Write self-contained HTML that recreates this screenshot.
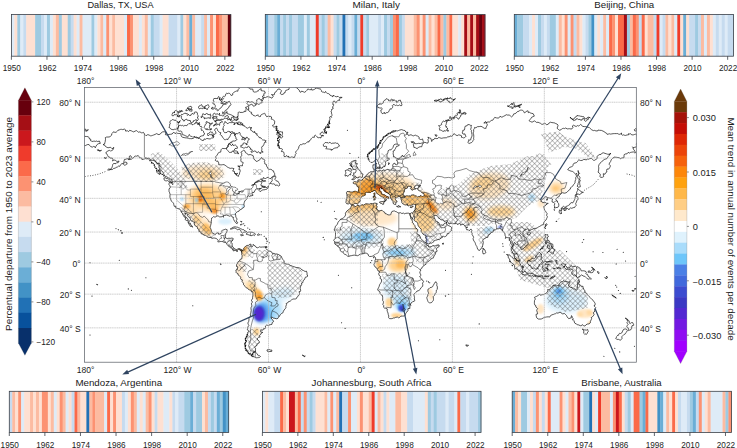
<!DOCTYPE html>
<html><head><meta charset="utf-8"><title>Figure</title>
<style>html,body{margin:0;padding:0;background:#fff;}svg{display:block}text{font-family:"Liberation Sans",sans-serif;}</style>
</head><body>
<svg width="737" height="448" viewBox="0 0 737 448">
<defs>
<clipPath id="mapclip"><rect x="84.6" y="87.4" width="551.70" height="274.80"/></clipPath>
<filter id="sb" x="-2%" y="-2%" width="104%" height="104%"><feGaussianBlur stdDeviation="0.45 0"/></filter>

<filter id="blob" x="-30%" y="-30%" width="160%" height="160%"><feGaussianBlur stdDeviation="2.2"/></filter>
<filter id="blob2" x="-30%" y="-30%" width="160%" height="160%"><feGaussianBlur stdDeviation="1.2"/></filter>
<pattern id="hatch" width="3.6" height="3.6" patternUnits="userSpaceOnUse" patternTransform="rotate(45)">
<path d="M0,0 H3.6 M0,0 V3.6" stroke="#454545" stroke-width="0.62" fill="none"/>
</pattern>

</defs>
<rect width="737" height="448" fill="#fff"/>
<g filter="url(#sb)"><rect x="11.40" y="14.5" width="3.26" height="41.70" fill="#deebf7"/><rect x="14.36" y="14.5" width="3.26" height="41.70" fill="#fee0d2"/><rect x="17.33" y="14.5" width="3.26" height="41.70" fill="#9ecae1"/><rect x="20.29" y="14.5" width="3.26" height="41.70" fill="#deebf7"/><rect x="23.26" y="14.5" width="3.26" height="41.70" fill="#c6dbef"/><rect x="26.22" y="14.5" width="9.19" height="41.70" fill="#fee0d2"/><rect x="35.12" y="14.5" width="6.23" height="41.70" fill="#9ecae1"/><rect x="41.05" y="14.5" width="3.26" height="41.70" fill="#c6dbef"/><rect x="44.01" y="14.5" width="3.26" height="41.70" fill="#deebf7"/><rect x="46.98" y="14.5" width="3.26" height="41.70" fill="#9ecae1"/><rect x="49.94" y="14.5" width="3.26" height="41.70" fill="#deebf7"/><rect x="52.91" y="14.5" width="3.26" height="41.70" fill="#fee0d2"/><rect x="55.87" y="14.5" width="3.26" height="41.70" fill="#fcbba1"/><rect x="58.84" y="14.5" width="3.26" height="41.70" fill="#9ecae1"/><rect x="61.80" y="14.5" width="6.23" height="41.70" fill="#fee0d2"/><rect x="67.73" y="14.5" width="3.26" height="41.70" fill="#9ecae1"/><rect x="70.70" y="14.5" width="3.26" height="41.70" fill="#c6dbef"/><rect x="73.66" y="14.5" width="3.26" height="41.70" fill="#fee0d2"/><rect x="76.63" y="14.5" width="3.26" height="41.70" fill="#deebf7"/><rect x="79.59" y="14.5" width="3.26" height="41.70" fill="#fcbba1"/><rect x="82.56" y="14.5" width="9.19" height="41.70" fill="#deebf7"/><rect x="91.45" y="14.5" width="3.26" height="41.70" fill="#9ecae1"/><rect x="94.42" y="14.5" width="3.26" height="41.70" fill="#deebf7"/><rect x="97.38" y="14.5" width="3.26" height="41.70" fill="#fee0d2"/><rect x="100.35" y="14.5" width="3.26" height="41.70" fill="#fcbba1"/><rect x="103.31" y="14.5" width="3.26" height="41.70" fill="#deebf7"/><rect x="106.28" y="14.5" width="3.26" height="41.70" fill="#fc9272"/><rect x="109.24" y="14.5" width="3.26" height="41.70" fill="#fee0d2"/><rect x="112.21" y="14.5" width="3.26" height="41.70" fill="#fcbba1"/><rect x="115.17" y="14.5" width="9.19" height="41.70" fill="#fee0d2"/><rect x="124.06" y="14.5" width="3.26" height="41.70" fill="#deebf7"/><rect x="127.03" y="14.5" width="3.26" height="41.70" fill="#fb6a4a"/><rect x="129.99" y="14.5" width="3.26" height="41.70" fill="#fc9272"/><rect x="132.96" y="14.5" width="6.23" height="41.70" fill="#fee0d2"/><rect x="138.89" y="14.5" width="3.26" height="41.70" fill="#deebf7"/><rect x="141.85" y="14.5" width="3.26" height="41.70" fill="#fee0d2"/><rect x="144.82" y="14.5" width="3.26" height="41.70" fill="#fcbba1"/><rect x="147.78" y="14.5" width="3.26" height="41.70" fill="#deebf7"/><rect x="150.75" y="14.5" width="3.26" height="41.70" fill="#9ecae1"/><rect x="153.71" y="14.5" width="6.23" height="41.70" fill="#c6dbef"/><rect x="159.64" y="14.5" width="3.26" height="41.70" fill="#deebf7"/><rect x="162.61" y="14.5" width="6.23" height="41.70" fill="#fee0d2"/><rect x="168.54" y="14.5" width="9.19" height="41.70" fill="#c6dbef"/><rect x="177.43" y="14.5" width="3.26" height="41.70" fill="#deebf7"/><rect x="180.40" y="14.5" width="3.26" height="41.70" fill="#9ecae1"/><rect x="183.36" y="14.5" width="3.26" height="41.70" fill="#fee0d2"/><rect x="186.33" y="14.5" width="3.26" height="41.70" fill="#fcbba1"/><rect x="189.29" y="14.5" width="3.26" height="41.70" fill="#6baed6"/><rect x="192.26" y="14.5" width="3.26" height="41.70" fill="#fcbba1"/><rect x="195.22" y="14.5" width="6.23" height="41.70" fill="#deebf7"/><rect x="201.15" y="14.5" width="3.26" height="41.70" fill="#c6dbef"/><rect x="204.12" y="14.5" width="3.26" height="41.70" fill="#fcbba1"/><rect x="207.08" y="14.5" width="3.26" height="41.70" fill="#deebf7"/><rect x="210.05" y="14.5" width="3.26" height="41.70" fill="#fc9272"/><rect x="213.01" y="14.5" width="3.26" height="41.70" fill="#fee0d2"/><rect x="215.98" y="14.5" width="3.26" height="41.70" fill="#fb6a4a"/><rect x="218.94" y="14.5" width="3.26" height="41.70" fill="#fc9272"/><rect x="221.91" y="14.5" width="6.23" height="41.70" fill="#fcbba1"/><rect x="227.84" y="14.5" width="3.26" height="41.70" fill="#67000d"/></g>
<rect x="11.4" y="14.5" width="219.40" height="41.70" fill="none" stroke="#3a3f47" stroke-width="0.8"/>
<line x1="11.40" y1="56.2" x2="11.40" y2="59.800000000000004" stroke="#3a3f47" stroke-width="0.8"/>
<text transform="translate(11.80,71.10) scale(0.99,1)" font-size="8.3" text-anchor="middle" fill="#222" >1950</text>
<line x1="46.98" y1="56.2" x2="46.98" y2="59.800000000000004" stroke="#3a3f47" stroke-width="0.8"/>
<text transform="translate(47.38,71.10) scale(0.99,1)" font-size="8.3" text-anchor="middle" fill="#222" >1962</text>
<line x1="82.56" y1="56.2" x2="82.56" y2="59.800000000000004" stroke="#3a3f47" stroke-width="0.8"/>
<text transform="translate(82.96,71.10) scale(0.99,1)" font-size="8.3" text-anchor="middle" fill="#222" >1974</text>
<line x1="118.14" y1="56.2" x2="118.14" y2="59.800000000000004" stroke="#3a3f47" stroke-width="0.8"/>
<text transform="translate(118.54,71.10) scale(0.99,1)" font-size="8.3" text-anchor="middle" fill="#222" >1986</text>
<line x1="153.71" y1="56.2" x2="153.71" y2="59.800000000000004" stroke="#3a3f47" stroke-width="0.8"/>
<text transform="translate(154.11,71.10) scale(0.99,1)" font-size="8.3" text-anchor="middle" fill="#222" >1998</text>
<line x1="189.29" y1="56.2" x2="189.29" y2="59.800000000000004" stroke="#3a3f47" stroke-width="0.8"/>
<text transform="translate(189.69,71.10) scale(0.99,1)" font-size="8.3" text-anchor="middle" fill="#222" >2010</text>
<line x1="224.87" y1="56.2" x2="224.87" y2="59.800000000000004" stroke="#3a3f47" stroke-width="0.8"/>
<text transform="translate(225.27,71.10) scale(0.99,1)" font-size="8.3" text-anchor="middle" fill="#222" >2022</text>
<text x="87.5" y="7.7" font-size="9" fill="#1a1a1a" textLength="66.1" lengthAdjust="spacingAndGlyphs">Dallas, TX, USA</text>
<g filter="url(#sb)"><rect x="265.30" y="14.5" width="3.27" height="41.70" fill="#6baed6"/><rect x="268.27" y="14.5" width="6.24" height="41.70" fill="#c6dbef"/><rect x="274.21" y="14.5" width="3.27" height="41.70" fill="#9ecae1"/><rect x="277.18" y="14.5" width="3.27" height="41.70" fill="#6baed6"/><rect x="280.14" y="14.5" width="3.27" height="41.70" fill="#c6dbef"/><rect x="283.11" y="14.5" width="3.27" height="41.70" fill="#9ecae1"/><rect x="286.08" y="14.5" width="3.27" height="41.70" fill="#c6dbef"/><rect x="289.05" y="14.5" width="3.27" height="41.70" fill="#9ecae1"/><rect x="292.02" y="14.5" width="6.24" height="41.70" fill="#c6dbef"/><rect x="297.96" y="14.5" width="6.24" height="41.70" fill="#9ecae1"/><rect x="303.90" y="14.5" width="3.27" height="41.70" fill="#deebf7"/><rect x="306.86" y="14.5" width="3.27" height="41.70" fill="#9ecae1"/><rect x="309.83" y="14.5" width="6.24" height="41.70" fill="#deebf7"/><rect x="315.77" y="14.5" width="3.27" height="41.70" fill="#ef3b2c"/><rect x="318.74" y="14.5" width="3.27" height="41.70" fill="#c6dbef"/><rect x="321.71" y="14.5" width="3.27" height="41.70" fill="#9ecae1"/><rect x="324.68" y="14.5" width="3.27" height="41.70" fill="#c6dbef"/><rect x="327.65" y="14.5" width="3.27" height="41.70" fill="#fcbba1"/><rect x="330.62" y="14.5" width="3.27" height="41.70" fill="#fee0d2"/><rect x="333.59" y="14.5" width="3.27" height="41.70" fill="#c6dbef"/><rect x="336.55" y="14.5" width="3.27" height="41.70" fill="#9ecae1"/><rect x="339.52" y="14.5" width="3.27" height="41.70" fill="#c6dbef"/><rect x="342.49" y="14.5" width="3.27" height="41.70" fill="#2171b5"/><rect x="345.46" y="14.5" width="3.27" height="41.70" fill="#c6dbef"/><rect x="348.43" y="14.5" width="3.27" height="41.70" fill="#deebf7"/><rect x="351.40" y="14.5" width="3.27" height="41.70" fill="#c6dbef"/><rect x="354.37" y="14.5" width="3.27" height="41.70" fill="#6baed6"/><rect x="357.34" y="14.5" width="3.27" height="41.70" fill="#c6dbef"/><rect x="360.31" y="14.5" width="3.27" height="41.70" fill="#ef3b2c"/><rect x="363.27" y="14.5" width="3.27" height="41.70" fill="#c6dbef"/><rect x="366.24" y="14.5" width="3.27" height="41.70" fill="#9ecae1"/><rect x="369.21" y="14.5" width="9.21" height="41.70" fill="#deebf7"/><rect x="378.12" y="14.5" width="3.27" height="41.70" fill="#c6dbef"/><rect x="381.09" y="14.5" width="3.27" height="41.70" fill="#deebf7"/><rect x="384.06" y="14.5" width="3.27" height="41.70" fill="#9ecae1"/><rect x="387.03" y="14.5" width="3.27" height="41.70" fill="#c6dbef"/><rect x="389.99" y="14.5" width="3.27" height="41.70" fill="#9ecae1"/><rect x="392.96" y="14.5" width="3.27" height="41.70" fill="#fc9272"/><rect x="395.93" y="14.5" width="3.27" height="41.70" fill="#fb6a4a"/><rect x="398.90" y="14.5" width="3.27" height="41.70" fill="#9ecae1"/><rect x="401.87" y="14.5" width="3.27" height="41.70" fill="#c6dbef"/><rect x="404.84" y="14.5" width="9.21" height="41.70" fill="#fee0d2"/><rect x="413.75" y="14.5" width="3.27" height="41.70" fill="#fcbba1"/><rect x="416.71" y="14.5" width="3.27" height="41.70" fill="#fc9272"/><rect x="419.68" y="14.5" width="3.27" height="41.70" fill="#fee0d2"/><rect x="422.65" y="14.5" width="3.27" height="41.70" fill="#fc9272"/><rect x="425.62" y="14.5" width="3.27" height="41.70" fill="#deebf7"/><rect x="428.59" y="14.5" width="3.27" height="41.70" fill="#fcbba1"/><rect x="431.56" y="14.5" width="3.27" height="41.70" fill="#fee0d2"/><rect x="434.53" y="14.5" width="3.27" height="41.70" fill="#fcbba1"/><rect x="437.50" y="14.5" width="3.27" height="41.70" fill="#fb6a4a"/><rect x="440.47" y="14.5" width="3.27" height="41.70" fill="#fcbba1"/><rect x="443.44" y="14.5" width="3.27" height="41.70" fill="#9ecae1"/><rect x="446.40" y="14.5" width="3.27" height="41.70" fill="#fcbba1"/><rect x="449.37" y="14.5" width="3.27" height="41.70" fill="#fb6a4a"/><rect x="452.34" y="14.5" width="6.24" height="41.70" fill="#fee0d2"/><rect x="458.28" y="14.5" width="3.27" height="41.70" fill="#deebf7"/><rect x="461.25" y="14.5" width="3.27" height="41.70" fill="#fee0d2"/><rect x="464.22" y="14.5" width="3.27" height="41.70" fill="#a50f15"/><rect x="467.19" y="14.5" width="3.27" height="41.70" fill="#fcbba1"/><rect x="470.16" y="14.5" width="3.27" height="41.70" fill="#a50f15"/><rect x="473.12" y="14.5" width="3.27" height="41.70" fill="#fcbba1"/><rect x="476.09" y="14.5" width="3.27" height="41.70" fill="#a50f15"/><rect x="479.06" y="14.5" width="3.27" height="41.70" fill="#67000d"/><rect x="482.03" y="14.5" width="3.27" height="41.70" fill="#a50f15"/></g>
<rect x="265.3" y="14.5" width="219.70" height="41.70" fill="none" stroke="#3a3f47" stroke-width="0.8"/>
<line x1="265.30" y1="56.2" x2="265.30" y2="59.800000000000004" stroke="#3a3f47" stroke-width="0.8"/>
<text transform="translate(265.70,71.10) scale(0.99,1)" font-size="8.3" text-anchor="middle" fill="#222" >1950</text>
<line x1="300.93" y1="56.2" x2="300.93" y2="59.800000000000004" stroke="#3a3f47" stroke-width="0.8"/>
<text transform="translate(301.33,71.10) scale(0.99,1)" font-size="8.3" text-anchor="middle" fill="#222" >1962</text>
<line x1="336.55" y1="56.2" x2="336.55" y2="59.800000000000004" stroke="#3a3f47" stroke-width="0.8"/>
<text transform="translate(336.95,71.10) scale(0.99,1)" font-size="8.3" text-anchor="middle" fill="#222" >1974</text>
<line x1="372.18" y1="56.2" x2="372.18" y2="59.800000000000004" stroke="#3a3f47" stroke-width="0.8"/>
<text transform="translate(372.58,71.10) scale(0.99,1)" font-size="8.3" text-anchor="middle" fill="#222" >1986</text>
<line x1="407.81" y1="56.2" x2="407.81" y2="59.800000000000004" stroke="#3a3f47" stroke-width="0.8"/>
<text transform="translate(408.21,71.10) scale(0.99,1)" font-size="8.3" text-anchor="middle" fill="#222" >1998</text>
<line x1="443.44" y1="56.2" x2="443.44" y2="59.800000000000004" stroke="#3a3f47" stroke-width="0.8"/>
<text transform="translate(443.84,71.10) scale(0.99,1)" font-size="8.3" text-anchor="middle" fill="#222" >2010</text>
<line x1="479.06" y1="56.2" x2="479.06" y2="59.800000000000004" stroke="#3a3f47" stroke-width="0.8"/>
<text transform="translate(479.46,71.10) scale(0.99,1)" font-size="8.3" text-anchor="middle" fill="#222" >2022</text>
<text x="352.6" y="7.7" font-size="9" fill="#1a1a1a" textLength="47.4" lengthAdjust="spacingAndGlyphs">Milan, Italy</text>
<g filter="url(#sb)"><rect x="514.30" y="14.5" width="3.26" height="41.70" fill="#6baed6"/><rect x="517.26" y="14.5" width="6.23" height="41.70" fill="#9ecae1"/><rect x="523.19" y="14.5" width="6.23" height="41.70" fill="#c6dbef"/><rect x="529.12" y="14.5" width="3.26" height="41.70" fill="#deebf7"/><rect x="532.08" y="14.5" width="3.26" height="41.70" fill="#fee0d2"/><rect x="535.04" y="14.5" width="3.26" height="41.70" fill="#deebf7"/><rect x="538.01" y="14.5" width="3.26" height="41.70" fill="#9ecae1"/><rect x="540.97" y="14.5" width="3.26" height="41.70" fill="#c6dbef"/><rect x="543.94" y="14.5" width="3.26" height="41.70" fill="#deebf7"/><rect x="546.90" y="14.5" width="3.26" height="41.70" fill="#c6dbef"/><rect x="549.86" y="14.5" width="6.23" height="41.70" fill="#9ecae1"/><rect x="555.79" y="14.5" width="3.26" height="41.70" fill="#deebf7"/><rect x="558.75" y="14.5" width="3.26" height="41.70" fill="#fcbba1"/><rect x="561.72" y="14.5" width="3.26" height="41.70" fill="#fee0d2"/><rect x="564.68" y="14.5" width="3.26" height="41.70" fill="#fc9272"/><rect x="567.64" y="14.5" width="3.26" height="41.70" fill="#deebf7"/><rect x="570.61" y="14.5" width="3.26" height="41.70" fill="#fc9272"/><rect x="573.57" y="14.5" width="3.26" height="41.70" fill="#c6dbef"/><rect x="576.53" y="14.5" width="3.26" height="41.70" fill="#fcbba1"/><rect x="579.50" y="14.5" width="3.26" height="41.70" fill="#fee0d2"/><rect x="582.46" y="14.5" width="3.26" height="41.70" fill="#deebf7"/><rect x="585.42" y="14.5" width="3.26" height="41.70" fill="#c6dbef"/><rect x="588.39" y="14.5" width="3.26" height="41.70" fill="#9ecae1"/><rect x="591.35" y="14.5" width="3.26" height="41.70" fill="#4292c6"/><rect x="594.31" y="14.5" width="3.26" height="41.70" fill="#deebf7"/><rect x="597.28" y="14.5" width="3.26" height="41.70" fill="#fee0d2"/><rect x="600.24" y="14.5" width="3.26" height="41.70" fill="#deebf7"/><rect x="603.21" y="14.5" width="3.26" height="41.70" fill="#fcbba1"/><rect x="606.17" y="14.5" width="3.26" height="41.70" fill="#deebf7"/><rect x="609.13" y="14.5" width="3.26" height="41.70" fill="#fb6a4a"/><rect x="612.10" y="14.5" width="3.26" height="41.70" fill="#fc9272"/><rect x="615.06" y="14.5" width="3.26" height="41.70" fill="#fee0d2"/><rect x="618.02" y="14.5" width="6.23" height="41.70" fill="#fb6a4a"/><rect x="623.95" y="14.5" width="3.26" height="41.70" fill="#a50f15"/><rect x="626.91" y="14.5" width="3.26" height="41.70" fill="#9ecae1"/><rect x="629.88" y="14.5" width="3.26" height="41.70" fill="#fcbba1"/><rect x="632.84" y="14.5" width="3.26" height="41.70" fill="#fb6a4a"/><rect x="635.80" y="14.5" width="3.26" height="41.70" fill="#fc9272"/><rect x="638.77" y="14.5" width="3.26" height="41.70" fill="#c6dbef"/><rect x="641.73" y="14.5" width="3.26" height="41.70" fill="#fb6a4a"/><rect x="644.69" y="14.5" width="3.26" height="41.70" fill="#fee0d2"/><rect x="647.66" y="14.5" width="6.23" height="41.70" fill="#fcbba1"/><rect x="653.59" y="14.5" width="3.26" height="41.70" fill="#c6dbef"/><rect x="656.55" y="14.5" width="3.26" height="41.70" fill="#ef3b2c"/><rect x="659.51" y="14.5" width="3.26" height="41.70" fill="#deebf7"/><rect x="662.48" y="14.5" width="3.26" height="41.70" fill="#c6dbef"/><rect x="665.44" y="14.5" width="3.26" height="41.70" fill="#fcbba1"/><rect x="668.40" y="14.5" width="3.26" height="41.70" fill="#fee0d2"/><rect x="671.37" y="14.5" width="3.26" height="41.70" fill="#fcbba1"/><rect x="674.33" y="14.5" width="3.26" height="41.70" fill="#deebf7"/><rect x="677.29" y="14.5" width="3.26" height="41.70" fill="#ef3b2c"/><rect x="680.26" y="14.5" width="3.26" height="41.70" fill="#fee0d2"/><rect x="683.22" y="14.5" width="3.26" height="41.70" fill="#6baed6"/><rect x="686.18" y="14.5" width="3.26" height="41.70" fill="#fee0d2"/><rect x="689.15" y="14.5" width="6.23" height="41.70" fill="#c6dbef"/><rect x="695.07" y="14.5" width="3.26" height="41.70" fill="#9ecae1"/><rect x="698.04" y="14.5" width="3.26" height="41.70" fill="#c6dbef"/><rect x="701.00" y="14.5" width="3.26" height="41.70" fill="#fcbba1"/><rect x="703.96" y="14.5" width="3.26" height="41.70" fill="#deebf7"/><rect x="706.93" y="14.5" width="3.26" height="41.70" fill="#fcbba1"/><rect x="709.89" y="14.5" width="3.26" height="41.70" fill="#fee0d2"/><rect x="712.86" y="14.5" width="3.26" height="41.70" fill="#deebf7"/><rect x="715.82" y="14.5" width="3.26" height="41.70" fill="#c6dbef"/><rect x="718.78" y="14.5" width="3.26" height="41.70" fill="#deebf7"/><rect x="721.75" y="14.5" width="3.26" height="41.70" fill="#c6dbef"/><rect x="724.71" y="14.5" width="3.26" height="41.70" fill="#deebf7"/><rect x="727.67" y="14.5" width="6.23" height="41.70" fill="#c6dbef"/></g>
<rect x="514.3" y="14.5" width="219.30" height="41.70" fill="none" stroke="#3a3f47" stroke-width="0.8"/>
<line x1="514.30" y1="56.2" x2="514.30" y2="59.800000000000004" stroke="#3a3f47" stroke-width="0.8"/>
<text transform="translate(514.70,71.10) scale(0.99,1)" font-size="8.3" text-anchor="middle" fill="#222" >1950</text>
<line x1="549.86" y1="56.2" x2="549.86" y2="59.800000000000004" stroke="#3a3f47" stroke-width="0.8"/>
<text transform="translate(550.26,71.10) scale(0.99,1)" font-size="8.3" text-anchor="middle" fill="#222" >1962</text>
<line x1="585.42" y1="56.2" x2="585.42" y2="59.800000000000004" stroke="#3a3f47" stroke-width="0.8"/>
<text transform="translate(585.82,71.10) scale(0.99,1)" font-size="8.3" text-anchor="middle" fill="#222" >1974</text>
<line x1="620.99" y1="56.2" x2="620.99" y2="59.800000000000004" stroke="#3a3f47" stroke-width="0.8"/>
<text transform="translate(621.39,71.10) scale(0.99,1)" font-size="8.3" text-anchor="middle" fill="#222" >1986</text>
<line x1="656.55" y1="56.2" x2="656.55" y2="59.800000000000004" stroke="#3a3f47" stroke-width="0.8"/>
<text transform="translate(656.95,71.10) scale(0.99,1)" font-size="8.3" text-anchor="middle" fill="#222" >1998</text>
<line x1="692.11" y1="56.2" x2="692.11" y2="59.800000000000004" stroke="#3a3f47" stroke-width="0.8"/>
<text transform="translate(692.51,71.10) scale(0.99,1)" font-size="8.3" text-anchor="middle" fill="#222" >2010</text>
<line x1="727.67" y1="56.2" x2="727.67" y2="59.800000000000004" stroke="#3a3f47" stroke-width="0.8"/>
<text transform="translate(728.07,71.10) scale(0.99,1)" font-size="8.3" text-anchor="middle" fill="#222" >2022</text>
<text x="594.3" y="7.7" font-size="9" fill="#1a1a1a" textLength="59.9" lengthAdjust="spacingAndGlyphs">Beijing, China</text>
<g filter="url(#sb)"><rect x="9.30" y="391.3" width="3.26" height="41.10" fill="#c6dbef"/><rect x="12.26" y="391.3" width="3.26" height="41.10" fill="#fcbba1"/><rect x="15.23" y="391.3" width="3.26" height="41.10" fill="#fee0d2"/><rect x="18.19" y="391.3" width="3.26" height="41.10" fill="#fc9272"/><rect x="21.16" y="391.3" width="3.26" height="41.10" fill="#deebf7"/><rect x="24.12" y="391.3" width="6.23" height="41.10" fill="#fee0d2"/><rect x="30.05" y="391.3" width="3.26" height="41.10" fill="#fcbba1"/><rect x="33.02" y="391.3" width="3.26" height="41.10" fill="#fee0d2"/><rect x="35.98" y="391.3" width="3.26" height="41.10" fill="#fcbba1"/><rect x="38.95" y="391.3" width="3.26" height="41.10" fill="#fee0d2"/><rect x="41.91" y="391.3" width="6.23" height="41.10" fill="#fc9272"/><rect x="47.84" y="391.3" width="3.26" height="41.10" fill="#fee0d2"/><rect x="50.81" y="391.3" width="3.26" height="41.10" fill="#fcbba1"/><rect x="53.77" y="391.3" width="3.26" height="41.10" fill="#deebf7"/><rect x="56.74" y="391.3" width="3.26" height="41.10" fill="#fee0d2"/><rect x="59.70" y="391.3" width="3.26" height="41.10" fill="#fc9272"/><rect x="62.67" y="391.3" width="3.26" height="41.10" fill="#fcbba1"/><rect x="65.63" y="391.3" width="3.26" height="41.10" fill="#deebf7"/><rect x="68.60" y="391.3" width="3.26" height="41.10" fill="#fee0d2"/><rect x="71.56" y="391.3" width="3.26" height="41.10" fill="#c6dbef"/><rect x="74.53" y="391.3" width="3.26" height="41.10" fill="#fb6a4a"/><rect x="77.49" y="391.3" width="3.26" height="41.10" fill="#fcbba1"/><rect x="80.46" y="391.3" width="6.23" height="41.10" fill="#fee0d2"/><rect x="86.39" y="391.3" width="3.26" height="41.10" fill="#2171b5"/><rect x="89.35" y="391.3" width="3.26" height="41.10" fill="#fcbba1"/><rect x="92.32" y="391.3" width="3.26" height="41.10" fill="#fc9272"/><rect x="95.28" y="391.3" width="9.19" height="41.10" fill="#fcbba1"/><rect x="104.18" y="391.3" width="3.26" height="41.10" fill="#deebf7"/><rect x="107.14" y="391.3" width="3.26" height="41.10" fill="#fb6a4a"/><rect x="110.11" y="391.3" width="3.26" height="41.10" fill="#fee0d2"/><rect x="113.07" y="391.3" width="3.26" height="41.10" fill="#fc9272"/><rect x="116.04" y="391.3" width="6.23" height="41.10" fill="#fee0d2"/><rect x="121.96" y="391.3" width="3.26" height="41.10" fill="#c6dbef"/><rect x="124.93" y="391.3" width="3.26" height="41.10" fill="#deebf7"/><rect x="127.89" y="391.3" width="3.26" height="41.10" fill="#fee0d2"/><rect x="130.86" y="391.3" width="3.26" height="41.10" fill="#fc9272"/><rect x="133.82" y="391.3" width="3.26" height="41.10" fill="#fcbba1"/><rect x="136.79" y="391.3" width="3.26" height="41.10" fill="#deebf7"/><rect x="139.75" y="391.3" width="3.26" height="41.10" fill="#fee0d2"/><rect x="142.72" y="391.3" width="3.26" height="41.10" fill="#deebf7"/><rect x="145.68" y="391.3" width="3.26" height="41.10" fill="#fcbba1"/><rect x="148.65" y="391.3" width="3.26" height="41.10" fill="#fc9272"/><rect x="151.61" y="391.3" width="3.26" height="41.10" fill="#fee0d2"/><rect x="154.58" y="391.3" width="3.26" height="41.10" fill="#c6dbef"/><rect x="157.54" y="391.3" width="6.23" height="41.10" fill="#fee0d2"/><rect x="163.47" y="391.3" width="6.23" height="41.10" fill="#deebf7"/><rect x="169.40" y="391.3" width="3.26" height="41.10" fill="#fee0d2"/><rect x="172.37" y="391.3" width="3.26" height="41.10" fill="#c6dbef"/><rect x="175.33" y="391.3" width="3.26" height="41.10" fill="#deebf7"/><rect x="178.30" y="391.3" width="6.23" height="41.10" fill="#c6dbef"/><rect x="184.23" y="391.3" width="6.23" height="41.10" fill="#9ecae1"/><rect x="190.16" y="391.3" width="3.26" height="41.10" fill="#6baed6"/><rect x="193.12" y="391.3" width="3.26" height="41.10" fill="#c6dbef"/><rect x="196.09" y="391.3" width="6.23" height="41.10" fill="#9ecae1"/><rect x="202.02" y="391.3" width="3.26" height="41.10" fill="#fee0d2"/><rect x="204.98" y="391.3" width="3.26" height="41.10" fill="#fcbba1"/><rect x="207.95" y="391.3" width="3.26" height="41.10" fill="#c6dbef"/><rect x="210.91" y="391.3" width="3.26" height="41.10" fill="#9ecae1"/><rect x="213.88" y="391.3" width="3.26" height="41.10" fill="#c6dbef"/><rect x="216.84" y="391.3" width="3.26" height="41.10" fill="#6baed6"/><rect x="219.81" y="391.3" width="3.26" height="41.10" fill="#9ecae1"/><rect x="222.77" y="391.3" width="3.26" height="41.10" fill="#4292c6"/><rect x="225.74" y="391.3" width="3.26" height="41.10" fill="#6baed6"/></g>
<rect x="9.3" y="391.3" width="219.40" height="41.10" fill="none" stroke="#3a3f47" stroke-width="0.8"/>
<line x1="9.30" y1="432.4" x2="9.30" y2="436.0" stroke="#3a3f47" stroke-width="0.8"/>
<text transform="translate(9.70,447.80) scale(0.99,1)" font-size="8.3" text-anchor="middle" fill="#222" >1950</text>
<line x1="44.88" y1="432.4" x2="44.88" y2="436.0" stroke="#3a3f47" stroke-width="0.8"/>
<text transform="translate(45.28,447.80) scale(0.99,1)" font-size="8.3" text-anchor="middle" fill="#222" >1962</text>
<line x1="80.46" y1="432.4" x2="80.46" y2="436.0" stroke="#3a3f47" stroke-width="0.8"/>
<text transform="translate(80.86,447.80) scale(0.99,1)" font-size="8.3" text-anchor="middle" fill="#222" >1974</text>
<line x1="116.04" y1="432.4" x2="116.04" y2="436.0" stroke="#3a3f47" stroke-width="0.8"/>
<text transform="translate(116.44,447.80) scale(0.99,1)" font-size="8.3" text-anchor="middle" fill="#222" >1986</text>
<line x1="151.61" y1="432.4" x2="151.61" y2="436.0" stroke="#3a3f47" stroke-width="0.8"/>
<text transform="translate(152.01,447.80) scale(0.99,1)" font-size="8.3" text-anchor="middle" fill="#222" >1998</text>
<line x1="187.19" y1="432.4" x2="187.19" y2="436.0" stroke="#3a3f47" stroke-width="0.8"/>
<text transform="translate(187.59,447.80) scale(0.99,1)" font-size="8.3" text-anchor="middle" fill="#222" >2010</text>
<line x1="222.77" y1="432.4" x2="222.77" y2="436.0" stroke="#3a3f47" stroke-width="0.8"/>
<text transform="translate(223.17,447.80) scale(0.99,1)" font-size="8.3" text-anchor="middle" fill="#222" >2022</text>
<text x="75.4" y="385.5" font-size="9" fill="#1a1a1a" textLength="86.7" lengthAdjust="spacingAndGlyphs">Mendoza, Argentina</text>
<g filter="url(#sb)"><rect x="262.40" y="391.3" width="3.25" height="41.10" fill="#deebf7"/><rect x="265.35" y="391.3" width="3.25" height="41.10" fill="#fee0d2"/><rect x="268.31" y="391.3" width="6.21" height="41.10" fill="#deebf7"/><rect x="274.22" y="391.3" width="6.21" height="41.10" fill="#c6dbef"/><rect x="280.12" y="391.3" width="3.25" height="41.10" fill="#fb6a4a"/><rect x="283.08" y="391.3" width="3.25" height="41.10" fill="#fcbba1"/><rect x="286.03" y="391.3" width="3.25" height="41.10" fill="#fee0d2"/><rect x="288.99" y="391.3" width="6.21" height="41.10" fill="#cb181d"/><rect x="294.89" y="391.3" width="3.25" height="41.10" fill="#fcbba1"/><rect x="297.85" y="391.3" width="3.25" height="41.10" fill="#fb6a4a"/><rect x="300.80" y="391.3" width="3.25" height="41.10" fill="#c6dbef"/><rect x="303.76" y="391.3" width="3.25" height="41.10" fill="#fc9272"/><rect x="306.71" y="391.3" width="3.25" height="41.10" fill="#c6dbef"/><rect x="309.66" y="391.3" width="3.25" height="41.10" fill="#9ecae1"/><rect x="312.62" y="391.3" width="3.25" height="41.10" fill="#c6dbef"/><rect x="315.57" y="391.3" width="9.16" height="41.10" fill="#fee0d2"/><rect x="324.44" y="391.3" width="3.25" height="41.10" fill="#fcbba1"/><rect x="327.39" y="391.3" width="3.25" height="41.10" fill="#deebf7"/><rect x="330.34" y="391.3" width="3.25" height="41.10" fill="#fc9272"/><rect x="333.30" y="391.3" width="3.25" height="41.10" fill="#deebf7"/><rect x="336.25" y="391.3" width="3.25" height="41.10" fill="#fcbba1"/><rect x="339.21" y="391.3" width="3.25" height="41.10" fill="#2171b5"/><rect x="342.16" y="391.3" width="6.21" height="41.10" fill="#c6dbef"/><rect x="348.07" y="391.3" width="3.25" height="41.10" fill="#fc9272"/><rect x="351.02" y="391.3" width="6.21" height="41.10" fill="#deebf7"/><rect x="356.93" y="391.3" width="3.25" height="41.10" fill="#fee0d2"/><rect x="359.88" y="391.3" width="3.25" height="41.10" fill="#fc9272"/><rect x="362.84" y="391.3" width="6.21" height="41.10" fill="#fee0d2"/><rect x="368.75" y="391.3" width="3.25" height="41.10" fill="#fcbba1"/><rect x="371.70" y="391.3" width="3.25" height="41.10" fill="#ef3b2c"/><rect x="374.65" y="391.3" width="3.25" height="41.10" fill="#deebf7"/><rect x="377.61" y="391.3" width="3.25" height="41.10" fill="#fcbba1"/><rect x="380.56" y="391.3" width="3.25" height="41.10" fill="#fee0d2"/><rect x="383.52" y="391.3" width="3.25" height="41.10" fill="#c6dbef"/><rect x="386.47" y="391.3" width="3.25" height="41.10" fill="#fee0d2"/><rect x="389.42" y="391.3" width="6.21" height="41.10" fill="#deebf7"/><rect x="395.33" y="391.3" width="6.21" height="41.10" fill="#fcbba1"/><rect x="401.24" y="391.3" width="6.21" height="41.10" fill="#fee0d2"/><rect x="407.15" y="391.3" width="6.21" height="41.10" fill="#c6dbef"/><rect x="413.06" y="391.3" width="12.12" height="41.10" fill="#deebf7"/><rect x="424.87" y="391.3" width="3.25" height="41.10" fill="#fee0d2"/><rect x="427.83" y="391.3" width="3.25" height="41.10" fill="#9ecae1"/><rect x="430.78" y="391.3" width="3.25" height="41.10" fill="#c6dbef"/><rect x="433.74" y="391.3" width="3.25" height="41.10" fill="#9ecae1"/><rect x="436.69" y="391.3" width="9.16" height="41.10" fill="#c6dbef"/><rect x="445.55" y="391.3" width="3.25" height="41.10" fill="#deebf7"/><rect x="448.51" y="391.3" width="6.21" height="41.10" fill="#c6dbef"/><rect x="454.41" y="391.3" width="3.25" height="41.10" fill="#deebf7"/><rect x="457.37" y="391.3" width="3.25" height="41.10" fill="#fb6a4a"/><rect x="460.32" y="391.3" width="6.21" height="41.10" fill="#c6dbef"/><rect x="466.23" y="391.3" width="3.25" height="41.10" fill="#deebf7"/><rect x="469.18" y="391.3" width="9.16" height="41.10" fill="#c6dbef"/><rect x="478.05" y="391.3" width="3.25" height="41.10" fill="#9ecae1"/></g>
<rect x="262.4" y="391.3" width="218.60" height="41.10" fill="none" stroke="#3a3f47" stroke-width="0.8"/>
<line x1="262.40" y1="432.4" x2="262.40" y2="436.0" stroke="#3a3f47" stroke-width="0.8"/>
<text transform="translate(262.80,447.80) scale(0.99,1)" font-size="8.3" text-anchor="middle" fill="#222" >1950</text>
<line x1="297.85" y1="432.4" x2="297.85" y2="436.0" stroke="#3a3f47" stroke-width="0.8"/>
<text transform="translate(298.25,447.80) scale(0.99,1)" font-size="8.3" text-anchor="middle" fill="#222" >1962</text>
<line x1="333.30" y1="432.4" x2="333.30" y2="436.0" stroke="#3a3f47" stroke-width="0.8"/>
<text transform="translate(333.70,447.80) scale(0.99,1)" font-size="8.3" text-anchor="middle" fill="#222" >1974</text>
<line x1="368.75" y1="432.4" x2="368.75" y2="436.0" stroke="#3a3f47" stroke-width="0.8"/>
<text transform="translate(369.15,447.80) scale(0.99,1)" font-size="8.3" text-anchor="middle" fill="#222" >1986</text>
<line x1="404.19" y1="432.4" x2="404.19" y2="436.0" stroke="#3a3f47" stroke-width="0.8"/>
<text transform="translate(404.59,447.80) scale(0.99,1)" font-size="8.3" text-anchor="middle" fill="#222" >1998</text>
<line x1="439.64" y1="432.4" x2="439.64" y2="436.0" stroke="#3a3f47" stroke-width="0.8"/>
<text transform="translate(440.04,447.80) scale(0.99,1)" font-size="8.3" text-anchor="middle" fill="#222" >2010</text>
<line x1="475.09" y1="432.4" x2="475.09" y2="436.0" stroke="#3a3f47" stroke-width="0.8"/>
<text transform="translate(475.49,447.80) scale(0.99,1)" font-size="8.3" text-anchor="middle" fill="#222" >2022</text>
<text x="311.6" y="385.5" font-size="9" fill="#1a1a1a" textLength="119.8" lengthAdjust="spacingAndGlyphs">Johannesburg, South Africa</text>
<g filter="url(#sb)"><rect x="512.20" y="391.3" width="3.26" height="41.10" fill="#6baed6"/><rect x="515.16" y="391.3" width="3.26" height="41.10" fill="#fcbba1"/><rect x="518.12" y="391.3" width="3.26" height="41.10" fill="#fee0d2"/><rect x="521.09" y="391.3" width="6.22" height="41.10" fill="#9ecae1"/><rect x="527.01" y="391.3" width="3.26" height="41.10" fill="#deebf7"/><rect x="529.97" y="391.3" width="3.26" height="41.10" fill="#fee0d2"/><rect x="532.94" y="391.3" width="3.26" height="41.10" fill="#c6dbef"/><rect x="535.90" y="391.3" width="3.26" height="41.10" fill="#fc9272"/><rect x="538.86" y="391.3" width="3.26" height="41.10" fill="#fee0d2"/><rect x="541.82" y="391.3" width="3.26" height="41.10" fill="#c6dbef"/><rect x="544.78" y="391.3" width="3.26" height="41.10" fill="#fee0d2"/><rect x="547.75" y="391.3" width="3.26" height="41.10" fill="#fb6a4a"/><rect x="550.71" y="391.3" width="9.19" height="41.10" fill="#deebf7"/><rect x="559.59" y="391.3" width="3.26" height="41.10" fill="#fc9272"/><rect x="562.56" y="391.3" width="3.26" height="41.10" fill="#fee0d2"/><rect x="565.52" y="391.3" width="3.26" height="41.10" fill="#deebf7"/><rect x="568.48" y="391.3" width="3.26" height="41.10" fill="#fcbba1"/><rect x="571.44" y="391.3" width="3.26" height="41.10" fill="#fc9272"/><rect x="574.41" y="391.3" width="3.26" height="41.10" fill="#fee0d2"/><rect x="577.37" y="391.3" width="3.26" height="41.10" fill="#cb181d"/><rect x="580.33" y="391.3" width="3.26" height="41.10" fill="#deebf7"/><rect x="583.29" y="391.3" width="6.22" height="41.10" fill="#9ecae1"/><rect x="589.22" y="391.3" width="3.26" height="41.10" fill="#2171b5"/><rect x="592.18" y="391.3" width="3.26" height="41.10" fill="#fee0d2"/><rect x="595.14" y="391.3" width="3.26" height="41.10" fill="#deebf7"/><rect x="598.10" y="391.3" width="3.26" height="41.10" fill="#ef3b2c"/><rect x="601.06" y="391.3" width="9.19" height="41.10" fill="#fcbba1"/><rect x="609.95" y="391.3" width="3.26" height="41.10" fill="#deebf7"/><rect x="612.91" y="391.3" width="3.26" height="41.10" fill="#fc9272"/><rect x="615.88" y="391.3" width="3.26" height="41.10" fill="#cb181d"/><rect x="618.84" y="391.3" width="3.26" height="41.10" fill="#fb6a4a"/><rect x="621.80" y="391.3" width="3.26" height="41.10" fill="#fee0d2"/><rect x="624.76" y="391.3" width="3.26" height="41.10" fill="#c6dbef"/><rect x="627.72" y="391.3" width="3.26" height="41.10" fill="#9ecae1"/><rect x="630.69" y="391.3" width="3.26" height="41.10" fill="#deebf7"/><rect x="633.65" y="391.3" width="6.22" height="41.10" fill="#fb6a4a"/><rect x="639.57" y="391.3" width="3.26" height="41.10" fill="#9ecae1"/><rect x="642.54" y="391.3" width="3.26" height="41.10" fill="#6baed6"/><rect x="645.50" y="391.3" width="3.26" height="41.10" fill="#fb6a4a"/><rect x="648.46" y="391.3" width="9.19" height="41.10" fill="#fee0d2"/><rect x="657.35" y="391.3" width="3.26" height="41.10" fill="#4292c6"/><rect x="660.31" y="391.3" width="3.26" height="41.10" fill="#6baed6"/><rect x="663.27" y="391.3" width="3.26" height="41.10" fill="#deebf7"/><rect x="666.23" y="391.3" width="3.26" height="41.10" fill="#fcbba1"/><rect x="669.19" y="391.3" width="3.26" height="41.10" fill="#fee0d2"/><rect x="672.16" y="391.3" width="3.26" height="41.10" fill="#fb6a4a"/><rect x="675.12" y="391.3" width="3.26" height="41.10" fill="#fee0d2"/><rect x="678.08" y="391.3" width="3.26" height="41.10" fill="#c6dbef"/><rect x="681.04" y="391.3" width="6.22" height="41.10" fill="#deebf7"/><rect x="686.97" y="391.3" width="3.26" height="41.10" fill="#c6dbef"/><rect x="689.93" y="391.3" width="3.26" height="41.10" fill="#9ecae1"/><rect x="692.89" y="391.3" width="3.26" height="41.10" fill="#6baed6"/><rect x="695.85" y="391.3" width="3.26" height="41.10" fill="#c6dbef"/><rect x="698.82" y="391.3" width="3.26" height="41.10" fill="#fc9272"/><rect x="701.78" y="391.3" width="3.26" height="41.10" fill="#deebf7"/><rect x="704.74" y="391.3" width="3.26" height="41.10" fill="#fee0d2"/><rect x="707.70" y="391.3" width="3.26" height="41.10" fill="#fcbba1"/><rect x="710.66" y="391.3" width="12.15" height="41.10" fill="#deebf7"/><rect x="722.51" y="391.3" width="3.26" height="41.10" fill="#fcbba1"/><rect x="725.48" y="391.3" width="3.26" height="41.10" fill="#9ecae1"/><rect x="728.44" y="391.3" width="3.26" height="41.10" fill="#fc9272"/></g>
<rect x="512.2" y="391.3" width="219.20" height="41.10" fill="none" stroke="#3a3f47" stroke-width="0.8"/>
<line x1="512.20" y1="432.4" x2="512.20" y2="436.0" stroke="#3a3f47" stroke-width="0.8"/>
<text transform="translate(512.60,447.80) scale(0.99,1)" font-size="8.3" text-anchor="middle" fill="#222" >1950</text>
<line x1="547.75" y1="432.4" x2="547.75" y2="436.0" stroke="#3a3f47" stroke-width="0.8"/>
<text transform="translate(548.15,447.80) scale(0.99,1)" font-size="8.3" text-anchor="middle" fill="#222" >1962</text>
<line x1="583.29" y1="432.4" x2="583.29" y2="436.0" stroke="#3a3f47" stroke-width="0.8"/>
<text transform="translate(583.69,447.80) scale(0.99,1)" font-size="8.3" text-anchor="middle" fill="#222" >1974</text>
<line x1="618.84" y1="432.4" x2="618.84" y2="436.0" stroke="#3a3f47" stroke-width="0.8"/>
<text transform="translate(619.24,447.80) scale(0.99,1)" font-size="8.3" text-anchor="middle" fill="#222" >1986</text>
<line x1="654.38" y1="432.4" x2="654.38" y2="436.0" stroke="#3a3f47" stroke-width="0.8"/>
<text transform="translate(654.78,447.80) scale(0.99,1)" font-size="8.3" text-anchor="middle" fill="#222" >1998</text>
<line x1="689.93" y1="432.4" x2="689.93" y2="436.0" stroke="#3a3f47" stroke-width="0.8"/>
<text transform="translate(690.33,447.80) scale(0.99,1)" font-size="8.3" text-anchor="middle" fill="#222" >2010</text>
<line x1="725.48" y1="432.4" x2="725.48" y2="436.0" stroke="#3a3f47" stroke-width="0.8"/>
<text transform="translate(725.88,447.80) scale(0.99,1)" font-size="8.3" text-anchor="middle" fill="#222" >2022</text>
<text x="581.3" y="385.5" font-size="9" fill="#1a1a1a" textLength="80.4" lengthAdjust="spacingAndGlyphs">Brisbane, Australia</text>
<path d="M18.4,100.5 L24.9,87.8 L31.4,100.5 Z" fill="#67000d"/>
<path d="M18.4,342.9 L24.9,355.3 L31.4,342.9 Z" fill="#08306b"/>
<rect x="18.4" y="100.20" width="13.00" height="15.49" fill="#67000d"/>
<rect x="18.4" y="115.39" width="13.00" height="15.49" fill="#a50f15"/>
<rect x="18.4" y="130.57" width="13.00" height="15.49" fill="#cb181d"/>
<rect x="18.4" y="145.76" width="13.00" height="15.49" fill="#ef3b2c"/>
<rect x="18.4" y="160.95" width="13.00" height="15.49" fill="#fb6a4a"/>
<rect x="18.4" y="176.14" width="13.00" height="15.49" fill="#fc9272"/>
<rect x="18.4" y="191.32" width="13.00" height="15.49" fill="#fcbba1"/>
<rect x="18.4" y="206.51" width="13.00" height="15.49" fill="#fee0d2"/>
<rect x="18.4" y="221.70" width="13.00" height="15.49" fill="#deebf7"/>
<rect x="18.4" y="236.89" width="13.00" height="15.49" fill="#c6dbef"/>
<rect x="18.4" y="252.07" width="13.00" height="15.49" fill="#9ecae1"/>
<rect x="18.4" y="267.26" width="13.00" height="15.49" fill="#6baed6"/>
<rect x="18.4" y="282.45" width="13.00" height="15.49" fill="#4292c6"/>
<rect x="18.4" y="297.64" width="13.00" height="15.49" fill="#2171b5"/>
<rect x="18.4" y="312.82" width="13.00" height="15.49" fill="#08519c"/>
<rect x="18.4" y="328.01" width="13.00" height="15.49" fill="#08306b"/>
<path d="M18.4,100.2 L24.9,87.8 L31.4,100.2 L31.4,343.2 L24.9,355.3 L18.4,343.2 Z" fill="none" stroke="#555" stroke-width="0.35" stroke-opacity="0.6"/>
<line x1="31.4" y1="101.90" x2="33.4" y2="101.90" stroke="#444" stroke-width="0.6"/>
<text transform="translate(36.40,105.10)" font-size="8.3" text-anchor="start" fill="#222" >120</text>
<line x1="31.4" y1="141.90" x2="33.4" y2="141.90" stroke="#444" stroke-width="0.6"/>
<text transform="translate(36.40,145.10)" font-size="8.3" text-anchor="start" fill="#222" >80</text>
<line x1="31.4" y1="181.90" x2="33.4" y2="181.90" stroke="#444" stroke-width="0.6"/>
<text transform="translate(36.40,185.10)" font-size="8.3" text-anchor="start" fill="#222" >40</text>
<line x1="31.4" y1="221.90" x2="33.4" y2="221.90" stroke="#444" stroke-width="0.6"/>
<text transform="translate(36.40,225.10)" font-size="8.3" text-anchor="start" fill="#222" >0</text>
<line x1="31.4" y1="261.90" x2="33.4" y2="261.90" stroke="#444" stroke-width="0.6"/>
<text transform="translate(36.40,265.10)" font-size="8.3" text-anchor="start" fill="#222" >−40</text>
<line x1="31.4" y1="301.90" x2="33.4" y2="301.90" stroke="#444" stroke-width="0.6"/>
<text transform="translate(36.40,305.10)" font-size="8.3" text-anchor="start" fill="#222" >−80</text>
<line x1="31.4" y1="341.90" x2="33.4" y2="341.90" stroke="#444" stroke-width="0.6"/>
<text transform="translate(36.40,345.10)" font-size="8.3" text-anchor="start" fill="#222" >−120</text>
<text transform="translate(11.50,224.00) rotate(-90) scale(1.125,1)" font-size="8.8" text-anchor="middle" fill="#222" >Percentual departure from 1950 to 2023 average</text>
<path d="M674.3,101.6 L680.5999999999999,89.0 L686.9,101.6 Z" fill="#6b3a0a"/>
<path d="M674.3,351.2 L680.5999999999999,363.6 L686.9,351.2 Z" fill="#a100ff"/>
<rect x="674.3" y="101.30" width="12.60" height="11.18" fill="#6b3a0a"/>
<rect x="674.3" y="112.18" width="12.60" height="11.18" fill="#a51209"/>
<rect x="674.3" y="123.06" width="12.60" height="11.18" fill="#c40d05"/>
<rect x="674.3" y="133.93" width="12.60" height="11.18" fill="#de2705"/>
<rect x="674.3" y="144.81" width="12.60" height="11.18" fill="#ec4409"/>
<rect x="674.3" y="155.69" width="12.60" height="11.18" fill="#f6620c"/>
<rect x="674.3" y="166.57" width="12.60" height="11.18" fill="#fd870a"/>
<rect x="674.3" y="177.45" width="12.60" height="11.18" fill="#ffa20f"/>
<rect x="674.3" y="188.33" width="12.60" height="11.18" fill="#ffb84a"/>
<rect x="674.3" y="199.20" width="12.60" height="11.18" fill="#ffce85"/>
<rect x="674.3" y="210.08" width="12.60" height="11.18" fill="#ffe9cc"/>
<rect x="674.3" y="220.96" width="12.60" height="11.18" fill="#ffffff"/>
<rect x="674.3" y="231.84" width="12.60" height="11.18" fill="#dff2fd"/>
<rect x="674.3" y="242.72" width="12.60" height="11.18" fill="#a9dcfb"/>
<rect x="674.3" y="253.60" width="12.60" height="11.18" fill="#6ec6fa"/>
<rect x="674.3" y="264.47" width="12.60" height="11.18" fill="#4b80e6"/>
<rect x="674.3" y="275.35" width="12.60" height="11.18" fill="#4169dc"/>
<rect x="674.3" y="286.23" width="12.60" height="11.18" fill="#3c4cd0"/>
<rect x="674.3" y="297.11" width="12.60" height="11.18" fill="#3b39c4"/>
<rect x="674.3" y="307.99" width="12.60" height="11.18" fill="#5328d2"/>
<rect x="674.3" y="318.87" width="12.60" height="11.18" fill="#7219e2"/>
<rect x="674.3" y="329.74" width="12.60" height="11.18" fill="#900df2"/>
<rect x="674.3" y="340.62" width="12.60" height="11.18" fill="#a100ff"/>
<path d="M674.3,101.3 L680.5999999999999,89.0 L686.9,101.3 L686.9,351.5 L680.5999999999999,363.6 L674.3,351.5 Z" fill="none" stroke="#555" stroke-width="0.35" stroke-opacity="0.6"/>
<line x1="686.9" y1="117.60" x2="688.9" y2="117.60" stroke="#444" stroke-width="0.6"/>
<text transform="translate(692.70,121.30) scale(1.12,1)" font-size="8.3" text-anchor="start" fill="#222" >0.030</text>
<line x1="686.9" y1="172.00" x2="688.9" y2="172.00" stroke="#444" stroke-width="0.6"/>
<text transform="translate(692.70,175.70) scale(1.12,1)" font-size="8.3" text-anchor="start" fill="#222" >0.015</text>
<line x1="686.9" y1="226.40" x2="688.9" y2="226.40" stroke="#444" stroke-width="0.6"/>
<text transform="translate(692.70,230.10) scale(1.12,1)" font-size="8.3" text-anchor="start" fill="#222" >0</text>
<line x1="686.9" y1="280.80" x2="688.9" y2="280.80" stroke="#444" stroke-width="0.6"/>
<text transform="translate(692.70,284.50) scale(1.12,1)" font-size="8.3" text-anchor="start" fill="#222" >−0.015</text>
<line x1="686.9" y1="335.20" x2="688.9" y2="335.20" stroke="#444" stroke-width="0.6"/>
<text transform="translate(692.70,338.90) scale(1.12,1)" font-size="8.3" text-anchor="start" fill="#222" >−0.030</text>
<text transform="translate(728.10,229.00) rotate(90) scale(1.12,1)" font-size="8.8" text-anchor="middle" fill="#222" >Mean trend in annual number of events per decade</text>
<rect x="84.6" y="87.4" width="551.70" height="274.80" fill="#fff"/>
<g id="mapcontent" clip-path="url(#mapclip)">
<clipPath id="landclip"><path d="M103.0,144.6 L104.6,144.0 L104.8,142.8 L105.2,141.8 L105.2,141.0 L105.5,139.7 L105.5,138.9 L105.3,137.6 L106.4,137.1 L108.0,137.0 L109.7,137.0 L110.7,135.8 L111.9,134.9 L111.5,133.9 L112.3,133.3 L113.0,132.2 L113.9,131.8 L115.0,132.5 L116.4,132.0 L117.3,131.2 L118.0,130.2 L119.1,130.0 L120.5,129.4 L121.5,129.3 L122.6,129.6 L124.5,129.1 L125.4,129.7 L125.6,131.1 L127.5,130.8 L128.6,131.6 L129.6,130.3 L131.3,130.8 L132.4,131.4 L133.7,131.9 L135.1,131.1 L136.5,130.6 L137.6,131.5 L138.7,132.3 L139.9,131.8 L141.3,132.8 L142.6,132.7 L143.4,132.3 L144.0,133.2 L144.4,134.1 L145.2,134.8 L146.0,135.7 L146.9,135.2 L147.8,134.6 L149.2,135.1 L150.5,135.8 L151.7,135.7 L152.5,135.4 L153.6,135.0 L155.1,134.4 L156.7,133.6 L158.0,134.4 L159.0,134.7 L160.5,133.8 L161.2,132.8 L162.6,131.9 L164.3,131.7 L165.8,132.5 L165.6,133.4 L165.4,134.7 L167.2,135.0 L168.9,134.4 L170.4,134.3 L172.1,134.0 L173.3,132.5 L174.5,132.7 L175.0,133.6 L176.4,132.8 L177.7,133.4 L178.7,133.5 L179.9,133.5 L181.1,133.9 L181.0,135.0 L181.2,136.0 L181.7,136.7 L182.7,137.3 L184.1,137.6 L185.8,137.9 L186.8,137.9 L188.3,138.2 L189.4,138.6 L190.4,138.6 L191.9,138.7 L193.5,138.2 L195.0,136.8 L196.2,138.0 L198.0,137.6 L198.8,138.0 L199.9,138.5 L200.7,139.2 L201.4,140.1 L203.0,140.6 L203.8,140.2 L204.1,138.9 L205.6,139.3 L206.7,138.5 L208.0,138.6 L208.9,138.9 L210.3,138.9 L211.6,138.0 L213.3,137.9 L213.8,136.4 L213.5,135.2 L214.1,134.4 L215.4,133.9 L216.0,133.2 L215.6,131.6 L214.8,130.8 L214.8,129.3 L215.4,128.8 L216.4,128.0 L217.4,129.4 L217.8,130.8 L218.7,131.7 L219.9,132.6 L220.9,132.7 L220.2,134.4 L220.8,135.2 L221.9,135.8 L222.5,137.1 L223.6,138.5 L224.5,139.7 L225.6,139.7 L226.9,139.1 L227.9,139.7 L228.0,138.5 L229.4,137.5 L230.2,135.8 L230.9,134.0 L232.1,133.0 L233.6,133.5 L234.8,133.9 L234.7,135.5 L235.9,137.1 L235.8,138.6 L237.1,139.4 L236.3,140.3 L234.8,141.0 L233.1,141.0 L231.7,141.6 L231.7,142.8 L230.3,142.3 L230.0,143.7 L228.7,143.6 L228.3,145.5 L227.9,146.2 L227.1,147.3 L226.3,148.4 L225.4,148.5 L224.1,148.6 L222.3,148.4 L221.0,149.8 L220.9,150.8 L220.7,152.1 L219.1,152.4 L217.9,153.4 L217.2,155.1 L216.2,156.1 L215.6,156.9 L216.3,158.6 L215.5,159.5 L215.2,160.3 L216.4,161.2 L217.9,161.0 L218.0,162.1 L218.8,162.8 L218.7,164.7 L220.3,164.8 L221.2,164.9 L222.5,164.7 L224.0,164.6 L225.1,165.3 L226.2,166.0 L227.1,166.9 L228.7,167.7 L230.2,168.4 L231.1,168.2 L232.2,168.2 L234.0,168.6 L233.3,169.9 L232.7,171.1 L234.5,171.4 L234.5,173.3 L235.9,173.9 L236.3,175.3 L237.6,175.9 L238.6,176.3 L238.5,175.2 L239.4,174.3 L239.7,172.4 L240.2,171.2 L240.0,169.5 L238.6,169.1 L239.9,167.9 L239.2,166.3 L240.5,165.7 L242.5,165.8 L242.5,164.4 L242.9,163.6 L243.2,162.5 L241.9,162.0 L240.8,161.3 L240.9,160.3 L241.0,158.3 L240.5,157.0 L241.7,155.7 L241.6,154.4 L241.7,153.5 L240.9,152.2 L242.4,151.2 L243.3,150.3 L244.8,150.8 L245.5,152.7 L246.5,153.0 L247.5,154.0 L248.3,155.0 L250.1,154.5 L251.7,155.0 L253.2,155.7 L253.5,157.3 L253.9,159.2 L255.3,160.2 L256.2,161.4 L257.4,161.2 L258.1,160.7 L259.3,160.3 L260.3,158.9 L260.8,158.3 L261.6,157.3 L262.1,158.8 L263.7,159.0 L264.8,160.4 L264.3,161.2 L264.7,162.5 L264.8,163.9 L266.5,164.6 L266.5,165.8 L267.0,166.9 L267.9,168.1 L268.1,169.1 L269.5,169.4 L270.7,169.3 L271.6,169.5 L272.5,170.8 L273.6,170.9 L273.7,172.1 L274.6,173.3 L274.5,174.2 L275.1,175.3 L274.3,175.7 L273.1,176.3 L271.7,177.2 L271.1,178.1 L270.0,178.8 L269.1,177.9 L267.9,177.4 L266.7,177.6 L265.4,179.0 L264.5,178.1 L263.4,177.5 L263.0,179.3 L262.1,179.0 L260.8,179.0 L259.9,179.7 L259.4,180.4 L257.8,180.4 L257.4,181.7 L257.1,182.5 L255.9,182.3 L254.7,182.9 L254.3,184.0 L253.7,185.0 L252.9,185.0 L251.6,185.3 L252.6,184.9 L253.9,184.3 L254.8,183.9 L255.2,182.6 L256.3,181.3 L257.8,181.8 L259.5,181.4 L260.6,181.6 L261.6,181.0 L262.0,182.0 L261.6,183.3 L261.0,184.5 L260.8,185.3 L262.1,186.2 L262.4,187.2 L263.7,187.2 L265.2,187.3 L267.0,187.8 L267.7,186.8 L268.5,185.7 L268.5,187.6 L267.5,188.5 L266.5,189.3 L265.5,189.5 L263.9,189.9 L263.0,189.7 L261.9,190.4 L261.1,190.9 L260.1,191.7 L259.0,190.4 L259.2,189.3 L259.6,188.4 L260.8,188.5 L261.6,188.1 L260.0,189.1 L258.6,188.7 L257.8,189.1 L256.9,188.7 L255.7,189.3 L254.7,191.0 L254.0,192.5 L252.4,192.3 L252.1,193.6 L252.1,194.7 L253.2,195.1 L252.1,195.7 L250.9,195.8 L249.6,196.5 L248.7,195.8 L247.5,196.2 L247.1,197.3 L247.1,198.7 L246.3,199.6 L245.5,200.1 L244.8,201.0 L244.3,202.3 L244.0,203.7 L243.9,204.8 L244.4,206.2 L243.8,207.5 L242.5,207.9 L242.2,208.7 L241.0,209.4 L239.4,210.1 L238.9,211.3 L237.6,211.6 L236.3,212.7 L235.2,213.9 L235.7,215.2 L235.8,217.1 L236.4,217.8 L237.1,219.1 L236.3,220.7 L236.7,221.9 L237.7,222.4 L237.1,223.7 L235.6,222.7 L234.6,221.3 L233.7,219.6 L233.3,218.5 L233.6,217.4 L232.1,217.1 L231.7,215.7 L230.5,215.8 L229.4,216.2 L228.1,215.5 L226.4,215.0 L224.7,215.5 L223.3,215.4 L223.6,217.2 L222.7,216.5 L221.0,216.9 L219.3,216.8 L218.0,215.7 L216.7,216.2 L215.8,216.8 L214.9,217.1 L213.6,216.6 L212.6,217.5 L211.6,218.1 L211.5,219.6 L211.3,221.3 L211.3,222.4 L211.0,224.0 L210.6,225.6 L210.0,227.2 L210.6,228.4 L211.1,229.6 L211.5,231.2 L211.9,232.3 L213.0,233.3 L214.3,234.0 L215.3,234.7 L215.7,234.0 L216.5,233.0 L218.3,232.8 L218.7,234.3 L220.0,233.9 L221.0,233.6 L221.9,232.5 L221.8,230.8 L222.5,230.1 L224.1,229.8 L225.2,229.1 L226.1,229.4 L227.1,229.6 L227.1,231.0 L226.4,232.8 L225.6,233.8 L225.6,234.7 L225.4,235.8 L225.1,237.6 L224.4,238.7 L225.5,237.6 L227.1,238.7 L228.9,238.2 L230.2,238.4 L232.0,238.0 L233.3,238.6 L232.8,239.9 L232.1,241.1 L230.8,241.8 L231.3,242.7 L232.3,243.8 L232.1,244.8 L232.2,246.2 L233.4,247.3 L233.7,248.3 L234.6,248.7 L235.6,249.3 L236.8,249.6 L238.2,248.7 L240.2,248.7 L240.6,249.9 L242.0,249.7 L241.7,251.6 L240.6,250.9 L240.2,250.0 L238.6,249.3 L237.4,250.4 L237.1,251.9 L236.4,250.2 L234.8,250.5 L233.5,250.8 L232.5,250.0 L232.4,249.0 L231.9,248.1 L230.2,247.7 L229.0,246.2 L228.1,245.8 L227.2,244.7 L226.4,243.1 L225.1,242.3 L224.1,242.4 L222.4,241.4 L221.5,241.5 L220.2,241.5 L219.0,241.9 L217.8,241.8 L218.2,240.4 L217.2,239.2 L216.3,238.5 L214.9,238.1 L213.0,238.0 L211.8,238.5 L211.1,237.2 L210.0,237.6 L209.0,237.3 L208.0,237.3 L206.6,236.1 L205.6,235.4 L204.1,235.2 L202.9,234.3 L201.1,233.6 L200.5,231.9 L198.8,231.4 L199.1,229.6 L197.6,228.7 L197.2,226.7 L196.3,226.4 L195.2,225.8 L194.6,225.0 L194.2,223.5 L194.6,221.9 L193.4,222.1 L192.7,221.2 L191.0,220.9 L190.7,220.1 L190.4,219.1 L189.7,217.4 L188.1,216.6 L187.3,215.8 L187.8,214.5 L186.5,213.7 L185.7,213.6 L184.7,212.9 L185.7,214.0 L184.7,215.2 L185.2,216.7 L186.5,217.4 L187.6,218.9 L188.4,219.9 L189.5,221.0 L188.4,222.4 L189.1,223.0 L190.4,223.2 L190.7,224.8 L191.9,225.6 L192.7,227.2 L191.4,226.4 L190.1,226.2 L189.7,225.1 L188.8,224.0 L188.3,222.8 L188.1,221.5 L187.6,220.6 L186.3,220.4 L185.0,219.4 L185.8,217.9 L184.4,217.2 L183.5,215.7 L182.7,214.5 L182.6,213.2 L181.6,212.7 L181.0,211.5 L180.7,210.0 L179.9,209.2 L178.9,208.9 L177.4,208.4 L175.8,208.1 L176.0,206.2 L174.3,206.4 L173.8,204.6 L173.5,203.2 L172.7,202.3 L172.1,201.6 L171.1,200.8 L170.7,199.2 L170.0,197.6 L169.9,195.8 L170.1,194.7 L169.7,192.8 L169.1,191.8 L169.0,190.5 L169.0,188.8 L170.0,188.1 L170.4,187.2 L169.7,185.5 L168.8,184.2 L169.4,182.5 L170.8,182.9 L172.7,182.3 L172.9,183.7 L172.9,184.7 L171.7,183.5 L171.6,182.1 L172.0,181.4 L171.9,180.3 L171.7,179.0 L169.9,179.1 L168.9,178.4 L168.2,177.5 L167.1,177.1 L166.1,176.5 L165.1,176.3 L164.2,174.9 L163.5,173.3 L162.7,171.6 L161.9,171.1 L160.8,170.1 L159.1,169.6 L159.6,168.2 L158.9,167.3 L159.1,165.5 L159.9,164.6 L159.4,163.3 L157.9,163.5 L156.7,163.2 L155.9,162.5 L154.8,161.1 L154.1,160.4 L152.8,160.3 L151.4,160.6 L149.7,161.0 L150.2,159.2 L149.5,158.4 L148.3,158.0 L147.3,159.1 L145.9,158.5 L144.5,158.9 L143.7,159.2 L141.9,159.5 L142.0,158.4 L140.6,157.8 L139.5,157.8 L138.9,156.5 L138.2,155.5 L136.7,156.2 L135.6,156.0 L134.7,156.3 L134.1,157.3 L132.9,158.0 L131.6,159.1 L130.3,159.5 L128.3,159.6 L128.9,158.6 L129.3,157.8 L129.4,156.2 L130.6,155.7 L131.7,157.3 L130.6,158.0 L130.0,158.7 L128.1,158.9 L127.0,158.6 L126.0,159.2 L124.4,159.5 L124.1,160.9 L123.7,162.5 L123.2,163.6 L121.8,163.7 L120.6,164.7 L119.7,166.4 L118.7,166.0 L117.6,166.9 L115.9,167.5 L115.2,168.2 L113.7,168.4 L112.4,169.5 L110.9,169.6 L109.9,169.5 L110.6,169.0 L111.7,168.3 L112.2,166.9 L112.5,165.7 L112.7,164.4 L114.0,163.3 L115.0,163.7 L116.0,163.6 L116.7,162.7 L118.2,162.7 L119.1,161.0 L117.8,161.4 L116.8,161.4 L115.8,160.6 L114.9,160.1 L113.7,160.2 L112.5,161.0 L113.0,159.7 L112.2,158.0 L110.2,158.2 L109.7,157.1 L108.4,156.9 L107.7,155.6 L106.8,153.8 L105.8,153.2 L106.5,151.8 L107.9,151.0 L109.6,150.2 L110.6,151.2 L111.5,150.6 L113.0,149.8 L113.5,148.8 L113.7,147.3 L113.1,148.3 L111.9,148.6 L110.7,147.3 L109.1,147.5 L107.9,147.9 L107.0,147.0 L106.1,147.1 L105.4,146.4 L104.9,145.3Z M242.0,249.7 L242.8,250.8 L243.9,249.3 L243.7,248.1 L244.8,247.0 L245.8,246.2 L246.9,245.4 L248.6,245.4 L249.2,244.6 L250.6,244.0 L251.2,245.4 L250.7,247.0 L252.2,246.9 L253.2,245.4 L253.2,244.3 L254.0,245.4 L255.5,246.2 L255.9,247.1 L257.2,247.8 L258.4,247.5 L259.3,246.8 L260.9,247.2 L262.4,247.0 L264.1,247.0 L265.4,246.6 L265.4,248.0 L266.4,248.9 L267.3,250.0 L268.8,251.2 L270.0,251.1 L271.5,251.8 L272.3,253.4 L274.2,253.4 L275.3,254.0 L276.2,253.9 L277.2,254.1 L278.5,254.5 L280.0,255.5 L281.2,256.2 L281.8,257.6 L282.3,258.5 L282.9,259.6 L283.8,260.5 L284.3,262.0 L283.8,263.1 L284.9,263.5 L286.1,263.9 L287.3,264.1 L288.4,264.2 L289.5,264.8 L290.3,265.5 L291.3,265.6 L292.3,266.2 L293.3,266.5 L294.6,266.9 L296.1,267.5 L297.6,267.5 L299.2,267.9 L300.7,268.5 L301.3,269.0 L302.0,270.0 L303.4,270.5 L305.1,271.5 L306.4,271.1 L306.8,272.1 L307.1,273.8 L307.0,275.1 L308.0,275.8 L306.8,276.9 L305.7,276.9 L305.0,278.0 L304.5,279.6 L303.4,280.2 L303.0,281.6 L302.8,282.7 L301.5,283.1 L301.7,284.6 L300.7,286.3 L300.1,288.1 L300.3,289.0 L300.7,290.2 L300.5,291.3 L299.0,291.7 L299.6,293.4 L299.4,294.8 L298.2,295.5 L297.9,296.6 L296.8,297.3 L296.4,298.6 L295.3,299.0 L294.3,299.0 L292.6,299.0 L291.5,300.1 L290.2,301.2 L288.4,301.7 L287.6,303.0 L286.1,303.5 L286.5,304.7 L285.8,306.3 L286.0,307.3 L285.4,308.5 L284.1,310.0 L283.4,311.3 L283.1,312.6 L281.5,313.5 L280.6,314.4 L280.0,315.6 L279.1,316.3 L278.5,317.3 L277.9,318.4 L276.2,318.8 L275.0,318.3 L273.1,318.1 L272.2,317.1 L271.0,317.3 L271.6,319.0 L272.8,319.9 L273.6,321.6 L272.2,322.6 L272.0,324.3 L270.2,324.7 L268.9,325.0 L268.5,325.9 L267.5,325.3 L266.6,325.1 L265.4,326.1 L265.5,327.8 L265.0,328.8 L263.5,328.6 L263.1,330.0 L262.1,330.2 L260.8,329.7 L260.7,331.0 L260.8,332.1 L261.8,332.2 L262.8,332.4 L261.3,333.0 L260.8,334.3 L259.5,335.3 L260.1,337.1 L258.7,337.1 L258.0,337.7 L257.0,339.0 L258.0,340.0 L259.3,341.5 L259.3,342.9 L257.7,343.5 L257.3,344.2 L257.0,345.4 L256.0,345.9 L255.4,346.6 L254.7,347.8 L255.6,348.5 L255.4,349.9 L255.5,351.5 L254.4,351.9 L253.2,352.1 L252.9,354.0 L251.6,354.6 L251.1,353.8 L249.7,353.9 L248.6,352.9 L247.5,352.0 L246.3,350.9 L246.8,349.3 L245.4,348.6 L245.1,346.8 L245.0,345.0 L244.4,344.1 L244.8,342.9 L245.7,342.6 L246.6,341.8 L246.3,340.0 L244.8,339.0 L245.9,338.2 L247.0,337.6 L247.1,336.5 L247.1,335.2 L247.7,333.7 L247.7,332.3 L248.6,331.5 L248.0,330.3 L247.4,329.7 L247.7,328.6 L247.8,327.0 L248.9,325.4 L248.4,324.6 L247.8,323.0 L248.6,321.7 L249.0,319.9 L248.9,318.0 L249.4,317.1 L250.6,316.4 L250.4,315.0 L250.3,314.1 L250.7,313.3 L250.9,312.2 L251.2,310.4 L251.0,308.8 L250.9,307.8 L251.6,306.9 L251.8,305.5 L251.5,304.1 L251.5,303.1 L252.4,302.2 L252.0,301.0 L251.1,300.4 L251.8,299.8 L252.6,299.0 L252.6,297.3 L252.9,295.8 L252.8,293.8 L252.9,292.7 L252.7,291.8 L251.4,291.9 L251.2,290.2 L249.5,289.9 L248.5,289.5 L247.8,288.3 L246.2,287.8 L245.2,286.7 L244.4,285.4 L243.5,284.7 L243.4,283.1 L242.1,281.6 L242.4,279.9 L241.1,279.5 L240.6,278.5 L240.7,277.2 L239.4,275.7 L238.1,275.0 L238.0,273.5 L236.7,273.1 L236.0,272.3 L236.1,271.4 L235.9,270.0 L236.8,269.5 L237.4,268.3 L238.0,266.9 L236.5,266.5 L236.6,264.6 L237.7,263.1 L237.9,261.9 L239.5,261.1 L240.2,259.3 L241.7,259.0 L241.9,257.9 L242.0,257.0 L242.2,255.7 L241.7,254.7 L241.8,252.8 L241.1,252.0 L241.7,251.6Z M351.4,205.8 L352.3,204.7 L353.6,205.0 L354.5,206.2 L355.9,206.7 L357.0,205.4 L358.1,204.9 L358.9,206.0 L359.8,205.9 L360.9,205.6 L362.0,204.6 L363.9,205.2 L365.0,204.0 L366.5,203.7 L368.1,204.0 L369.8,204.1 L370.8,203.5 L372.7,203.7 L374.3,203.1 L375.8,203.2 L377.3,203.7 L376.5,205.5 L377.3,207.2 L375.8,208.4 L377.1,208.8 L377.3,209.8 L378.3,210.7 L379.6,210.8 L380.8,210.5 L382.1,210.3 L383.4,211.7 L384.6,212.1 L385.0,213.5 L386.4,213.9 L388.0,214.9 L389.4,214.9 L390.3,215.0 L390.8,214.4 L391.1,213.2 L391.9,211.5 L393.3,211.1 L394.2,210.8 L395.2,211.4 L396.5,211.8 L397.3,212.4 L398.8,213.0 L400.5,212.7 L401.8,213.5 L403.6,213.1 L404.9,214.0 L405.7,213.3 L407.2,213.2 L408.8,213.2 L409.9,213.7 L410.0,214.9 L410.3,215.7 L410.6,217.2 L410.6,218.2 L411.1,219.3 L411.8,219.9 L412.6,221.2 L412.1,222.3 L413.3,223.2 L414.0,224.7 L414.9,225.6 L415.2,227.2 L415.9,228.3 L417.0,228.8 L417.8,229.8 L417.5,231.2 L416.8,232.7 L416.9,233.6 L417.9,234.4 L419.4,235.2 L420.1,236.6 L420.7,238.4 L421.4,239.2 L422.5,240.3 L423.6,241.1 L424.8,242.3 L425.9,242.7 L426.6,243.8 L426.8,245.4 L428.5,245.6 L428.6,247.0 L430.3,246.7 L431.7,246.5 L433.0,245.5 L434.4,245.9 L435.5,245.7 L437.0,245.1 L438.9,244.9 L439.3,245.9 L438.6,247.1 L437.4,247.4 L436.5,248.8 L436.5,249.6 L437.1,250.8 L436.7,251.8 L435.1,252.2 L435.5,253.9 L434.6,255.2 L434.0,256.2 L433.6,257.3 L433.3,258.1 L432.1,258.2 L430.9,259.3 L429.7,260.4 L428.8,261.2 L427.9,261.6 L427.1,262.1 L426.2,263.2 L425.9,264.4 L424.8,264.6 L424.2,265.6 L423.3,266.2 L422.2,267.0 L421.7,268.5 L420.3,269.4 L420.7,270.8 L419.9,271.5 L419.9,273.1 L420.5,274.0 L421.0,275.4 L420.2,276.0 L419.7,276.9 L420.5,277.6 L421.0,278.5 L421.7,279.3 L422.5,280.0 L423.6,281.7 L422.5,283.1 L422.8,284.6 L422.7,286.3 L421.7,287.1 L420.9,287.8 L420.2,289.4 L418.9,290.5 L417.1,291.0 L416.4,292.0 L415.6,292.6 L414.8,293.4 L413.8,294.2 L414.2,296.1 L414.5,297.4 L414.3,298.9 L414.9,300.6 L414.0,301.3 L412.6,301.7 L412.1,302.4 L411.0,303.0 L410.4,304.0 L410.7,305.5 L409.8,306.7 L409.9,308.5 L409.1,308.4 L407.9,308.7 L408.0,310.5 L406.9,312.0 L406.0,312.8 L405.7,313.5 L405.5,314.5 L405.0,315.7 L404.0,316.0 L402.6,316.1 L401.0,316.1 L399.8,317.3 L398.5,317.8 L397.5,317.1 L395.7,317.3 L394.9,317.9 L393.4,318.0 L392.2,318.6 L391.1,318.7 L389.4,318.6 L388.6,317.6 L388.8,316.0 L388.3,314.7 L388.0,313.0 L387.3,311.3 L387.0,310.0 L387.4,309.0 L385.7,308.1 L384.5,308.1 L383.7,307.4 L383.7,305.5 L382.8,304.5 L383.4,302.8 L383.4,301.5 L382.7,300.6 L382.7,298.9 L382.7,297.4 L382.4,295.4 L381.3,295.1 L380.8,294.2 L380.0,293.4 L380.0,291.9 L378.5,291.0 L377.6,289.5 L378.5,287.8 L379.2,286.3 L379.6,284.7 L380.4,283.5 L381.1,282.4 L381.6,281.1 L381.4,279.2 L379.9,278.3 L380.7,276.6 L379.7,276.0 L379.2,275.2 L378.6,273.8 L379.3,272.5 L378.8,270.8 L377.6,270.4 L377.3,269.2 L376.5,267.8 L375.0,266.9 L374.3,265.6 L373.9,264.3 L374.5,263.4 L375.0,262.3 L375.0,260.4 L375.5,259.3 L375.6,258.1 L375.0,257.0 L373.5,256.0 L372.5,256.1 L371.5,256.4 L369.6,256.5 L368.6,255.9 L368.1,254.2 L366.6,253.3 L365.3,253.1 L364.3,253.4 L363.2,253.7 L362.0,253.9 L360.1,254.1 L358.9,255.1 L357.6,255.7 L356.6,255.6 L355.3,255.4 L354.3,255.1 L352.9,255.3 L351.3,255.7 L349.9,255.9 L349.0,256.4 L347.5,256.1 L346.7,255.3 L345.9,254.6 L344.7,254.5 L344.0,253.7 L343.6,252.8 L342.4,251.9 L341.3,251.6 L340.3,250.8 L340.1,249.3 L339.7,247.6 L338.2,247.0 L337.9,245.8 L336.7,245.4 L335.6,244.6 L334.9,244.0 L334.7,242.3 L334.6,241.3 L333.6,240.4 L334.4,239.4 L335.2,238.4 L335.4,236.6 L335.5,235.2 L335.5,234.2 L335.5,232.8 L335.3,231.5 L334.4,230.4 L334.3,229.1 L335.2,228.0 L335.1,226.9 L335.9,225.9 L336.9,224.8 L337.5,224.0 L337.8,222.8 L338.2,222.0 L339.5,220.6 L340.2,219.6 L341.2,218.9 L342.1,218.7 L343.6,217.7 L344.8,216.6 L345.6,214.9 L345.4,213.2 L346.2,212.0 L346.7,211.2 L347.9,210.2 L349.0,209.4 L349.7,209.0 L350.5,208.1 L351.0,207.1Z M346.7,203.7 L345.9,202.5 L346.2,200.7 L346.3,199.2 L346.8,198.2 L347.0,196.5 L346.9,194.6 L346.4,192.8 L347.1,191.5 L348.2,191.5 L349.7,191.5 L350.8,192.1 L351.8,192.0 L352.8,191.9 L354.2,191.4 L355.5,191.0 L356.2,191.7 L357.4,192.1 L358.4,191.3 L358.5,190.0 L358.8,188.9 L358.6,187.2 L357.0,186.4 L356.6,184.7 L356.0,184.1 L354.6,183.9 L353.2,183.3 L353.2,182.3 L354.5,181.5 L355.9,181.8 L357.0,182.1 L358.0,182.0 L357.8,180.0 L359.3,179.7 L360.8,180.4 L362.3,180.0 L362.7,179.0 L363.8,178.2 L364.3,177.2 L365.8,176.5 L365.9,175.6 L367.0,174.9 L368.1,173.3 L369.6,172.4 L370.9,171.6 L371.9,171.8 L373.5,171.6 L374.1,170.7 L373.8,169.5 L373.0,168.0 L372.9,166.4 L373.0,164.7 L374.3,165.1 L375.0,164.3 L376.0,163.8 L376.7,163.2 L376.2,164.4 L376.2,165.8 L376.9,166.8 L377.0,168.0 L375.8,169.1 L375.8,170.1 L377.3,171.2 L378.5,170.8 L379.6,170.3 L380.8,170.4 L381.9,171.2 L383.2,169.8 L385.0,170.5 L386.6,169.7 L387.9,169.3 L388.8,169.7 L390.3,170.3 L391.1,169.3 L392.6,168.4 L393.1,167.0 L392.6,165.2 L393.5,163.6 L394.9,163.2 L395.3,164.4 L396.5,164.7 L397.8,164.1 L397.7,162.8 L397.7,161.9 L397.0,161.0 L396.5,159.8 L397.8,159.8 L398.8,159.2 L400.1,159.0 L401.2,159.1 L402.5,158.9 L403.4,158.9 L404.9,158.6 L406.7,158.2 L406.0,157.3 L404.1,156.9 L403.1,155.8 L402.0,155.4 L401.8,157.0 L400.3,157.1 L399.5,158.4 L398.1,158.7 L396.8,158.3 L395.7,158.2 L395.0,156.9 L393.4,156.9 L393.5,155.1 L393.1,153.8 L393.3,152.7 L393.1,151.0 L394.6,150.5 L394.9,149.3 L395.7,148.2 L396.0,147.3 L396.7,146.2 L398.3,146.1 L399.4,144.8 L398.3,144.8 L397.2,144.1 L395.7,144.1 L394.2,144.6 L393.4,146.0 L393.1,147.3 L392.1,148.6 L391.1,149.8 L389.3,149.9 L388.1,150.8 L388.0,152.2 L387.5,153.6 L387.0,154.5 L386.9,155.6 L387.0,156.9 L387.6,158.4 L389.1,158.0 L389.2,159.3 L388.3,160.3 L387.0,160.3 L386.0,161.4 L385.5,162.3 L385.7,163.6 L385.4,164.8 L385.0,166.5 L383.7,166.7 L382.7,166.9 L382.2,168.2 L380.4,168.2 L379.9,166.5 L379.6,165.2 L378.5,163.6 L378.9,162.6 L377.9,161.7 L377.6,160.3 L376.5,159.2 L375.8,159.8 L375.0,160.7 L373.7,161.6 L372.7,162.3 L370.9,162.5 L369.8,161.4 L368.9,160.7 L369.0,159.1 L368.1,158.0 L367.2,156.6 L367.6,155.5 L368.1,154.5 L368.2,153.2 L368.9,152.7 L370.4,152.6 L371.2,151.0 L372.0,150.4 L373.5,149.8 L374.1,148.8 L375.8,148.6 L376.0,146.9 L376.9,146.5 L378.1,146.1 L378.7,144.4 L379.6,143.6 L380.8,142.6 L381.1,141.0 L382.5,139.8 L383.4,138.4 L384.1,137.3 L385.0,136.3 L386.1,135.0 L387.3,134.4 L388.1,133.4 L389.6,133.0 L390.5,132.6 L391.2,131.8 L392.6,131.1 L393.4,132.2 L395.0,131.4 L396.5,130.8 L397.7,130.9 L398.6,130.5 L399.8,130.0 L401.7,129.6 L403.4,130.3 L404.9,130.5 L405.9,132.1 L406.9,132.4 L408.0,132.2 L407.3,133.3 L406.4,133.9 L407.8,134.2 L408.6,135.6 L409.5,135.2 L411.0,134.7 L412.3,135.5 L413.3,135.9 L414.6,135.4 L415.6,135.2 L416.8,135.9 L417.7,136.1 L419.2,137.2 L418.9,138.6 L420.5,139.5 L421.7,139.4 L422.5,138.9 L422.8,140.0 L423.3,141.5 L423.3,142.9 L421.7,143.1 L420.2,143.5 L418.7,143.3 L417.7,143.5 L416.4,143.7 L414.7,143.7 L414.1,142.0 L412.9,141.6 L411.0,141.8 L411.9,142.8 L413.0,142.4 L413.8,143.5 L413.3,144.8 L413.8,146.0 L413.8,147.3 L415.3,147.7 L416.2,148.1 L417.1,148.8 L417.7,147.8 L418.7,147.3 L420.1,146.7 L421.7,146.8 L422.0,145.7 L422.5,144.1 L423.8,142.8 L424.8,142.3 L426.4,142.9 L427.9,143.1 L428.4,141.2 L427.9,139.7 L428.5,138.5 L427.9,137.1 L429.4,137.9 L430.9,138.4 L431.4,140.3 L431.7,141.5 L432.5,139.7 L434.0,139.5 L434.8,138.1 L436.1,138.6 L437.8,138.5 L438.6,137.4 L439.6,137.7 L441.2,138.3 L442.1,138.2 L443.2,137.9 L445.1,137.8 L446.6,137.7 L447.8,136.8 L449.4,136.8 L450.0,135.9 L451.6,136.3 L453.0,135.2 L453.9,133.6 L454.8,134.2 L455.6,134.8 L457.1,135.7 L458.5,134.9 L460.0,135.1 L461.6,135.8 L461.4,137.3 L462.6,137.5 L463.5,137.9 L464.7,137.6 L465.4,136.9 L466.2,136.0 L465.3,135.5 L465.0,133.9 L463.1,134.1 L462.2,132.9 L462.7,132.0 L462.8,130.3 L464.3,130.1 L464.7,129.1 L464.8,127.4 L465.4,126.0 L467.1,125.8 L467.7,124.6 L469.3,124.6 L470.1,125.3 L471.5,125.4 L471.1,126.4 L471.2,127.8 L470.6,129.3 L471.5,130.3 L471.3,131.2 L471.6,132.6 L472.0,134.5 L472.0,135.8 L471.7,136.9 L471.0,138.0 L470.8,139.7 L469.6,140.1 L468.7,139.7 L468.7,141.2 L467.7,142.3 L469.1,143.5 L470.8,142.8 L471.7,142.5 L472.7,141.4 L473.1,140.4 L473.8,139.7 L473.6,138.8 L473.7,137.7 L473.8,136.3 L473.7,134.8 L473.1,133.0 L473.7,131.4 L473.6,129.7 L474.3,128.7 L474.6,127.4 L475.9,127.8 L477.4,126.7 L479.2,126.6 L481.0,126.3 L482.1,126.8 L483.0,127.4 L484.2,128.3 L486.1,128.3 L486.1,127.4 L486.7,126.2 L487.4,124.8 L486.7,123.7 L486.7,122.7 L485.4,121.5 L483.8,123.1 L485.0,123.0 L486.8,122.3 L488.2,121.9 L489.2,122.2 L490.6,121.2 L491.3,120.3 L492.8,120.2 L493.8,118.6 L494.7,117.4 L496.5,117.9 L498.2,118.1 L499.3,117.5 L499.9,116.4 L501.1,116.7 L501.8,117.3 L503.4,116.4 L505.0,115.6 L506.3,114.7 L507.6,115.1 L509.2,115.0 L510.2,115.7 L511.5,116.9 L512.9,115.8 L513.3,114.9 L513.7,113.9 L515.0,113.7 L516.2,113.0 L517.5,111.5 L519.2,111.2 L520.3,110.0 L521.4,110.1 L522.5,110.2 L523.5,111.2 L524.4,112.9 L526.0,111.8 L527.0,110.9 L528.1,110.9 L528.3,112.7 L529.6,112.1 L530.5,113.2 L531.6,113.3 L533.2,113.7 L533.9,115.2 L534.4,116.1 L533.1,116.6 L531.6,117.3 L530.7,118.8 L529.8,119.8 L529.0,120.7 L530.6,121.6 L532.1,122.2 L533.0,121.6 L534.6,120.9 L535.8,121.8 L536.7,122.5 L538.0,122.2 L539.3,122.8 L540.7,123.4 L541.6,124.2 L542.8,124.3 L544.6,123.3 L545.6,123.7 L546.6,124.8 L548.3,124.2 L548.9,123.1 L550.6,122.2 L551.9,122.6 L553.8,122.8 L555.1,123.1 L555.8,123.7 L557.0,124.0 L558.1,125.1 L557.6,127.0 L557.0,128.2 L558.5,129.5 L559.7,130.3 L560.9,129.8 L561.5,129.1 L562.4,128.6 L563.5,128.3 L564.4,128.6 L565.6,128.0 L567.3,128.9 L568.2,128.8 L569.5,128.7 L571.0,129.0 L571.9,128.9 L573.0,127.3 L572.3,126.0 L573.3,125.2 L575.0,126.0 L576.2,126.5 L577.4,125.6 L578.6,126.0 L579.6,125.4 L580.6,124.4 L581.8,125.3 L582.6,126.4 L584.2,126.6 L585.7,126.6 L587.1,127.1 L588.2,127.3 L589.3,127.5 L590.3,128.6 L591.7,129.8 L593.4,130.6 L594.6,130.4 L595.9,130.9 L597.6,131.0 L598.1,130.0 L599.5,130.3 L601.4,130.4 L603.0,131.1 L604.7,131.9 L605.6,133.0 L606.7,133.3 L607.2,134.4 L608.2,134.1 L609.4,133.8 L610.6,134.1 L611.8,133.9 L613.1,133.7 L614.6,133.6 L616.6,133.6 L617.9,133.6 L618.7,134.2 L619.9,134.3 L620.9,133.6 L621.7,133.0 L621.2,134.2 L622.5,135.2 L623.8,134.8 L624.8,135.4 L625.7,135.4 L627.1,134.9 L628.5,134.9 L628.6,133.6 L629.7,134.0 L630.7,133.7 L631.7,134.9 L633.2,134.9 L634.4,134.5 L635.4,134.2 L636.7,134.4 L637.0,135.8 L638.1,137.8 L639.9,137.6 L639.0,139.5 L638.2,141.3 L637.5,142.3 L636.5,143.2 L636.4,144.6 L637.0,145.6 L636.3,146.9 L634.7,147.3 L633.5,147.8 L632.5,146.8 L633.2,147.7 L633.1,148.9 L634.0,149.7 L634.7,151.0 L635.5,152.7 L634.3,152.7 L633.4,151.9 L631.7,152.2 L630.6,152.4 L629.8,153.1 L628.1,152.4 L627.1,153.8 L625.2,154.0 L624.1,154.7 L624.0,155.7 L624.0,157.7 L622.9,157.8 L621.7,158.0 L620.6,158.9 L619.6,157.8 L617.8,157.5 L616.4,157.3 L615.2,157.2 L614.1,157.0 L613.5,158.0 L612.5,158.5 L611.2,159.8 L610.7,161.4 L609.5,163.0 L609.1,164.3 L610.2,165.4 L610.3,166.3 L609.8,167.4 L608.7,169.1 L607.0,169.0 L606.6,170.6 L606.9,172.0 L605.6,172.8 L604.9,174.3 L603.3,173.7 L603.4,175.2 L603.7,176.6 L602.4,177.3 L600.6,177.4 L599.9,176.3 L600.4,174.7 L599.5,173.3 L598.0,172.1 L598.5,170.9 L598.7,169.1 L598.8,167.9 L598.5,166.5 L599.0,164.7 L599.8,163.4 L601.0,162.5 L601.7,161.5 L602.6,161.1 L603.8,159.6 L604.9,159.2 L606.1,158.9 L607.0,158.5 L607.9,156.9 L608.5,156.1 L609.3,155.3 L609.8,153.7 L611.0,153.4 L610.2,154.1 L609.1,154.3 L607.6,154.2 L606.4,153.8 L605.0,153.4 L603.5,152.8 L602.2,153.0 L601.0,154.5 L599.9,154.4 L598.4,155.1 L597.6,155.9 L597.0,156.8 L597.2,158.5 L595.9,159.4 L594.6,160.3 L593.4,160.3 L592.6,159.5 L591.6,158.5 L589.8,158.6 L588.8,159.2 L587.3,159.1 L586.0,160.1 L585.1,159.4 L583.4,159.6 L582.2,160.4 L580.6,160.5 L578.8,159.8 L577.9,160.7 L577.6,161.5 L576.3,162.7 L575.0,163.0 L573.9,163.3 L573.2,164.1 L573.1,165.6 L572.3,166.3 L571.2,166.9 L569.7,167.3 L569.1,168.2 L567.6,169.5 L569.3,170.5 L571.2,171.2 L572.3,171.3 L573.5,172.2 L574.8,173.4 L575.8,174.2 L576.8,173.3 L576.1,174.8 L576.5,176.3 L575.7,177.6 L575.8,179.4 L575.1,181.0 L575.0,182.9 L574.3,183.8 L573.5,184.7 L572.7,186.2 L571.3,187.2 L570.4,187.8 L570.4,189.1 L568.8,190.2 L568.2,191.0 L567.3,191.9 L566.1,192.8 L564.3,193.2 L562.4,192.7 L561.2,193.3 L560.7,194.1 L559.5,195.3 L559.2,196.5 L557.5,197.3 L556.6,198.3 L555.8,199.2 L556.4,200.5 L557.4,201.0 L557.7,202.5 L558.7,203.7 L558.8,205.3 L558.7,206.3 L558.1,207.2 L557.0,207.4 L555.8,207.7 L554.1,208.1 L554.8,207.0 L554.3,205.5 L554.8,203.7 L553.5,202.3 L552.0,201.9 L552.2,200.4 L552.5,199.2 L550.9,198.3 L549.7,198.1 L548.3,197.8 L547.3,198.5 L547.4,200.1 L546.3,200.1 L547.4,198.7 L547.4,197.4 L545.9,196.7 L544.4,197.3 L543.6,198.7 L542.5,199.2 L541.3,200.0 L540.8,201.4 L542.2,201.8 L542.8,202.8 L544.0,202.4 L545.1,202.3 L546.2,203.2 L547.0,203.4 L548.2,203.2 L547.1,204.3 L545.9,204.6 L545.3,205.8 L543.6,206.7 L544.1,207.7 L544.3,208.9 L544.6,210.3 L545.9,211.5 L546.3,212.5 L547.1,213.5 L546.6,215.4 L547.4,216.6 L547.2,217.4 L546.6,218.6 L546.2,219.8 L545.1,220.7 L544.0,222.1 L543.6,223.2 L543.3,224.8 L542.0,224.8 L541.1,225.5 L539.7,226.4 L538.4,227.0 L537.4,227.7 L536.3,228.3 L535.1,228.4 L533.8,228.4 L532.8,229.2 L531.4,229.6 L530.2,230.0 L529.0,231.4 L528.7,229.6 L527.9,228.7 L526.7,229.3 L525.4,229.8 L524.4,230.4 L523.3,231.7 L522.9,232.8 L522.9,234.4 L523.8,235.7 L524.4,236.8 L525.4,237.4 L526.7,238.7 L527.0,240.3 L527.1,241.4 L527.9,242.3 L528.2,243.4 L527.8,245.1 L526.2,245.2 L526.1,246.5 L525.2,247.0 L523.7,248.0 L522.9,249.1 L521.4,249.7 L521.1,248.8 L521.0,247.7 L520.1,247.7 L519.1,246.6 L518.2,245.4 L517.5,244.6 L516.4,244.6 L515.2,243.5 L514.5,242.3 L513.7,243.8 L513.4,245.2 L512.9,246.2 L512.9,247.3 L512.6,248.8 L513.2,249.7 L514.1,250.8 L515.0,251.8 L515.2,252.7 L516.0,253.7 L517.1,253.6 L517.4,255.1 L518.7,256.2 L518.7,257.7 L519.1,258.8 L519.8,259.5 L520.1,261.0 L518.9,261.0 L517.5,260.4 L516.3,260.9 L516.4,259.8 L516.0,259.0 L514.6,258.0 L514.5,256.2 L514.2,255.3 L514.1,253.9 L512.7,253.1 L512.2,251.6 L511.1,250.0 L511.8,248.7 L511.4,247.7 L512.3,246.6 L512.1,245.5 L511.7,244.6 L510.7,243.2 L510.6,241.5 L509.7,240.7 L509.5,239.2 L509.9,237.6 L509.0,237.9 L507.6,237.6 L506.4,237.6 L505.3,238.4 L505.8,236.9 L505.0,235.2 L505.0,233.4 L503.7,232.4 L502.8,231.1 L502.5,230.1 L501.4,229.6 L500.3,228.8 L499.9,228.0 L498.4,228.8 L496.9,228.8 L496.1,229.3 L495.2,230.0 L493.8,230.0 L493.5,231.2 L493.0,232.0 L491.8,232.4 L490.7,232.8 L489.8,234.4 L488.4,235.2 L488.0,236.3 L488.0,237.2 L486.1,237.6 L485.1,238.4 L483.3,239.2 L482.8,240.5 L483.3,242.3 L483.2,243.5 L482.7,245.4 L482.3,247.3 L481.2,248.2 L480.7,249.3 L479.8,249.7 L479.2,250.7 L478.6,249.8 L477.7,249.3 L477.1,247.4 L476.9,246.6 L476.1,245.4 L475.6,244.4 L475.4,243.5 L474.9,242.3 L474.1,241.2 L473.4,240.0 L473.1,238.4 L473.6,237.5 L473.1,236.0 L472.1,234.7 L472.2,233.6 L471.7,232.6 L471.3,231.8 L471.9,230.4 L471.2,229.2 L470.2,229.5 L469.3,230.8 L468.2,229.7 L466.8,229.9 L466.2,228.5 L466.5,227.6 L467.7,227.2 L465.7,227.4 L465.0,226.1 L464.3,225.2 L463.1,224.3 L461.9,224.4 L460.7,225.3 L460.7,224.0 L459.3,223.5 L458.1,224.2 L457.2,224.4 L456.3,223.5 L454.7,223.7 L453.5,223.7 L452.7,223.2 L450.9,223.3 L449.0,224.0 L448.3,222.7 L447.6,221.8 L447.5,220.7 L445.9,221.0 L444.0,221.4 L442.8,219.8 L440.9,219.9 L440.2,218.8 L438.6,218.2 L438.1,216.9 L437.1,215.7 L436.3,215.6 L435.1,215.2 L434.0,216.6 L434.2,217.9 L435.1,219.1 L435.2,220.5 L436.1,221.3 L437.1,221.2 L437.8,222.0 L437.5,223.2 L438.6,222.4 L439.4,224.0 L439.8,225.3 L441.3,224.9 L443.2,225.3 L444.2,223.6 L445.0,222.9 L446.3,223.2 L446.7,221.9 L446.6,223.3 L447.0,224.3 L447.6,225.2 L448.7,225.7 L450.1,226.3 L451.3,227.0 L452.1,228.0 L451.1,229.1 L451.7,230.4 L450.4,231.2 L449.2,232.5 L448.9,233.6 L447.1,233.7 L447.0,235.2 L445.9,236.2 L444.7,236.8 L443.5,236.3 L442.2,236.4 L442.3,237.6 L440.9,237.9 L440.2,239.0 L439.4,239.7 L438.0,239.4 L437.1,239.9 L435.7,240.2 L434.5,240.4 L434.0,241.5 L432.6,242.5 L431.4,243.2 L430.2,243.1 L428.8,244.1 L427.1,243.5 L426.5,242.3 L426.0,240.7 L426.4,239.4 L425.6,237.6 L425.8,236.6 L425.6,235.1 L424.6,235.1 L423.3,234.4 L422.1,232.8 L421.0,231.2 L421.3,229.4 L420.2,228.0 L418.9,226.8 L418.3,225.9 L417.9,224.8 L417.9,223.9 L417.3,222.7 L416.7,221.8 L415.6,221.5 L414.3,220.5 L414.1,219.1 L415.0,217.6 L413.8,216.7 L412.3,217.9 L413.0,219.4 L411.5,218.2 L411.3,217.2 L410.4,215.9 L409.9,215.0 L410.1,213.7 L411.7,212.7 L412.9,213.5 L413.0,212.3 L414.1,211.0 L415.1,209.5 L415.2,208.1 L415.5,207.0 L415.6,205.8 L415.6,204.0 L414.8,204.4 L413.3,204.2 L412.4,204.9 L411.0,205.3 L409.6,205.2 L408.6,205.9 L407.2,205.3 L407.5,204.0 L406.1,205.0 L404.9,204.9 L403.9,204.4 L402.6,203.7 L401.7,202.3 L401.8,201.0 L401.1,199.6 L400.8,198.3 L402.6,197.6 L403.8,197.6 L404.9,197.4 L405.0,196.3 L406.7,195.8 L408.7,196.0 L409.6,195.8 L410.8,196.2 L411.8,194.7 L413.0,195.2 L414.1,194.7 L415.2,195.8 L416.4,196.0 L417.5,197.0 L418.3,196.5 L419.4,196.5 L420.8,195.4 L421.5,196.2 L422.5,196.5 L423.3,196.2 L424.2,195.4 L424.0,194.3 L423.7,193.4 L422.3,193.1 L421.0,191.7 L420.4,190.8 L419.2,190.8 L417.9,189.7 L417.1,188.5 L418.7,187.9 L418.7,186.2 L419.9,185.9 L420.5,185.1 L419.6,186.3 L417.9,185.3 L416.4,185.3 L414.9,186.2 L414.1,188.0 L415.3,188.7 L416.4,188.5 L414.9,189.1 L413.4,189.5 L412.6,190.2 L411.6,189.9 L410.9,188.9 L410.3,188.3 L411.0,187.4 L411.9,187.2 L411.0,186.5 L409.5,186.4 L407.6,186.2 L407.4,188.1 L406.0,188.5 L404.5,189.4 L404.4,191.0 L404.2,191.9 L403.4,193.2 L403.1,194.4 L403.4,195.2 L404.9,196.2 L403.4,196.5 L401.8,197.3 L400.6,197.8 L400.3,196.9 L399.1,196.5 L398.0,196.7 L396.5,197.8 L395.4,197.4 L395.2,199.2 L396.2,200.3 L397.2,201.9 L396.0,202.1 L395.8,203.2 L395.7,204.6 L394.5,204.4 L393.5,203.9 L393.1,202.8 L392.9,201.2 L392.1,200.4 L391.6,199.2 L390.7,198.6 L390.2,196.9 L390.3,195.1 L389.6,194.7 L388.8,193.8 L387.8,193.0 L386.5,192.5 L385.5,191.9 L384.2,191.0 L383.4,189.8 L382.8,188.7 L381.4,188.9 L381.4,187.8 L380.4,187.7 L379.5,188.3 L379.8,189.3 L379.3,190.4 L380.7,191.1 L381.3,191.9 L381.4,193.6 L382.4,194.1 L383.8,194.7 L385.0,194.9 L386.0,195.9 L386.8,196.5 L388.3,196.7 L388.8,198.0 L388.5,198.7 L387.5,198.3 L386.5,197.4 L385.7,198.9 L386.7,200.1 L385.0,200.6 L385.0,201.9 L384.5,201.9 L385.0,200.1 L384.2,198.3 L382.7,197.1 L381.2,196.6 L380.4,196.0 L378.8,194.7 L377.3,193.8 L376.4,192.9 L376.2,191.9 L375.5,190.8 L373.8,190.2 L373.1,191.4 L371.9,191.4 L370.4,192.5 L369.3,192.4 L368.1,192.3 L367.1,192.3 L366.1,192.1 L365.0,193.8 L365.4,195.1 L364.5,195.4 L363.5,196.0 L362.1,196.1 L361.2,197.4 L360.7,198.3 L360.0,199.2 L360.4,200.7 L359.4,202.3 L358.5,203.0 L357.4,204.0 L355.8,203.4 L354.8,203.4 L353.6,204.2 L352.0,205.3 L350.8,204.4 L349.7,203.3 L348.3,204.0Z M83.9,135.8 L84.9,136.4 L86.7,136.5 L88.0,136.7 L89.2,137.6 L89.4,139.0 L90.8,139.2 L90.5,140.7 L91.8,141.2 L93.1,141.6 L93.8,141.0 L95.6,141.4 L96.8,141.0 L97.6,141.5 L99.5,141.1 L99.8,142.1 L100.4,143.3 L98.7,143.6 L97.8,144.1 L96.9,144.8 L95.9,146.4 L95.3,147.8 L94.7,146.7 L93.6,146.4 L92.4,147.1 L90.7,146.6 L90.0,145.9 L89.1,144.6 L87.8,144.5 L86.9,144.8 L85.7,145.5 L83.9,145.6 L82.4,144.4 L81.4,143.7 L81.0,142.2 L79.9,141.4 L80.9,139.7 L80.6,137.4 L81.8,136.6Z M534.4,297.4 L535.1,297.0 L536.8,296.3 L538.2,295.4 L538.9,294.8 L539.8,294.0 L540.6,295.4 L542.0,294.6 L543.4,294.8 L544.1,294.1 L545.9,293.4 L547.2,292.2 L547.9,291.0 L547.7,289.4 L548.6,289.7 L549.7,289.7 L550.5,288.1 L551.6,287.2 L552.8,286.6 L552.8,285.5 L554.0,285.5 L555.1,284.7 L556.6,285.9 L557.8,285.5 L558.9,286.1 L558.8,284.9 L559.4,283.9 L560.4,282.4 L561.5,281.6 L562.7,281.6 L563.5,280.5 L564.2,281.4 L564.8,282.1 L565.8,281.1 L567.3,281.7 L568.9,282.2 L570.1,281.6 L569.9,282.5 L569.6,283.6 L568.8,284.7 L568.5,285.9 L569.3,286.4 L570.4,287.4 L572.2,287.6 L573.5,289.1 L575.1,288.8 L576.2,290.2 L577.2,289.7 L577.0,288.3 L577.3,287.0 L577.5,285.8 L577.6,283.9 L578.0,282.0 L578.1,280.0 L578.8,279.6 L579.0,280.8 L579.9,281.6 L579.1,282.2 L578.7,283.6 L579.4,285.1 L580.7,285.2 L581.2,286.4 L583.0,286.3 L583.2,287.7 L583.9,289.4 L584.5,290.2 L585.2,291.0 L584.6,292.4 L586.4,293.0 L587.2,294.2 L588.3,295.7 L589.2,296.6 L590.2,297.5 L591.5,299.0 L592.2,299.7 L593.1,300.3 L594.1,301.9 L594.8,302.8 L595.2,303.8 L595.0,305.2 L593.9,305.8 L594.7,306.5 L595.7,307.5 L594.7,309.2 L594.6,310.2 L594.9,311.3 L594.0,311.8 L593.4,312.9 L594.1,314.7 L593.2,315.9 L592.3,316.9 L591.0,317.8 L591.7,318.7 L591.1,319.9 L590.4,321.5 L590.3,322.9 L589.1,323.9 L587.2,324.1 L585.9,324.9 L584.9,326.1 L583.3,325.5 L582.2,324.6 L581.5,325.7 L580.3,325.7 L578.6,324.9 L577.3,324.8 L576.5,323.9 L575.0,323.4 L574.2,322.0 L574.2,320.7 L573.3,319.9 L572.4,319.9 L573.1,318.6 L572.4,317.8 L572.2,316.7 L571.5,315.6 L571.2,317.1 L571.2,318.1 L570.2,318.1 L568.9,318.7 L568.1,318.1 L567.1,316.8 L566.6,315.6 L565.3,314.3 L564.4,313.5 L562.7,313.9 L561.3,313.2 L560.8,312.3 L559.0,312.4 L558.1,313.2 L556.6,312.9 L555.5,313.7 L554.6,313.9 L553.5,314.4 L552.0,314.8 L550.5,315.6 L549.7,317.1 L548.2,316.8 L546.4,317.0 L545.4,317.2 L544.3,317.1 L543.3,318.2 L542.1,318.5 L541.3,319.0 L540.0,319.1 L538.2,319.0 L536.7,317.8 L536.2,315.9 L536.0,314.3 L537.7,313.9 L537.3,312.3 L536.7,310.5 L537.1,309.4 L537.7,308.7 L537.0,307.9 L535.9,307.1 L535.8,305.6 L534.9,305.2 L534.4,303.8 L534.4,302.2 L534.5,300.6 L535.4,299.0Z M248.6,108.0 L248.6,106.8 L248.8,105.9 L249.6,104.9 L250.6,104.9 L251.2,104.1 L252.0,104.5 L252.9,105.1 L253.2,106.0 L253.9,106.5 L254.8,105.7 L255.8,105.3 L256.0,103.8 L256.4,103.2 L256.2,102.2 L257.1,101.3 L256.6,100.1 L257.2,99.6 L257.9,98.9 L259.6,98.6 L260.3,99.9 L261.5,100.3 L262.2,100.7 L261.6,99.4 L262.7,98.3 L263.6,98.0 L264.0,97.2 L265.4,97.6 L267.1,96.7 L268.4,96.8 L270.2,97.3 L271.9,98.2 L273.2,96.4 L271.5,94.5 L274.1,95.0 L274.8,92.5 L275.9,92.0 L276.8,90.6 L278.1,89.0 L280.0,89.2 L281.5,90.8 L280.2,93.5 L281.8,94.6 L283.8,93.9 L284.2,92.7 L285.2,92.5 L285.3,91.7 L285.7,90.5 L287.3,89.9 L289.0,89.3 L289.2,87.5 L288.5,85.7 L290.4,85.1 L291.3,82.8 L293.0,82.3 L294.8,82.9 L295.2,84.5 L294.9,86.6 L296.8,87.9 L299.2,90.1 L299.7,91.7 L300.9,92.3 L301.6,91.1 L303.1,91.7 L304.6,92.3 L306.0,91.3 L306.9,90.4 L307.6,89.1 L309.0,89.2 L309.7,89.9 L310.9,89.6 L311.4,88.7 L311.8,90.1 L313.1,89.9 L314.5,89.3 L315.3,88.9 L315.6,88.1 L317.0,88.1 L318.2,88.5 L319.2,89.0 L320.2,88.6 L320.7,89.6 L321.4,90.4 L321.4,91.4 L322.2,92.0 L323.2,92.0 L324.6,92.7 L325.6,91.4 L326.0,92.4 L326.7,93.1 L327.4,93.4 L328.5,93.6 L329.4,94.1 L330.1,95.3 L331.1,95.6 L331.8,96.0 L332.9,96.9 L332.9,95.5 L334.1,95.5 L334.8,96.3 L335.7,96.6 L336.9,96.8 L338.0,96.2 L338.6,96.8 L339.3,97.5 L340.6,97.3 L341.4,97.9 L342.1,97.2 L340.6,97.6 L340.0,98.5 L339.4,99.3 L339.9,100.3 L338.9,100.2 L337.8,100.4 L336.9,101.6 L336.1,102.3 L336.0,103.1 L335.3,102.5 L334.8,101.2 L333.6,101.1 L332.9,102.2 L333.0,103.2 L332.6,104.3 L333.7,104.6 L333.5,105.7 L333.0,106.7 L332.3,107.2 L333.2,107.7 L332.9,109.0 L331.5,109.5 L331.5,110.7 L330.9,112.0 L332.0,113.0 L331.3,113.9 L331.9,114.5 L331.9,115.7 L331.2,116.5 L331.7,117.3 L330.7,116.6 L329.8,116.9 L329.6,117.6 L330.0,118.8 L329.8,120.1 L329.3,121.2 L329.2,122.3 L328.9,123.0 L329.0,124.2 L328.4,125.4 L327.6,126.0 L326.7,126.0 L325.7,126.5 L326.2,127.8 L325.0,128.4 L325.1,129.3 L325.1,130.7 L326.0,131.0 L326.7,131.7 L326.3,132.5 L326.2,133.6 L326.1,132.7 L325.0,132.5 L323.8,133.3 L322.9,132.5 L322.0,131.7 L321.7,132.7 L320.6,133.0 L320.1,133.9 L320.3,134.7 L321.1,135.5 L322.5,135.4 L323.7,135.8 L322.5,135.4 L321.8,136.7 L320.8,137.1 L320.9,138.0 L319.8,137.6 L319.1,137.6 L318.1,137.8 L317.2,137.2 L316.9,136.6 L316.2,135.9 L315.2,135.1 L314.2,136.0 L314.4,137.3 L313.4,137.4 L312.5,137.3 L311.9,137.9 L311.4,138.4 L310.9,139.6 L309.9,140.4 L309.0,140.9 L309.0,142.1 L308.0,141.7 L306.8,142.3 L306.3,142.8 L305.6,143.6 L304.3,143.9 L303.0,143.7 L302.2,144.3 L301.5,144.7 L300.3,144.6 L299.7,145.3 L299.2,146.1 L298.7,147.0 L298.8,148.1 L298.1,148.7 L297.6,149.8 L297.0,150.5 L296.5,150.9 L295.9,151.5 L295.6,152.3 L296.2,153.6 L295.3,154.5 L295.3,155.3 L294.7,156.1 L294.8,157.0 L293.8,158.0 L293.3,157.1 L292.6,157.1 L291.7,156.9 L290.7,157.3 L289.5,157.6 L288.5,157.3 L288.9,156.1 L287.9,156.9 L287.2,156.4 L286.9,155.7 L286.0,155.9 L285.1,156.9 L284.0,156.3 L283.9,155.5 L284.3,154.1 L284.0,153.3 L283.8,152.2 L282.8,151.6 L281.4,151.6 L281.9,150.3 L282.5,149.3 L281.5,148.6 L280.2,148.5 L279.2,148.5 L278.9,147.2 L279.1,146.1 L278.4,144.9 L278.5,143.6 L279.0,142.7 L278.2,141.9 L278.6,140.6 L279.5,140.2 L279.5,139.3 L278.5,138.4 L278.4,137.2 L279.5,137.0 L280.7,137.8 L281.7,137.9 L282.3,137.4 L282.8,136.2 L281.7,135.7 L282.3,134.4 L282.6,133.3 L282.4,131.8 L281.4,132.0 L280.1,131.5 L278.9,132.2 L277.7,133.0 L277.3,132.1 L277.7,131.4 L278.1,130.1 L276.7,129.9 L276.2,128.9 L275.5,128.1 L276.2,127.3 L275.4,126.4 L274.8,126.8 L273.8,127.1 L272.7,126.2 L272.7,125.2 L273.5,124.9 L274.4,124.2 L274.6,123.1 L274.6,122.0 L274.7,121.1 L274.3,120.5 L273.6,120.1 L272.4,119.3 L271.3,119.2 L271.4,118.3 L271.6,117.0 L270.8,116.3 L269.9,117.0 L269.3,116.1 L267.9,116.2 L266.9,116.9 L266.1,116.0 L265.4,114.8 L265.2,113.9 L264.5,113.2 L263.3,113.8 L262.5,114.1 L261.6,114.5 L260.8,115.1 L260.5,116.5 L259.5,116.6 L258.8,116.2 L257.9,115.6 L257.9,114.7 L257.4,115.3 L256.2,115.5 L255.5,116.2 L254.4,115.7 L253.3,115.5 L252.8,114.5 L252.1,114.1 L251.2,113.9 L251.5,112.9 L251.6,112.3 L250.6,112.1 L249.9,111.7 L248.8,110.8 L248.6,109.8 L247.5,109.8 L247.9,109.1 L248.9,109.2Z M323.2,144.8 L323.7,144.2 L324.3,143.5 L325.2,142.5 L326.7,142.6 L327.9,142.7 L328.4,143.3 L329.2,142.4 L330.2,142.5 L331.3,143.5 L332.9,143.1 L334.0,143.2 L335.4,142.8 L336.5,143.3 L337.5,143.1 L338.0,144.0 L338.8,144.7 L339.5,146.1 L338.7,146.1 L338.0,146.8 L337.5,147.8 L336.2,147.8 L334.7,148.1 L333.9,148.5 L332.9,149.0 L332.1,150.0 L331.1,149.3 L329.8,149.2 L328.3,149.0 L327.2,148.9 L325.7,148.6 L326.5,147.8 L326.7,146.6 L325.6,146.3 L324.9,146.5 L323.7,146.3Z M171.2,182.5 L170.2,181.9 L168.9,181.8 L168.4,180.9 L167.4,180.6 L166.3,180.9 L165.3,180.7 L164.0,179.8 L164.2,178.9 L163.8,178.0 L164.7,177.7 L165.8,177.8 L166.2,178.6 L167.5,178.6 L168.4,178.8 L168.9,179.4 L169.6,180.2 L170.5,181.1Z M156.6,171.2 L157.6,171.3 L158.5,171.2 L159.2,172.1 L159.3,173.1 L159.5,173.7 L159.4,174.7 L158.7,173.4 L157.7,173.3 L156.9,172.3Z M123.7,163.6 L124.4,162.8 L124.8,162.3 L125.8,162.1 L126.8,162.5 L127.1,164.1 L126.2,164.4 L125.6,164.9 L124.5,165.2 L123.7,164.6Z M269.6,184.1 L270.1,183.1 L270.7,182.5 L271.1,181.8 L271.9,181.3 L272.3,180.4 L272.0,179.4 L272.2,178.3 L272.8,177.3 L273.4,176.7 L274.6,176.5 L275.4,176.1 L276.1,177.1 L275.4,177.9 L274.9,179.4 L275.9,180.6 L277.0,181.1 L278.2,181.5 L278.5,182.3 L279.1,183.1 L279.7,184.3 L279.5,185.5 L278.5,186.0 L277.2,185.1 L276.1,185.2 L275.4,185.5 L274.6,184.1 L273.7,183.8 L272.4,184.0 L271.6,183.7 L270.8,183.2Z M261.6,179.6 L262.2,180.6 L263.4,181.2 L264.1,180.9 L265.4,180.6 L265.7,181.2 L264.6,181.2 L263.1,180.8 L262.3,180.6Z M261.9,185.7 L262.7,186.0 L263.9,186.4 L265.4,186.4 L264.7,187.2 L263.6,187.1 L262.4,186.6Z M230.3,229.0 L231.2,228.6 L231.8,227.8 L232.4,227.6 L233.3,227.2 L234.3,226.9 L235.0,226.8 L236.3,227.1 L237.1,227.0 L238.1,227.6 L239.4,228.0 L240.6,228.7 L241.6,229.1 L242.5,229.6 L243.8,229.7 L244.8,230.9 L245.8,231.1 L246.7,231.7 L245.5,232.2 L244.0,232.1 L243.1,232.6 L242.2,233.2 L241.4,232.4 L240.9,230.9 L240.6,230.3 L239.8,229.6 L238.6,229.5 L237.8,229.8 L237.0,229.4 L236.4,228.9 L235.6,228.5 L235.0,228.1 L234.0,228.0 L233.1,228.5 L231.7,229.0Z M246.4,234.4 L246.9,233.0 L248.3,232.2 L249.4,232.1 L250.9,232.2 L252.0,232.2 L253.3,232.7 L254.7,233.3 L255.5,234.4 L254.5,234.9 L254.3,235.6 L253.2,234.7 L252.0,235.6 L250.9,235.7 L250.1,235.4 L248.9,234.9 L247.5,234.6Z M240.5,234.7 L241.3,234.6 L242.2,234.7 L243.5,235.2 L242.5,235.5 L241.3,235.9Z M257.5,234.6 L258.6,233.8 L259.8,234.7 L259.3,235.2 L258.6,235.1 L257.5,235.2Z M265.7,246.6 L267.0,246.6 L267.0,247.6 L265.7,247.6Z M260.8,153.6 L260.2,153.2 L259.2,152.8 L259.0,152.2 L258.5,151.6 L257.7,152.1 L257.3,152.7 L256.2,152.2 L255.6,151.1 L254.3,151.0 L253.2,151.6 L252.3,152.1 L251.8,152.5 L250.9,151.9 L251.3,151.1 L252.3,150.8 L252.3,150.0 L251.6,149.3 L250.8,149.2 L250.1,149.3 L250.6,148.1 L249.5,147.5 L249.4,146.8 L248.8,146.3 L247.8,146.5 L247.7,147.3 L246.6,147.6 L245.5,147.3 L244.4,148.0 L243.5,148.0 L243.0,147.7 L242.2,147.4 L241.6,147.0 L240.9,147.3 L240.8,146.3 L240.9,145.3 L241.9,145.3 L242.9,144.9 L243.0,144.0 L243.2,143.2 L244.0,143.0 L244.5,142.9 L245.6,143.3 L246.0,144.4 L247.1,144.8 L247.1,143.9 L246.5,143.5 L247.2,143.0 L247.9,142.5 L247.7,141.9 L247.8,141.0 L248.1,140.5 L248.8,139.8 L249.4,138.9 L248.3,139.1 L248.1,138.3 L247.3,137.3 L246.0,137.4 L245.9,138.0 L245.9,138.9 L245.1,138.8 L244.7,138.2 L244.0,137.6 L242.8,137.2 L241.9,136.8 L241.3,136.0 L240.9,135.4 L240.2,134.4 L240.1,133.2 L239.4,132.2 L238.6,133.1 L237.8,133.6 L236.9,133.8 L236.1,133.3 L235.6,133.9 L235.0,134.8 L234.8,135.6 L235.6,134.9 L235.0,134.0 L234.6,132.7 L233.3,132.9 L232.8,131.8 L231.8,131.7 L230.6,132.1 L230.2,133.0 L230.3,132.3 L230.1,131.7 L229.2,131.5 L228.6,131.4 L227.7,131.4 L227.0,132.4 L225.8,132.6 L224.7,132.7 L224.1,131.7 L223.1,130.9 L223.6,130.1 L223.3,129.1 L222.4,129.3 L223.1,128.3 L223.3,127.4 L223.4,126.8 L223.6,126.1 L224.3,125.4 L223.7,124.4 L223.8,123.8 L224.1,123.1 L225.1,122.6 L224.8,121.6 L225.4,121.8 L226.1,122.1 L226.6,122.7 L227.1,123.5 L228.0,123.6 L228.5,123.2 L229.4,122.6 L230.2,122.5 L231.2,122.8 L232.0,122.3 L232.8,122.6 L233.6,122.6 L234.3,123.3 L234.3,124.3 L233.7,125.0 L234.3,124.2 L235.0,124.2 L234.9,123.6 L234.5,122.7 L235.6,123.0 L236.3,122.5 L237.2,122.8 L237.1,123.9 L238.2,123.4 L238.8,124.2 L239.4,124.8 L240.1,124.6 L240.9,125.1 L241.7,124.7 L242.2,125.0 L243.2,125.1 L243.5,125.9 L244.6,125.8 L244.7,126.5 L245.6,126.9 L246.2,127.5 L247.1,128.3 L247.8,128.1 L248.6,127.7 L249.0,127.2 L249.8,127.0 L250.6,127.9 L251.9,127.8 L250.8,127.9 L250.6,129.1 L250.7,130.2 L251.6,130.3 L252.2,131.4 L253.0,131.9 L253.7,132.1 L254.6,131.4 L254.2,132.5 L255.1,132.3 L255.5,133.0 L255.9,134.0 L257.1,133.7 L257.0,134.5 L256.5,135.0 L257.1,135.2 L257.8,135.8 L258.3,136.2 L258.9,136.8 L259.2,137.7 L260.3,137.5 L260.5,138.1 L261.3,138.3 L261.7,139.0 L262.4,139.7 L262.9,140.1 L263.7,140.0 L264.8,140.0 L265.2,140.8 L266.1,140.7 L265.5,141.7 L266.2,142.3 L265.6,142.2 L264.6,142.3 L264.3,143.2 L263.9,144.1 L263.9,145.0 L263.4,145.5 L263.1,146.1 L262.1,146.4 L261.7,147.0 L261.6,147.8 L261.8,148.4 L261.9,149.3 L261.6,150.3 L261.8,151.4 L262.8,151.4 L262.7,152.5 L262.1,151.9 L261.2,152.2 L260.4,152.6Z M178.1,128.9 L177.6,130.0 L178.2,130.9 L179.2,131.3 L180.3,131.0 L181.3,131.2 L181.9,131.8 L181.9,132.3 L182.2,133.4 L182.6,134.2 L182.7,134.9 L183.4,134.9 L184.2,135.0 L185.0,135.8 L185.8,135.8 L186.3,136.1 L187.3,136.8 L188.2,136.5 L188.7,135.6 L189.3,134.5 L189.6,135.3 L190.5,136.1 L191.2,136.4 L191.9,136.4 L192.6,137.1 L193.6,136.9 L194.3,136.6 L195.0,136.6 L195.5,137.2 L196.2,137.0 L197.0,137.3 L197.4,137.7 L198.2,138.0 L198.4,138.6 L199.1,137.9 L199.5,137.4 L200.0,136.5 L201.1,136.3 L201.9,135.7 L202.9,135.8 L203.5,135.6 L203.7,134.7 L204.2,134.1 L204.9,133.9 L204.1,133.3 L203.6,132.1 L203.5,131.2 L202.6,130.3 L201.9,130.6 L201.0,130.0 L201.4,129.3 L201.1,128.4 L201.9,127.5 L201.4,126.4 L200.6,126.5 L200.0,126.4 L199.5,125.4 L199.1,124.7 L198.7,123.5 L198.1,122.6 L197.3,123.1 L196.1,122.8 L196.3,121.6 L195.9,122.2 L195.4,123.1 L195.0,124.0 L194.1,123.7 L193.4,124.4 L193.0,124.8 L191.9,124.6 L191.4,123.4 L190.9,123.9 L190.0,123.7 L188.8,123.6 L188.1,124.4 L187.2,124.9 L186.7,125.7 L185.8,125.4 L184.9,125.7 L184.1,125.5 L183.3,126.1 L182.4,125.3 L181.6,125.7 L180.7,125.3 L179.6,125.4 L178.8,125.9 L178.3,126.3 L178.4,127.4 L177.6,127.9Z M168.9,127.4 L169.8,127.7 L170.5,128.7 L171.1,129.1 L172.0,129.7 L172.9,129.5 L173.9,129.7 L174.7,129.2 L175.3,129.4 L175.9,129.0 L176.6,128.9 L177.7,128.6 L178.1,127.8 L178.0,127.0 L178.7,126.3 L178.6,125.5 L178.1,124.6 L178.3,123.6 L178.5,122.9 L178.2,122.4 L177.9,121.6 L178.7,122.5 L179.6,122.3 L179.5,121.4 L180.4,120.7 L179.8,121.0 L179.6,121.9 L178.7,122.4 L178.1,122.9 L177.7,122.0 L177.0,121.7 L176.4,120.9 L176.0,120.4 L175.0,120.1 L174.0,120.4 L173.1,119.5 L172.2,119.7 L171.4,120.5 L170.5,120.9 L170.0,121.3 L169.7,122.2 L170.3,123.0 L170.3,123.8 L169.7,124.1 L169.7,125.0 L169.6,125.7 L169.4,126.6Z M222.5,113.9 L223.4,113.9 L224.0,114.2 L225.2,114.2 L224.8,113.3 L225.6,112.8 L226.7,112.7 L226.9,111.5 L227.0,112.6 L226.9,113.4 L227.9,113.8 L229.1,114.2 L230.2,114.5 L231.3,114.9 L232.1,115.5 L232.9,115.7 L233.8,116.4 L234.5,116.7 L235.2,117.3 L236.0,117.3 L236.7,117.2 L237.6,116.4 L238.1,115.6 L237.9,114.8 L238.4,113.9 L238.0,113.1 L238.2,112.6 L238.7,112.0 L239.6,111.9 L240.1,112.6 L240.9,112.3 L242.2,112.5 L243.4,112.1 L244.3,111.9 L244.4,111.0 L245.2,111.4 L245.9,111.4 L245.9,110.5 L246.0,109.5 L245.8,108.6 L246.7,108.4 L246.1,107.7 L245.5,107.4 L246.8,107.1 L247.5,106.2 L248.5,105.3 L247.6,104.1 L246.9,103.4 L247.6,102.4 L246.8,101.5 L247.9,101.9 L249.0,101.3 L249.6,102.4 L250.5,102.2 L251.0,101.9 L251.9,101.8 L253.2,102.2 L253.7,102.9 L254.2,103.3 L254.7,103.9 L255.4,104.0 L256.3,104.1 L257.3,103.7 L258.5,104.3 L259.4,104.1 L260.8,102.8 L262.1,102.8 L261.9,101.6 L262.2,100.5 L263.2,99.6 L263.5,98.6 L263.1,97.4 L262.4,96.9 L262.8,95.9 L264.0,95.7 L264.1,94.9 L263.5,93.9 L264.6,93.3 L265.4,93.1 L264.8,92.0 L264.6,91.1 L263.6,91.0 L262.8,90.9 L261.1,90.6 L261.2,88.7 L259.7,89.3 L258.9,90.0 L258.3,90.4 L258.1,91.3 L257.3,91.1 L256.5,91.8 L255.4,92.0 L254.6,92.1 L253.6,91.9 L253.2,91.2 L252.7,89.0 L250.2,89.2 L249.4,87.8 L248.1,87.6 L246.8,86.4 L247.3,85.1 L245.9,83.4 L244.4,84.4 L241.9,83.2 L240.0,81.8 L238.8,84.2 L237.4,85.5 L238.2,87.2 L239.2,88.3 L238.0,89.8 L237.9,91.2 L236.6,91.0 L235.6,91.4 L234.8,91.7 L234.1,92.2 L233.7,92.7 L232.6,93.5 L232.8,94.9 L231.1,95.5 L230.4,94.3 L229.6,93.4 L228.6,93.2 L227.9,93.7 L226.7,93.2 L225.8,93.9 L225.6,95.0 L225.0,96.2 L224.3,96.9 L223.5,96.2 L223.0,96.8 L222.5,97.7 L223.2,98.2 L223.7,98.8 L223.0,99.5 L222.4,99.0 L221.7,99.0 L221.2,99.4 L220.5,99.8 L219.5,99.8 L219.5,98.7 L219.7,99.2 L219.8,99.9 L220.7,100.5 L221.3,101.5 L221.9,102.0 L222.0,102.7 L223.0,102.1 L223.7,102.2 L224.1,101.6 L224.9,101.4 L225.6,102.2 L226.1,102.1 L226.9,102.4 L227.9,102.5 L228.1,101.5 L228.9,101.9 L229.5,101.3 L229.9,102.2 L230.1,103.0 L230.6,103.6 L231.0,104.8 L230.2,105.7 L229.1,106.1 L229.0,107.3 L228.0,108.1 L227.1,109.0 L226.9,109.8 L225.9,110.2 L225.2,110.5 L224.9,111.2 L224.8,112.1 L224.2,112.5 L223.2,112.3 L222.5,111.9 L223.0,113.1Z M213.3,117.0 L212.4,117.4 L212.2,118.2 L213.4,118.3 L213.5,119.7 L214.0,120.4 L214.7,121.0 L215.8,121.4 L215.8,120.4 L216.4,120.4 L217.0,119.9 L218.0,119.9 L218.7,120.0 L219.5,119.8 L220.4,119.9 L221.0,120.1 L221.6,119.6 L221.9,118.8 L222.3,119.6 L223.3,119.4 L224.3,118.7 L224.4,117.9 L225.3,118.1 L225.9,118.6 L227.0,118.3 L227.6,117.8 L227.7,119.1 L227.9,120.2 L228.9,119.1 L230.2,120.1 L231.1,119.9 L231.6,119.3 L231.5,118.7 L231.4,117.9 L231.9,117.0 L232.8,117.2 L233.6,116.3 L233.3,117.3 L234.4,117.7 L233.7,118.6 L234.4,119.3 L235.2,119.5 L235.8,118.9 L236.6,119.6 L237.9,119.5 L237.2,118.7 L237.3,117.9 L237.2,117.1 L237.9,116.4 L237.7,117.8 L238.3,118.5 L237.7,119.6 L237.0,120.5 L235.7,120.3 L233.9,119.7 L233.2,120.6 L232.1,121.4 L231.5,121.2 L230.7,120.7 L231.0,119.4 L229.8,119.1 L228.5,117.4 L228.2,116.0 L227.1,115.4 L225.6,116.4 L224.8,116.4 L224.0,115.6 L223.1,115.8 L222.5,115.9 L221.4,115.3 L220.7,115.3 L219.6,115.5 L219.3,114.3 L219.5,113.2 L219.4,114.2 L218.7,114.5 L218.0,113.8 L217.0,114.2 L216.2,114.0 L215.2,114.2 L214.8,113.5 L214.2,113.1 L213.3,113.9 L213.1,114.5 L212.8,115.2 L213.3,116.1Z M214.9,109.0 L215.7,109.1 L216.4,108.7 L217.2,109.1 L216.9,110.1 L217.7,111.0 L218.5,110.4 L218.9,109.6 L219.6,108.6 L220.3,108.3 L221.0,108.0 L221.2,107.3 L221.9,106.8 L222.5,106.0 L222.8,104.7 L223.9,104.6 L224.6,104.2 L225.3,104.1 L226.1,104.5 L226.9,103.6 L226.8,102.7 L226.4,102.2 L225.9,103.1 L224.8,103.7 L223.7,103.7 L223.0,103.4 L221.9,103.6 L220.8,103.3 L221.1,102.3 L221.7,101.8 L222.3,100.8 L221.5,100.0 L221.6,98.8 L220.3,97.8 L219.5,98.7 L219.4,97.9 L219.4,97.3 L218.8,96.5 L218.0,97.0 L217.9,97.7 L217.9,98.5 L216.9,98.6 L216.0,98.4 L214.9,98.5 L213.9,98.5 L213.6,99.3 L213.3,99.9 L213.3,100.8 L214.1,101.3 L213.3,102.2 L212.7,102.9 L213.4,104.1 L214.5,103.9 L214.7,104.8 L215.3,105.6 L215.3,106.5 L215.2,107.1 L214.7,107.9Z M181.2,117.9 L181.7,118.7 L182.0,119.3 L183.1,119.6 L183.3,120.3 L183.6,121.1 L184.6,120.8 L184.6,120.0 L185.6,119.5 L186.6,119.1 L186.9,119.9 L187.7,120.3 L188.8,120.4 L190.4,120.6 L190.5,122.2 L191.3,122.5 L191.7,123.0 L192.5,121.9 L193.5,121.7 L193.4,120.7 L194.5,120.6 L195.0,120.0 L196.1,119.7 L196.8,120.0 L196.8,120.9 L197.8,120.3 L198.3,119.7 L198.0,118.9 L197.9,117.8 L197.1,117.4 L198.2,116.7 L198.0,115.5 L197.4,114.8 L197.6,114.2 L197.3,113.0 L196.9,112.2 L195.9,112.0 L195.0,112.0 L194.2,112.5 L194.4,113.7 L193.6,114.3 L193.0,113.4 L191.9,113.9 L191.2,114.3 L191.0,115.3 L190.0,115.4 L189.4,115.4 L188.6,114.6 L188.0,114.9 L187.3,115.4 L188.1,114.3 L187.2,113.4 L186.0,114.0 L185.4,113.0 L184.6,113.3 L183.7,113.6 L183.2,114.3 L182.7,114.5 L181.6,114.3 L180.9,115.3 L181.1,115.9 L181.7,116.8Z M204.1,127.4 L205.0,128.4 L205.4,129.2 L206.5,129.6 L207.0,128.4 L207.2,129.7 L208.3,129.6 L209.3,129.8 L209.9,129.5 L210.7,130.0 L210.8,129.0 L211.8,128.9 L210.9,129.3 L210.2,128.9 L209.5,127.9 L209.3,127.1 L209.7,126.2 L209.7,124.9 L210.5,124.8 L211.1,124.6 L211.6,123.6 L212.6,123.1 L211.8,122.9 L211.0,123.8 L210.3,123.7 L209.4,123.9 L209.5,122.8 L208.2,122.5 L207.5,122.4 L207.2,121.6 L206.0,121.9 L206.1,122.9 L206.4,123.8 L205.6,124.2 L205.1,124.8 L204.9,125.9 L204.4,126.6Z M213.3,126.0 L214.0,125.5 L214.1,124.8 L214.7,124.6 L215.7,124.6 L216.4,124.9 L217.1,125.1 L217.4,124.6 L217.6,123.9 L218.4,124.1 L218.9,124.6 L219.5,125.4 L219.6,124.6 L219.8,123.3 L220.1,122.5 L221.2,122.5 L221.8,121.8 L222.5,122.2 L221.9,121.4 L221.2,120.5 L220.5,119.9 L219.6,120.5 L219.0,119.7 L218.1,120.3 L217.3,120.3 L216.5,119.8 L216.2,120.9 L215.9,121.7 L214.9,121.3 L215.4,121.8 L216.1,122.5 L216.2,123.2 L216.4,124.0 L215.6,124.1 L215.1,124.5 L214.8,125.7 L214.0,125.4Z M227.1,149.8 L227.9,150.7 L228.4,151.4 L229.2,152.3 L230.1,152.4 L230.9,152.4 L231.6,152.4 L231.8,151.8 L232.1,151.2 L233.3,151.0 L233.9,150.5 L234.4,150.1 L234.6,149.1 L235.0,148.6 L236.2,148.3 L237.1,148.6 L237.6,148.1 L237.3,147.1 L236.6,146.0 L235.6,145.2 L234.8,144.8 L234.1,145.7 L233.1,145.2 L232.6,144.5 L232.7,143.9 L232.4,144.9 L231.7,145.6 L230.7,145.1 L230.2,144.1 L229.5,144.0 L228.9,144.4 L227.9,145.0 L227.8,145.7 L228.4,146.4 L227.8,147.0 L227.1,147.3 L226.8,148.3 L226.0,148.7 L226.7,149.3Z M172.0,115.5 L172.8,115.8 L173.6,115.7 L174.2,114.6 L175.2,114.7 L175.9,114.7 L176.8,114.5 L177.4,115.3 L178.1,116.1 L177.5,115.0 L178.4,114.3 L178.0,113.1 L177.9,112.0 L178.6,112.3 L179.3,112.1 L180.2,111.5 L179.7,110.6 L180.3,111.2 L181.1,110.6 L181.7,111.5 L182.7,111.3 L181.9,110.4 L181.0,111.1 L180.5,112.1 L179.5,112.0 L178.5,111.8 L177.8,112.0 L177.5,111.3 L176.6,110.7 L175.5,110.6 L174.6,111.2 L174.0,112.2 L174.9,112.9 L174.1,112.2 L173.6,112.6 L172.8,112.6 L172.5,113.3 L172.4,114.1 L171.8,114.6Z M201.1,117.9 L201.2,117.3 L201.9,116.7 L202.8,116.4 L203.5,117.3 L204.6,117.7 L204.2,118.9 L205.2,118.2 L206.2,118.5 L206.9,117.9 L207.8,118.0 L208.4,117.9 L209.2,117.5 L209.5,118.3 L210.3,118.6 L210.5,118.0 L210.4,117.2 L210.8,116.4 L211.0,115.5 L210.1,115.2 L210.4,114.5 L210.3,113.9 L209.5,114.6 L208.7,114.5 L208.0,114.8 L207.6,113.8 L206.9,113.5 L206.0,113.6 L205.5,114.0 L205.0,115.0 L204.5,114.6 L204.0,114.1 L203.4,113.8 L202.6,113.9 L202.9,114.8 L202.0,115.5 L201.2,116.5 L201.8,117.3Z M199.5,109.0 L200.5,108.4 L201.1,107.9 L201.7,108.6 L202.8,108.6 L203.9,107.9 L205.0,108.3 L206.0,108.6 L206.9,109.1 L207.2,109.7 L207.6,108.5 L208.5,107.7 L209.1,106.6 L208.7,105.7 L208.3,104.7 L207.3,104.9 L206.7,105.5 L205.8,105.6 L205.1,106.2 L204.8,107.2 L205.1,108.0 L204.7,108.6 L204.5,107.7 L205.2,107.1 L204.7,106.9 L203.9,106.6 L203.1,107.2 L202.2,106.5 L202.1,105.2 L201.1,104.6 L200.3,105.6 L199.1,106.0 L198.8,106.8 L198.2,107.4 L199.0,108.0Z M208.0,135.8 L208.9,135.2 L209.7,134.5 L210.7,134.8 L211.3,134.2 L212.2,134.6 L212.3,135.6 L212.7,136.5 L213.3,136.8 L213.3,135.7 L212.2,135.6 L212.7,135.1 L213.1,134.7 L213.3,133.9 L212.8,133.2 L212.5,132.7 L212.1,131.8 L211.3,132.4 L210.6,131.8 L209.7,132.3 L209.5,133.0 L208.8,133.4 L207.6,133.6 L207.5,134.5 L207.6,135.2Z M213.3,117.3 L213.8,118.2 L215.0,118.2 L216.3,118.0 L217.2,118.6 L216.6,117.4 L217.2,116.7 L216.2,116.3 L214.9,116.4 L213.9,116.8Z M185.8,110.7 L187.1,110.7 L187.8,109.9 L188.6,109.4 L189.0,110.5 L190.2,111.0 L191.2,111.0 L191.9,111.3 L192.0,109.9 L191.9,109.0 L190.9,109.6 L189.8,108.8 L188.4,108.8 L187.3,108.4 L186.5,109.2Z M237.1,124.0 L237.8,124.2 L239.1,124.5 L240.0,123.6 L241.0,123.8 L242.0,124.5 L243.2,125.1 L242.7,124.4 L242.7,123.6 L241.7,122.8 L240.6,122.7 L240.2,122.1 L238.8,122.1 L237.9,122.2 L237.6,123.0Z M241.7,139.7 L242.4,139.6 L243.5,139.5 L244.8,140.2 L245.2,139.0 L244.4,137.9 L243.5,138.0 L242.5,137.6 L242.2,138.7Z M197.2,124.0 L198.2,124.3 L199.2,124.2 L199.9,124.6 L199.3,123.6 L199.5,122.5 L198.8,123.4 L198.0,123.9Z M187.3,108.0 L188.2,108.3 L188.6,109.0 L189.9,109.5 L191.2,108.7 L191.9,108.0 L191.6,107.2 L191.1,106.3 L189.9,106.5 L189.1,106.9 L188.2,107.3Z M177.3,116.4 L178.7,116.8 L179.9,116.7 L179.6,115.1 L178.9,116.2Z M211.0,108.4 L212.1,108.9 L213.3,109.3 L213.1,108.2 L212.9,107.0 L211.8,107.9Z M233.3,151.5 L234.0,152.5 L234.9,153.3 L236.4,153.1 L237.9,152.7 L237.6,151.5 L236.3,151.0 L235.1,150.9 L234.0,151.0Z M255.3,352.1 L254.4,352.4 L253.4,352.5 L252.8,353.3 L252.4,354.0 L251.8,354.7 L251.6,355.4 L251.9,356.3 L253.1,356.9 L253.8,356.5 L254.7,357.1 L255.3,357.5 L256.4,357.8 L257.4,357.7 L258.5,357.6 L259.7,357.3 L260.5,356.5 L259.3,355.6 L258.5,355.8 L257.8,355.0 L257.4,353.9 L256.2,352.9Z M267.0,349.9 L267.9,349.7 L269.3,349.5 L270.6,350.1 L271.9,350.1 L271.7,351.5 L271.1,351.5 L270.0,351.5 L269.1,351.6 L268.1,351.7 L267.0,350.9Z M436.0,281.6 L436.4,282.5 L436.9,283.2 L436.9,284.3 L436.6,285.0 L437.0,286.0 L437.5,287.0 L437.2,288.1 L437.5,289.2 L436.3,290.2 L436.3,291.5 L436.1,292.7 L435.0,293.8 L434.8,295.0 L433.9,295.8 L433.2,296.6 L433.4,298.2 L433.5,299.6 L433.2,300.6 L432.5,301.4 L431.7,302.5 L430.4,302.8 L429.4,303.0 L428.6,302.2 L428.0,301.5 L427.7,300.7 L427.4,299.8 L426.9,298.3 L426.8,297.6 L427.1,296.6 L427.9,295.9 L427.7,294.7 L428.2,294.1 L428.6,293.4 L428.4,292.5 L427.9,291.2 L427.9,290.2 L427.9,289.4 L429.1,288.7 L430.2,287.5 L431.1,287.5 L432.0,287.0 L432.8,286.5 L433.2,285.5 L433.7,284.8 L433.9,283.8 L434.8,283.1 L435.4,282.0Z M351.7,179.4 L352.7,179.6 L353.8,179.8 L354.2,179.2 L355.1,178.8 L355.6,178.3 L356.0,177.4 L357.0,177.7 L358.2,178.0 L358.7,176.9 L359.8,177.0 L360.6,177.0 L361.4,177.6 L362.4,177.2 L362.4,175.9 L362.9,175.0 L362.9,173.9 L361.7,173.7 L360.8,173.3 L361.2,171.9 L360.1,171.2 L359.6,170.0 L359.0,169.6 L358.2,169.1 L357.7,168.1 L357.4,166.9 L355.9,166.9 L356.4,165.5 L356.8,164.7 L357.4,163.6 L356.4,163.3 L355.1,163.2 L355.5,162.4 L355.9,161.2 L355.3,160.5 L354.3,160.6 L353.6,160.8 L352.8,161.2 L351.5,161.7 L350.9,162.8 L351.6,163.6 L351.1,165.0 L351.9,166.3 L352.3,167.2 L352.8,168.0 L353.1,169.5 L354.0,169.3 L355.4,169.5 L356.1,170.5 L355.9,171.6 L355.5,172.6 L354.7,173.0 L353.6,172.8 L353.7,173.8 L354.0,174.7 L353.2,174.9 L352.5,175.7 L353.4,176.1 L354.3,175.9 L354.9,176.2 L355.9,176.3 L355.1,177.1 L353.9,177.2 L353.4,178.5 L352.5,179.0Z M345.1,176.1 L345.9,175.9 L346.5,175.1 L347.2,176.3 L348.2,175.9 L348.9,175.4 L349.4,174.5 L350.8,174.9 L350.5,173.8 L351.3,172.6 L350.8,171.8 L351.3,170.9 L352.0,170.1 L351.7,169.4 L350.9,168.6 L350.1,168.7 L349.0,168.4 L348.0,169.2 L347.4,170.1 L346.0,170.1 L345.1,170.8 L345.5,171.6 L345.9,172.8 L345.6,173.8 L345.1,174.7Z M379.6,201.9 L380.6,201.7 L382.1,201.6 L383.4,201.3 L384.2,201.6 L383.7,202.8 L383.7,204.2 L382.5,204.4 L381.5,203.4 L380.4,203.2 L379.6,202.6Z M373.0,196.5 L374.4,196.5 L375.3,196.5 L376.0,197.7 L374.9,198.5 L375.2,199.8 L374.2,200.0 L373.5,200.1 L374.3,199.0 L374.2,198.0 L373.2,197.7Z M373.6,193.8 L374.3,193.0 L375.0,192.8 L374.9,194.1 L375.0,195.6 L373.9,195.6 L374.1,194.5Z M396.5,206.3 L397.6,206.3 L398.9,205.4 L399.5,206.4 L400.8,206.8 L399.5,206.8 L398.0,207.2 L397.2,206.6Z M409.9,207.2 L411.5,207.0 L412.5,206.3 L413.3,206.2 L412.7,206.9 L411.8,207.7 L411.2,207.2Z M377.3,167.6 L378.4,167.2 L379.6,166.9 L379.4,168.2 L379.3,169.1 L378.7,168.1 L377.6,168.6Z M388.3,162.8 L389.6,163.2 L389.1,163.9 L388.5,164.7 L388.6,163.8Z M377.3,105.7 L378.0,105.0 L378.8,104.2 L379.9,104.2 L380.0,103.4 L380.7,104.3 L381.9,103.8 L382.7,103.2 L383.4,102.9 L383.4,102.1 L383.6,101.2 L384.3,100.4 L385.6,99.9 L386.4,98.6 L387.6,99.3 L388.7,99.7 L388.5,100.7 L389.2,100.6 L390.0,101.2 L391.1,100.6 L390.8,99.6 L391.7,99.0 L392.3,99.8 L393.1,100.3 L392.6,101.2 L393.1,100.5 L393.3,99.9 L394.0,99.8 L394.9,100.2 L395.8,101.4 L396.8,100.8 L396.5,101.7 L396.7,102.8 L397.5,102.2 L398.0,101.4 L398.6,100.4 L399.7,100.3 L400.4,100.1 L400.5,101.6 L401.8,102.2 L401.3,103.1 L401.9,104.0 L401.9,104.7 L401.9,105.3 L400.9,106.0 L400.2,105.2 L399.5,104.9 L398.6,105.5 L397.8,105.4 L397.2,105.7 L396.3,105.0 L395.4,105.5 L394.8,105.0 L394.0,104.5 L393.0,104.8 L392.3,105.6 L392.7,106.4 L392.6,107.4 L392.0,108.4 L391.2,109.1 L390.0,108.8 L389.7,109.7 L389.1,110.8 L388.7,111.8 L388.0,112.3 L387.2,112.7 L386.3,112.6 L386.0,113.2 L385.4,113.6 L384.5,113.4 L384.7,112.4 L384.1,112.9 L383.4,112.9 L382.9,113.8 L382.0,113.3 L381.2,112.5 L381.1,111.7 L380.9,110.9 L380.7,110.3 L381.4,110.0 L381.9,109.7 L382.1,108.8 L381.8,108.1 L381.4,107.7 L380.7,108.1 L379.7,107.9 L378.8,108.0 L378.4,107.2 L377.2,107.0 L376.8,106.2Z M439.4,128.9 L439.5,129.5 L439.7,130.2 L440.5,130.0 L441.2,130.2 L441.9,130.8 L442.4,131.1 L443.3,131.2 L443.8,131.5 L444.2,130.6 L445.2,131.0 L445.8,130.8 L446.5,130.3 L447.3,131.0 L448.6,131.1 L448.3,130.3 L447.4,130.3 L446.8,129.4 L447.7,129.1 L447.4,128.0 L446.3,127.4 L446.6,126.5 L445.8,126.7 L445.5,125.8 L446.1,124.6 L446.3,123.7 L446.4,122.6 L447.3,121.8 L446.1,121.9 L445.9,120.9 L446.6,120.2 L447.4,119.7 L447.7,120.7 L448.3,120.1 L449.1,120.7 L450.0,120.2 L450.9,120.1 L451.5,119.6 L452.0,118.7 L452.2,117.6 L453.1,117.7 L454.1,117.7 L454.4,117.0 L455.5,117.0 L456.3,117.2 L456.9,117.8 L457.7,118.2 L458.2,119.2 L459.0,118.9 L459.5,117.9 L460.0,116.8 L460.9,116.1 L460.7,115.1 L461.6,114.8 L462.4,114.0 L462.9,113.7 L463.7,113.7 L464.3,113.8 L465.0,114.3 L466.1,114.0 L465.9,112.9 L465.0,113.2 L464.7,112.3 L463.6,112.5 L463.3,113.7 L462.0,113.1 L460.9,113.5 L460.1,112.2 L458.6,112.7 L459.9,111.6 L459.3,109.8 L460.4,109.9 L460.6,110.8 L460.5,111.9 L460.0,112.8 L459.0,113.3 L458.3,112.2 L457.3,113.0 L457.0,113.9 L457.6,115.0 L456.6,115.7 L455.7,115.1 L455.1,115.7 L454.4,116.5 L454.0,117.6 L454.2,118.6 L453.8,119.2 L453.2,118.3 L452.4,118.8 L451.2,118.9 L450.7,118.1 L451.2,117.2 L450.1,116.7 L449.3,117.0 L450.1,117.8 L449.8,118.4 L449.3,118.9 L448.7,119.5 L448.6,120.5 L447.4,120.7 L446.6,120.6 L445.9,120.1 L445.4,120.8 L444.7,121.6 L444.1,121.4 L443.4,121.0 L442.8,121.4 L442.4,122.3 L441.8,122.9 L441.5,123.4 L441.7,124.6 L441.1,124.9 L440.2,125.4 L439.4,125.7 L438.6,125.6 L439.4,126.6 L440.0,127.4 L439.5,128.1Z M434.0,100.5 L435.2,100.4 L436.0,99.7 L437.0,100.6 L437.6,100.7 L438.4,100.2 L438.9,99.2 L439.8,99.7 L440.3,98.9 L441.3,98.9 L441.5,99.7 L442.2,99.9 L443.2,100.0 L444.1,100.4 L444.2,99.5 L444.7,98.7 L445.4,98.2 L446.1,98.9 L447.0,98.6 L448.1,98.6 L448.9,98.5 L449.4,99.0 L449.9,97.6 L451.0,97.9 L451.0,98.8 L452.2,99.0 L453.1,99.6 L454.2,100.0 L454.8,99.1 L455.5,98.7 L454.3,99.2 L453.2,99.7 L453.5,100.7 L452.8,101.1 L452.4,101.5 L451.5,102.2 L450.5,102.7 L449.3,102.6 L449.2,101.1 L448.0,101.3 L447.0,100.1 L447.1,99.0 L447.5,97.7 L446.5,98.6 L445.5,99.1 L444.7,99.0 L443.6,99.0 L443.7,100.0 L442.7,100.9 L441.2,101.7 L440.1,102.2 L439.9,101.2 L439.1,101.2 L438.6,101.0 L438.2,100.2 L437.0,100.4 L436.6,101.1 L436.2,101.8 L435.9,100.9 L434.9,101.1Z M507.6,105.7 L508.2,106.0 L509.1,105.8 L509.7,105.2 L510.5,104.5 L511.1,103.8 L511.7,103.4 L511.7,104.6 L512.9,104.6 L512.7,103.9 L512.7,103.2 L513.4,102.8 L513.7,102.2 L514.2,102.9 L514.0,103.7 L514.4,105.1 L513.9,106.1 L514.8,106.2 L515.4,107.2 L516.2,106.5 L516.9,106.6 L517.6,105.9 L518.8,105.4 L519.3,105.8 L520.1,105.4 L521.3,105.0 L521.4,104.0 L520.4,104.6 L519.3,104.9 L519.5,106.0 L520.0,107.2 L519.8,108.0 L519.4,107.4 L518.7,107.0 L518.3,106.0 L518.2,105.2 L517.8,106.3 L516.3,106.0 L515.2,105.8 L514.9,106.7 L513.9,107.1 L512.6,107.1 L512.9,108.3 L512.2,109.0 L511.9,108.3 L511.3,107.7 L511.3,106.5 L510.5,106.9 L509.7,106.9 L509.2,106.9 L508.3,106.4 L507.7,107.0 L508.2,106.1Z M570.4,117.0 L570.7,117.8 L571.2,118.4 L571.9,118.6 L572.4,119.6 L573.1,119.3 L573.9,118.6 L575.0,117.9 L575.4,116.9 L576.2,116.3 L576.9,116.4 L577.0,115.6 L578.1,115.5 L578.5,115.8 L579.5,115.9 L580.4,116.2 L581.0,116.3 L582.0,116.4 L582.8,116.7 L583.6,116.6 L584.2,117.0 L584.2,117.7 L584.2,118.5 L585.0,119.0 L585.7,118.6 L586.8,118.5 L587.3,117.5 L588.3,117.3 L588.9,117.0 L589.5,117.5 L590.3,117.9 L589.7,117.5 L588.6,117.8 L588.4,118.6 L588.4,119.3 L587.2,119.2 L587.0,120.2 L586.5,120.8 L585.5,121.3 L584.4,120.4 L584.2,119.2 L583.7,118.6 L583.0,118.6 L582.1,119.0 L582.0,120.1 L580.9,120.1 L580.1,119.9 L579.9,119.2 L578.9,119.7 L578.1,119.2 L577.1,118.6 L576.0,119.0 L575.7,120.0 L574.6,120.3 L573.8,120.8 L573.2,120.1 L573.1,119.1 L571.9,119.2 L571.2,118.4 L570.4,118.0Z M434.8,134.9 L436.0,134.9 L437.1,135.2 L436.3,136.6 L435.9,135.8Z M578.1,170.5 L578.4,171.4 L578.6,172.3 L579.6,173.3 L578.6,174.3 L578.4,175.3 L579.1,176.2 L580.0,177.4 L579.9,178.3 L579.4,179.2 L580.3,180.4 L579.8,181.6 L579.6,182.6 L579.7,183.5 L579.6,184.3 L580.1,184.8 L580.2,185.8 L580.3,186.8 L579.4,187.0 L578.1,187.2 L577.1,186.1 L577.8,185.0 L578.1,184.0 L578.1,183.3 L578.8,182.2 L579.0,180.7 L579.1,179.5 L578.1,178.4 L577.5,177.2 L577.3,176.4 L577.6,175.3 L578.2,174.3 L578.7,173.2 L578.1,171.8Z M575.0,195.6 L575.7,195.1 L576.8,194.9 L576.9,193.8 L576.5,192.8 L577.0,191.6 L577.6,190.6 L577.7,189.7 L577.6,188.3 L578.5,189.5 L579.6,190.4 L580.8,191.1 L581.4,191.9 L582.4,192.1 L583.4,192.3 L582.4,192.6 L581.1,193.0 L580.7,193.9 L579.9,194.7 L579.2,194.5 L578.3,194.1 L577.6,194.1 L576.5,194.1 L575.6,194.6Z M577.0,196.0 L577.3,196.9 L578.1,197.6 L578.1,199.2 L577.4,200.2 L576.8,200.5 L576.5,201.9 L576.1,202.8 L575.7,203.4 L575.9,204.4 L576.2,205.5 L575.3,206.4 L575.0,207.2 L574.2,207.5 L573.1,207.7 L571.8,208.3 L570.4,207.9 L569.6,208.6 L568.9,209.8 L568.2,208.8 L567.3,208.4 L566.6,208.0 L565.8,207.6 L565.2,207.9 L564.3,208.4 L563.3,208.5 L562.4,208.3 L561.2,208.9 L561.2,208.1 L562.4,207.5 L562.7,206.8 L563.5,206.3 L564.6,207.2 L565.8,207.1 L566.2,206.4 L567.3,206.0 L568.5,205.4 L569.4,204.9 L569.9,204.0 L570.8,202.8 L571.9,202.6 L572.7,203.0 L573.2,202.0 L574.2,201.0 L574.2,200.3 L574.7,199.4 L575.0,198.3 L575.2,197.0 L575.4,196.2Z M559.7,209.8 L560.8,210.5 L561.4,209.6 L562.3,209.4 L561.6,210.0 L561.1,211.0 L561.0,212.6 L562.0,213.2 L560.9,213.6 L560.0,213.7 L559.3,212.7 L559.2,211.2Z M563.5,208.9 L564.7,208.9 L565.7,208.7 L566.6,208.6 L566.2,209.3 L566.1,210.1 L564.8,210.3 L564.3,211.0 L564.2,210.0Z M546.6,223.7 L547.2,224.8 L546.1,225.5 L545.5,226.6 L544.8,227.5 L545.6,228.8 L545.1,228.2 L544.5,227.2 L545.1,226.5 L545.8,225.9 L545.2,225.0 L545.9,224.0Z M527.0,233.2 L528.1,232.8 L528.9,232.4 L529.8,232.0 L530.5,232.8 L530.1,234.2 L529.4,234.8 L528.2,234.9 L527.0,234.4Z M483.0,248.0 L483.6,249.2 L484.4,249.3 L485.0,250.0 L485.3,251.3 L485.8,252.4 L485.5,253.1 L484.6,253.6 L483.0,253.9 L483.0,253.2 L482.7,252.3 L482.6,250.8 L483.1,249.5Z M545.1,234.4 L546.4,234.8 L547.7,234.6 L547.7,235.5 L548.5,236.6 L547.4,237.1 L547.4,238.4 L547.3,239.9 L546.6,240.7 L547.7,240.4 L548.7,240.4 L549.1,241.0 L549.7,241.8 L550.0,242.9 L550.5,243.5 L549.2,243.4 L548.2,242.3 L547.3,241.9 L545.9,242.0 L545.4,240.9 L544.8,240.3 L544.0,239.3 L544.3,238.4 L545.3,237.7 L545.4,236.7 L545.1,235.7Z M547.4,252.4 L548.2,251.9 L548.9,251.2 L549.7,250.0 L550.3,249.4 L550.8,248.8 L551.5,247.8 L552.8,248.2 L553.5,249.1 L554.3,249.2 L554.5,250.0 L554.3,250.8 L553.9,251.7 L553.6,252.3 L553.5,253.4 L552.5,253.9 L551.7,253.1 L550.5,252.4 L549.6,251.7 L548.6,251.4Z M550.9,243.8 L551.9,243.8 L552.8,244.3 L552.9,245.9 L552.8,247.4 L551.5,247.0 L551.5,245.7 L551.2,244.9Z M547.4,244.9 L548.3,244.9 L548.9,245.4 L549.5,246.5 L550.0,247.2 L549.7,247.9 L549.4,248.8 L548.2,248.2 L547.4,247.0 L547.6,245.8Z M540.2,250.0 L540.8,248.7 L541.8,248.7 L542.6,248.9 L542.8,247.8 L543.6,247.0 L543.6,245.7 L542.6,246.9 L542.0,247.7 L541.7,248.6 L541.1,249.2Z M545.1,242.4 L546.5,242.8 L546.2,244.2 L545.6,243.7Z M506.5,254.5 L507.5,254.5 L508.1,255.0 L509.1,254.7 L509.9,255.1 L510.8,256.3 L511.8,257.3 L512.9,258.0 L513.7,258.5 L514.7,258.7 L516.1,258.8 L516.6,259.7 L516.8,260.8 L518.0,260.9 L518.8,261.0 L519.2,261.8 L519.5,263.1 L520.3,263.9 L520.6,265.4 L521.7,266.3 L521.8,267.3 L522.9,267.7 L522.7,269.1 L522.0,270.1 L522.2,271.1 L522.6,272.0 L521.7,271.2 L520.6,272.0 L519.5,271.1 L518.5,270.7 L518.0,270.0 L517.2,269.2 L515.8,268.6 L514.7,269.2 L514.9,268.5 L514.6,267.3 L514.5,266.2 L514.4,265.3 L514.0,264.4 L512.8,264.1 L512.2,263.1 L511.3,262.6 L510.9,261.9 L509.9,261.2 L509.9,260.0 L509.1,258.6 L508.8,257.8 L508.1,257.4 L508.3,256.1 L508.0,255.2 L507.3,255.2Z M521.7,273.5 L522.5,272.9 L523.7,272.3 L524.2,271.7 L525.2,271.2 L525.8,272.4 L526.7,273.1 L527.9,273.4 L529.0,273.1 L529.8,273.2 L531.2,273.3 L532.2,273.7 L532.8,273.7 L533.7,274.0 L534.4,274.5 L535.0,275.4 L535.9,275.1 L535.6,276.5 L534.6,276.0 L533.5,276.4 L532.9,275.5 L531.7,276.1 L530.5,275.8 L529.4,275.8 L528.6,275.2 L527.7,274.7 L527.0,274.7 L525.9,275.1 L524.6,274.9 L523.7,274.5 L522.6,274.8Z M527.5,260.8 L529.0,260.5 L530.3,260.3 L530.7,259.6 L531.3,259.0 L532.5,258.4 L533.6,258.2 L534.5,258.4 L535.6,257.6 L535.7,256.6 L535.9,255.7 L537.0,254.9 L537.9,253.9 L538.2,253.1 L538.9,252.4 L539.7,252.4 L540.3,253.1 L540.7,254.2 L542.0,254.7 L541.1,255.4 L541.3,256.5 L541.2,258.0 L541.0,259.3 L541.6,260.0 L542.3,260.3 L542.5,261.6 L541.6,262.5 L541.1,263.2 L540.5,263.9 L539.2,264.7 L539.0,266.2 L538.7,266.9 L537.8,267.3 L537.8,268.1 L538.2,268.9 L537.2,268.6 L535.9,269.4 L535.2,268.5 L534.5,268.1 L533.6,268.0 L532.2,268.6 L531.3,267.7 L531.2,266.8 L531.0,266.1 L530.2,265.4 L529.0,265.4 L528.4,264.4 L527.5,263.1 L527.7,261.9Z M544.0,261.9 L544.8,261.6 L545.9,261.3 L546.6,261.6 L547.5,261.8 L548.9,261.7 L550.0,261.6 L551.0,260.9 L552.3,260.8 L552.2,261.7 L551.2,262.3 L550.0,261.9 L549.1,261.7 L547.7,261.9 L546.6,262.5 L545.6,263.3 L544.8,264.3 L545.8,264.4 L546.6,264.6 L548.1,264.3 L549.4,264.3 L548.2,265.0 L547.4,265.9 L547.3,267.0 L546.6,267.7 L547.3,268.3 L547.6,269.0 L548.6,270.0 L548.0,270.5 L547.4,271.2 L546.9,269.9 L548.0,269.0 L547.0,268.5 L545.9,268.2 L545.1,267.4 L545.2,268.6 L544.0,269.7 L545.3,270.1 L545.0,271.5 L543.6,271.5 L543.2,270.4 L542.7,269.7 L543.3,268.5 L542.5,267.2 L542.5,266.4 L543.3,265.8 L542.5,265.1 L541.7,264.5 L542.2,263.9 L543.1,262.9Z M561.2,264.3 L562.1,264.0 L563.5,263.7 L564.6,264.1 L565.8,264.3 L565.3,265.5 L566.2,266.5 L567.1,267.4 L567.3,268.2 L568.4,267.9 L569.8,267.5 L570.3,266.6 L571.2,265.6 L572.4,266.5 L573.1,266.3 L574.2,266.6 L575.4,266.3 L576.5,267.1 L577.5,266.7 L578.3,266.9 L579.1,267.9 L580.3,268.5 L580.9,269.9 L581.2,270.9 L582.7,270.8 L583.9,270.8 L585.0,271.1 L586.0,271.6 L586.5,272.3 L585.7,273.5 L586.3,274.1 L587.3,274.2 L587.8,274.9 L588.0,276.2 L589.0,277.0 L589.7,277.3 L590.7,278.3 L591.4,278.9 L590.6,279.0 L589.4,278.8 L588.1,279.3 L587.2,278.5 L586.6,277.9 L585.5,277.1 L584.8,276.4 L584.2,276.2 L583.0,276.0 L581.9,274.9 L581.2,275.1 L580.3,275.8 L579.6,276.9 L578.4,277.1 L577.7,277.7 L576.5,276.9 L575.8,275.9 L575.4,275.2 L574.2,274.9 L573.5,275.4 L573.0,274.5 L571.9,273.8 L571.6,272.6 L572.7,271.5 L573.2,270.1 L571.8,269.3 L570.6,269.3 L570.0,268.4 L569.6,269.2 L568.9,270.0 L567.4,269.5 L566.3,269.6 L565.8,268.9 L565.0,267.9 L563.5,267.4 L564.1,266.6 L565.0,266.6 L563.9,266.5 L562.7,266.2 L562.1,265.5Z M549.7,278.9 L550.8,278.1 L551.5,277.5 L552.0,276.9 L552.8,276.4 L553.6,276.1 L555.1,276.0 L554.6,276.7 L553.9,277.2 L552.8,277.7 L551.7,278.2 L550.5,278.8Z M544.3,276.2 L545.8,276.6 L547.1,276.4 L547.9,276.1 L548.9,275.8 L548.6,276.6 L547.6,276.2 L546.5,276.0 L545.3,275.9 L544.3,276.6Z M539.4,276.2 L540.4,275.9 L541.2,275.6 L541.8,275.4 L542.8,275.8 L542.5,276.8 L541.8,276.9 L540.8,276.8 L539.7,276.9Z M536.1,275.7 L536.8,275.7 L537.7,275.8 L539.1,276.0 L538.7,276.8 L537.9,276.8 L536.7,276.5Z M542.8,277.7 L544.0,278.3 L545.4,278.2 L544.3,278.9 L543.6,278.6 L542.8,278.2Z M555.8,260.3 L557.4,260.8 L556.7,261.7 L556.6,263.1 L557.4,264.3 L556.8,263.4 L556.1,262.3 L555.7,261.5Z M556.6,267.7 L557.2,268.1 L558.4,268.0 L559.3,267.4 L560.4,267.7 L560.9,268.8 L559.4,268.5 L558.3,267.6 L557.1,268.5Z M553.5,268.0 L554.3,268.4 L555.4,268.2 L554.8,268.9 L553.5,268.6Z M588.0,271.5 L589.0,270.8 L590.3,271.5 L590.9,270.9 L591.7,270.3 L592.5,269.7 L593.4,269.5 L593.8,270.8 L593.3,271.5 L592.8,272.4 L591.8,272.6 L591.1,272.8 L590.1,272.5 L589.3,272.2 L588.0,272.2Z M591.5,267.2 L592.7,267.8 L593.5,268.6 L594.1,268.9 L594.9,270.3 L594.1,269.5 L593.3,269.0 L593.0,268.3 L591.8,267.7Z M597.4,271.5 L598.5,271.8 L599.2,273.1 L598.7,273.7 L598.0,273.2 L597.5,272.3Z M604.9,277.4 L605.6,278.2 L606.9,278.2 L605.6,278.3Z M606.6,276.0 L606.7,276.9 L607.6,277.7 L607.0,277.2Z M582.2,329.1 L583.4,329.3 L584.1,330.0 L584.9,329.9 L586.4,330.1 L587.7,329.5 L587.9,330.4 L588.4,331.3 L587.7,332.0 L587.2,333.4 L586.6,334.3 L585.6,333.9 L584.9,334.5 L584.4,333.8 L583.4,333.0 L583.9,332.2 L583.7,330.8 L583.1,329.7Z M625.1,318.0 L625.9,318.8 L626.6,319.2 L627.1,319.9 L628.6,320.3 L629.4,321.6 L629.1,322.8 L630.2,323.6 L631.0,322.8 L631.6,322.6 L632.8,322.7 L633.2,323.6 L633.6,324.4 L633.8,325.2 L633.1,325.5 L632.0,325.7 L631.7,327.0 L631.6,328.4 L630.9,329.7 L629.6,330.1 L628.6,330.6 L628.4,329.4 L628.3,327.9 L627.3,327.5 L626.8,326.6 L627.4,325.2 L628.2,324.3 L627.3,323.4 L626.8,322.8 L627.9,321.6 L627.2,320.2 L627.4,319.1 L626.6,318.5Z M625.1,328.8 L626.5,329.3 L627.4,330.6 L626.7,331.8 L626.0,332.4 L625.6,333.4 L625.1,334.1 L624.2,334.3 L623.6,334.9 L622.9,335.6 L621.9,336.6 L621.9,337.9 L622.0,338.6 L621.3,339.5 L620.2,340.2 L619.4,339.8 L618.6,339.4 L617.1,339.4 L616.5,339.0 L615.6,338.4 L616.3,337.7 L616.5,336.7 L617.3,336.0 L617.5,335.4 L618.7,335.2 L618.8,334.1 L619.7,333.2 L620.5,333.5 L621.7,333.0 L622.1,332.2 L622.7,330.9 L623.1,329.9 L624.0,329.3Z M611.8,294.5 L612.5,295.2 L613.1,296.3 L613.7,296.8 L614.5,297.0 L615.6,297.4 L616.4,298.2 L615.6,298.0 L615.3,297.0 L614.2,296.3 L613.4,295.8 L612.5,295.8Z M632.1,290.2 L633.2,290.8 L634.1,290.3 L633.5,291.3 L632.1,291.0Z M634.3,288.9 L635.4,289.0 L636.3,288.1 L635.5,289.1Z M121.4,232.5 L122.9,232.8 L122.0,233.6 L121.4,233.3Z M120.3,230.6 L121.4,230.8 L120.9,231.1Z M118.0,229.6 L118.8,229.8 L118.3,230.0Z M115.7,228.7 L116.3,228.7 L116.0,229.0Z M442.1,243.7 L443.2,243.1 L444.0,243.8 L442.9,244.2Z M465.9,344.8 L467.1,345.2 L468.5,345.2 L467.7,346.2 L466.2,346.0Z M302.2,355.0 L303.5,355.9 L304.1,356.2 L305.3,356.1 L304.5,356.7 L303.8,355.7 L302.8,355.5Z M220.2,263.6 L221.3,264.3 L220.5,264.6Z M634.3,129.7 L635.3,128.8 L636.0,128.9 L637.0,128.9 L636.6,129.6 L637.0,130.6 L635.9,131.0 L634.7,130.8Z M83.9,128.9 L84.5,129.1 L85.5,129.0 L86.0,130.6 L87.0,130.0 L88.4,129.7 L87.7,130.6 L86.9,131.0 L86.1,131.4 L85.1,130.6 L83.9,130.6 L84.2,129.7Z M97.3,149.8 L98.8,149.8 L99.1,150.8 L100.7,150.8 L101.5,150.3 L100.7,150.5 L99.9,151.0 L98.8,150.5 L97.9,150.7Z M104.1,157.6 L105.3,158.2 L106.4,157.3 L106.1,158.5 L105.0,158.2Z M107.6,169.9 L108.5,169.0 L109.5,169.1 L110.2,169.1 L109.9,169.9 L108.9,170.1Z M234.9,173.3 L235.9,174.4 L237.1,174.2 L237.6,173.3 L236.3,173.7Z M237.9,165.8 L239.4,166.3 L238.6,167.1Z M237.6,152.7 L238.6,153.4 L238.2,154.1Z M276.5,134.4 L277.4,134.9 L278.1,135.1 L279.1,135.6 L280.0,134.7 L279.8,133.8 L279.2,132.5 L278.1,132.4 L276.9,132.5 L277.0,133.7Z M445.0,295.8 L446.0,295.9 L445.5,296.4Z M448.4,294.3 L449.0,294.5 L448.6,295.0Z M240.5,221.4 L241.1,221.8 L242.1,221.5 L241.2,221.9Z M240.6,224.0 L241.4,224.8 L240.9,225.3Z M556.1,221.0 L556.9,221.4 L556.3,222.0Z M553.8,209.8 L554.9,209.8 L554.3,210.3Z M373.5,257.3 L374.1,257.6 L373.6,258.0Z M522.1,265.7 L522.9,266.0 L523.7,266.5 L523.7,267.7 L522.6,266.9Z M509.4,261.0 L510.5,261.9 L510.2,262.2Z M511.9,264.9 L512.8,265.9 L512.3,266.0Z"/></clipPath>
<g clip-path="url(#landclip)"><ellipse cx="203" cy="173" rx="21" ry="7.5" fill="#ffe6c4" fill-opacity="1" filter="url(#blob)"/><ellipse cx="207" cy="175" rx="9" ry="4.5" fill="#ffd08a" fill-opacity="0.9" filter="url(#blob)"/><ellipse cx="208" cy="198" rx="23" ry="15" fill="#ffe6c4" fill-opacity="1" filter="url(#blob)"/><ellipse cx="207" cy="197" rx="17" ry="11" fill="#ffd08a" fill-opacity="0.95" filter="url(#blob)"/><ellipse cx="204" cy="196" rx="9" ry="8" fill="#fdb754" fill-opacity="0.8" filter="url(#blob)"/><ellipse cx="200.5" cy="198.8" rx="2.6" ry="3.2" fill="#ee7a12" fill-opacity="1" filter="url(#blob2)"/><ellipse cx="200.3" cy="198.9" rx="1.2" ry="1.6" fill="#b85a0c" fill-opacity="1" filter="url(#blob2)"/><ellipse cx="222.4" cy="196.5" rx="3.2" ry="3.4" fill="#f99a25" fill-opacity="0.9" filter="url(#blob2)"/><ellipse cx="214.5" cy="210.5" rx="3.2" ry="3.0" fill="#ee7a12" fill-opacity="0.95" filter="url(#blob2)"/><ellipse cx="213" cy="206" rx="6" ry="5" fill="#fdb754" fill-opacity="0.8" filter="url(#blob)"/><ellipse cx="187" cy="206.5" rx="3.6" ry="2.6" fill="#f99a25" fill-opacity="0.9" filter="url(#blob2)"/><ellipse cx="192" cy="211" rx="6" ry="4" fill="#ffd08a" fill-opacity="0.8" filter="url(#blob)"/><ellipse cx="202" cy="226" rx="9" ry="11" fill="#ffe6c4" fill-opacity="1" transform="rotate(-35 202 226)" filter="url(#blob)"/><ellipse cx="207" cy="229" rx="4" ry="6.5" fill="#fdb754" fill-opacity="0.85" transform="rotate(-35 207 229)" filter="url(#blob2)"/><ellipse cx="197" cy="219" rx="3.5" ry="5" fill="#ffd08a" fill-opacity="0.9" transform="rotate(-35 197 219)" filter="url(#blob2)"/><ellipse cx="182" cy="199" rx="1.6" ry="1.6" fill="#7cc8f8" fill-opacity="0.9" filter="url(#blob2)"/><ellipse cx="196.6" cy="200.3" rx="1.5" ry="2.2" fill="#7cc8f8" fill-opacity="0.9" filter="url(#blob2)"/><ellipse cx="243.5" cy="206.5" rx="1.2" ry="1.8" fill="#7cc8f8" fill-opacity="0.9" filter="url(#blob2)"/><ellipse cx="236" cy="214" rx="2" ry="1.2" fill="#b4e0fb" fill-opacity="0.8" filter="url(#blob2)"/><ellipse cx="243.8" cy="248.6" rx="3.2" ry="3.6" fill="#f99a25" fill-opacity="0.95" filter="url(#blob2)"/><ellipse cx="243" cy="252" rx="4.5" ry="6" fill="#ffd08a" fill-opacity="0.8" filter="url(#blob)"/><ellipse cx="240" cy="272" rx="3.5" ry="14" fill="#ffe6c4" fill-opacity="0.9" transform="rotate(-12 240 272)" filter="url(#blob)"/><ellipse cx="251" cy="287" rx="5" ry="7" fill="#ffd08a" fill-opacity="0.9" transform="rotate(-35 251 287)" filter="url(#blob)"/><ellipse cx="258.5" cy="295" rx="4.2" ry="6.5" fill="#fdb754" fill-opacity="1" transform="rotate(-25 258.5 295)" filter="url(#blob2)"/><ellipse cx="259.5" cy="296.5" rx="2.4" ry="3.6" fill="#f99a25" fill-opacity="0.9" transform="rotate(-25 259.5 296.5)" filter="url(#blob2)"/><ellipse cx="279" cy="296" rx="15" ry="7" fill="#dcf0fc" fill-opacity="1" transform="rotate(-20 279 296)" filter="url(#blob)"/><ellipse cx="271" cy="309" rx="11" ry="12" fill="#b4e0fb" fill-opacity="1" transform="rotate(-25 271 309)" filter="url(#blob)"/><ellipse cx="265" cy="312" rx="8" ry="10" fill="#7cc8f8" fill-opacity="1" transform="rotate(-15 265 312)" filter="url(#blob)"/><ellipse cx="260.5" cy="313" rx="7.5" ry="9.5" fill="#4d8ee8" fill-opacity="1" filter="url(#blob)"/><ellipse cx="259.3" cy="313.5" rx="5.4" ry="7.4" fill="#3a3cc8" fill-opacity="1" filter="url(#blob2)"/><ellipse cx="259" cy="313.8" rx="4.3" ry="6.2" fill="#5226d0" fill-opacity="1" filter="url(#blob2)"/><ellipse cx="256.5" cy="331.5" rx="3.2" ry="4" fill="#ffd08a" fill-opacity="0.9" filter="url(#blob2)"/><ellipse cx="383" cy="187" rx="33" ry="14" fill="#ffe6c4" fill-opacity="1" filter="url(#blob)"/><ellipse cx="372" cy="189" rx="24" ry="10" fill="#ffd08a" fill-opacity="0.9" filter="url(#blob)"/><ellipse cx="396" cy="190" rx="18" ry="8" fill="#ffd08a" fill-opacity="0.7" filter="url(#blob)"/><ellipse cx="367" cy="190" rx="14" ry="6.5" fill="#fdb754" fill-opacity="0.9" transform="rotate(-12 367 190)" filter="url(#blob)"/><ellipse cx="371" cy="189" rx="8" ry="4" fill="#f99a25" fill-opacity="0.9" transform="rotate(-20 371 189)" filter="url(#blob2)"/><ellipse cx="357" cy="194" rx="7" ry="3" fill="#f99a25" fill-opacity="0.7" filter="url(#blob2)"/><ellipse cx="379.3" cy="187.6" rx="3.8" ry="2.3" fill="#dd560c" fill-opacity="1" filter="url(#blob2)"/><ellipse cx="379.3" cy="187.5" rx="2.2" ry="1.3" fill="#d22a08" fill-opacity="1" filter="url(#blob2)"/><ellipse cx="384.5" cy="192.5" rx="3.5" ry="2.2" fill="#ee7a12" fill-opacity="0.85" transform="rotate(40 384.5 192.5)" filter="url(#blob2)"/><ellipse cx="360" cy="198" rx="14" ry="8.5" fill="#ffd08a" fill-opacity="0.95" filter="url(#blob)"/><ellipse cx="363" cy="192" rx="13" ry="3.6" fill="#f99a25" fill-opacity="0.85" transform="rotate(4 363 192)" filter="url(#blob2)"/><ellipse cx="367" cy="185" rx="8" ry="6" fill="#f99a25" fill-opacity="0.75" transform="rotate(-20 367 185)" filter="url(#blob2)"/><ellipse cx="385" cy="194" rx="9" ry="2.6" fill="#ee7a12" fill-opacity="0.85" transform="rotate(42 385 194)" filter="url(#blob2)"/><ellipse cx="383" cy="190.5" rx="4" ry="2" fill="#dd560c" fill-opacity="0.8" transform="rotate(35 383 190.5)" filter="url(#blob2)"/><ellipse cx="398" cy="196" rx="10" ry="6" fill="#ffd08a" fill-opacity="0.8" filter="url(#blob)"/><ellipse cx="364" cy="208.3" rx="14" ry="3.0" fill="#f99a25" fill-opacity="1" transform="rotate(-6 364 208.3)" filter="url(#blob2)"/><ellipse cx="357" cy="209.5" rx="6" ry="2.2" fill="#ee7a12" fill-opacity="0.7" transform="rotate(-10 357 209.5)" filter="url(#blob2)"/><ellipse cx="364" cy="210" rx="18" ry="6" fill="#ffd08a" fill-opacity="0.9" filter="url(#blob)"/><ellipse cx="374" cy="218" rx="24" ry="8" fill="#ffe6c4" fill-opacity="0.9" filter="url(#blob)"/><ellipse cx="420" cy="204" rx="18" ry="11" fill="#ffd08a" fill-opacity="1" transform="rotate(25 420 204)" filter="url(#blob)"/><ellipse cx="424" cy="222" rx="11" ry="11" fill="#ffd08a" fill-opacity="0.9" filter="url(#blob)"/><ellipse cx="424" cy="196" rx="6" ry="3" fill="#f99a25" fill-opacity="0.8" transform="rotate(10 424 196)" filter="url(#blob2)"/><ellipse cx="432" cy="207" rx="8.5" ry="2.6" fill="#ee7a12" fill-opacity="0.95" transform="rotate(48 432 207)" filter="url(#blob2)"/><ellipse cx="410" cy="198" rx="8" ry="4" fill="#fdb754" fill-opacity="0.7" filter="url(#blob)"/><ellipse cx="446" cy="204" rx="10" ry="6" fill="#ffe6c4" fill-opacity="0.9" filter="url(#blob)"/><ellipse cx="361" cy="237" rx="21" ry="8" fill="#dcf0fc" fill-opacity="1" filter="url(#blob)"/><ellipse cx="363" cy="236.5" rx="10.5" ry="4.4" fill="#7cc8f8" fill-opacity="0.95" filter="url(#blob2)"/><ellipse cx="352" cy="239" rx="5" ry="2.5" fill="#b4e0fb" fill-opacity="0.9" filter="url(#blob2)"/><ellipse cx="392" cy="242" rx="4.5" ry="4.5" fill="#ffd08a" fill-opacity="0.95" filter="url(#blob2)"/><ellipse cx="399" cy="252.5" rx="16" ry="5" fill="#b4e0fb" fill-opacity="0.95" filter="url(#blob)"/><ellipse cx="397" cy="253" rx="8" ry="3" fill="#7cc8f8" fill-opacity="0.7" filter="url(#blob2)"/><ellipse cx="398" cy="265" rx="10" ry="7.5" fill="#ffd08a" fill-opacity="1" filter="url(#blob)"/><ellipse cx="400.5" cy="264.6" rx="4.5" ry="3.5" fill="#fdb754" fill-opacity="0.9" filter="url(#blob2)"/><ellipse cx="379.5" cy="266" rx="3" ry="6" fill="#fdb754" fill-opacity="0.9" transform="rotate(-20 379.5 266)" filter="url(#blob2)"/><ellipse cx="425.8" cy="238.5" rx="1.2" ry="4.8" fill="#3f5cd8" fill-opacity="0.9" transform="rotate(-14 425.8 238.5)" filter="url(#blob2)"/><ellipse cx="396" cy="288" rx="13" ry="14" fill="#dcf0fc" fill-opacity="1" filter="url(#blob)"/><ellipse cx="402" cy="303" rx="8.5" ry="8" fill="#b4e0fb" fill-opacity="1" filter="url(#blob)"/><ellipse cx="402" cy="306.5" rx="5" ry="5" fill="#7cc8f8" fill-opacity="1" filter="url(#blob2)"/><ellipse cx="401.6" cy="308" rx="3.1" ry="3.3" fill="#3f5cd8" fill-opacity="1" filter="url(#blob2)"/><ellipse cx="401.5" cy="308.2" rx="2.1" ry="2.3" fill="#3a3cc8" fill-opacity="1" filter="url(#blob2)"/><ellipse cx="389" cy="302.5" rx="3.5" ry="4.5" fill="#ffd08a" fill-opacity="0.9" filter="url(#blob2)"/><ellipse cx="396.5" cy="315.5" rx="5.5" ry="2.4" fill="#ffd08a" fill-opacity="0.95" filter="url(#blob2)"/><ellipse cx="430.5" cy="294" rx="2.4" ry="6.5" fill="#ffe6c4" fill-opacity="1" transform="rotate(-12 430.5 294)" filter="url(#blob2)"/><ellipse cx="489" cy="186" rx="21" ry="13" fill="#ffe6c4" fill-opacity="1" transform="rotate(-12 489 186)" filter="url(#blob)"/><ellipse cx="483" cy="183" rx="11" ry="6.5" fill="#ffd08a" fill-opacity="0.75" transform="rotate(-15 483 183)" filter="url(#blob)"/><ellipse cx="470.5" cy="214" rx="6.5" ry="7.5" fill="#fdb754" fill-opacity="0.95" transform="rotate(-25 470.5 214)" filter="url(#blob)"/><ellipse cx="470" cy="213.5" rx="3.4" ry="4.2" fill="#f99a25" fill-opacity="0.9" transform="rotate(-25 470 213.5)" filter="url(#blob2)"/><ellipse cx="501" cy="211.5" rx="14" ry="5.5" fill="#ffd08a" fill-opacity="0.9" filter="url(#blob)"/><ellipse cx="556.5" cy="188" rx="8.5" ry="6.5" fill="#ffe6c4" fill-opacity="1" filter="url(#blob)"/><ellipse cx="556.5" cy="188" rx="6" ry="4.5" fill="#ffd08a" fill-opacity="0.7" filter="url(#blob)"/><ellipse cx="555.5" cy="188.5" rx="3" ry="2.2" fill="#fdb754" fill-opacity="0.45" filter="url(#blob2)"/><ellipse cx="531.7" cy="197.6" rx="3.6" ry="3.8" fill="#b4e0fb" fill-opacity="0.9" filter="url(#blob2)"/><ellipse cx="541" cy="203.5" rx="3.5" ry="4" fill="#ffe6c4" fill-opacity="0.9" filter="url(#blob2)"/><ellipse cx="488.5" cy="230.3" rx="5.5" ry="3" fill="#b4e0fb" fill-opacity="0.95" transform="rotate(-20 488.5 230.3)" filter="url(#blob2)"/><ellipse cx="500" cy="227.3" rx="2.2" ry="1.4" fill="#3f5cd8" fill-opacity="0.95" transform="rotate(-25 500 227.3)" filter="url(#blob2)"/><ellipse cx="517" cy="262" rx="2.5" ry="4" fill="#ffd08a" fill-opacity="0.7" transform="rotate(-20 517 262)" filter="url(#blob2)"/><ellipse cx="566" cy="301" rx="21" ry="12" fill="#dcf0fc" fill-opacity="1" filter="url(#blob)"/><ellipse cx="559.5" cy="295" rx="9.5" ry="9" fill="#b4e0fb" fill-opacity="1" filter="url(#blob)"/><ellipse cx="559" cy="292.5" rx="5" ry="5" fill="#7cc8f8" fill-opacity="1" filter="url(#blob2)"/><ellipse cx="558.8" cy="291.3" rx="2.2" ry="2.4" fill="#4d8ee8" fill-opacity="1" filter="url(#blob2)"/><ellipse cx="540.5" cy="309" rx="3.6" ry="5" fill="#ffe6c4" fill-opacity="1" filter="url(#blob2)"/><ellipse cx="585" cy="313.5" rx="8" ry="4.5" fill="#ffe6c4" fill-opacity="1" filter="url(#blob2)"/><ellipse cx="589.5" cy="312.5" rx="3" ry="3" fill="#ffd08a" fill-opacity="0.55" filter="url(#blob2)"/><ellipse cx="580" cy="314.5" rx="3" ry="2.6" fill="#ffd08a" fill-opacity="0.45" filter="url(#blob2)"/><ellipse cx="590.5" cy="323" rx="2.8" ry="1.8" fill="#ffd08a" fill-opacity="0.9" filter="url(#blob2)"/></g><ellipse cx="225" cy="221.5" rx="7" ry="3.2" fill="#dcf0fc" fill-opacity="1" filter="url(#blob2)"/><ellipse cx="533" cy="244.5" rx="11.5" ry="3.4" fill="#ffd08a" fill-opacity="0.95" transform="rotate(-32 533 244.5)" filter="url(#blob2)"/><ellipse cx="529" cy="259" rx="5" ry="2.4" fill="#ffd08a" fill-opacity="0.8" transform="rotate(-30 529 259)" filter="url(#blob2)"/>
<g clip-path="url(#landclip)"><path d="M181,167 L190,163 L206,162 L222,167 L225,177 L214,182 L196,182 L184,177Z M199,144 L215,144 L216,151 L199,151Z M253,169 L263,169 L263,175 L253,175Z M175,209 L186,206 L197,217 L207,228 L215,236 L208,241 L196,233 L184,223Z M226,239 L240,241 L255,250 L253,258 L240,255 L229,248Z M238,247 L248,246 L250,253 L240,254Z M256,250 L268,250 L270,257 L258,258Z M272,253 L282,254 L281,260 L273,260Z M267,262 L290,261 L302,271 L303,286 L292,297 L278,298 L268,289Z M245,329 L258,329 L259,352 L250,353Z M238,263 L245,263 L248,272 L241,272Z M248,280 L255,282 L258,292 L251,290Z M346.8,195.8 L352.3,184.7 L363.5,175.7 L378,169 L381.4,153.4 L388.1,153.4 L389.2,169 L403.7,170.2 L404.8,182.4 L419.3,182.4 L423.8,191.4 L435,195.8 L446.1,186.9 L460,184.7 L474,200 L478,214 L470,224 L460,230 L450.6,224.9 L441.7,229.3 L435,236 L428.3,236 L419.3,224.9 L414.9,213.7 L403.7,206.9 L394.8,204.8 L385.8,206.9 L378,213.7 L378,224.9 L363.5,227.1 L350.1,220.4 L345.6,206.9Z M336,228 L350,226 L382,230 L384,246 L360,250 L340,246Z M382,246 L416,244 L420,256 L400,260 L384,258Z M410,232 L430,230 L444,240 L440,256 L428,264 L416,262 L412,250Z M382,274 L410,272 L412,300 L404,306 L392,300 L384,290Z M454,188 L470,174 L490,166 L510,164 L528,156 L542,156 L548,170 L544,186 L540,200 L528,206 L516,218 L500,222 L484,226 L468,226 L456,214Z M540.7,134.2 L546.1,132.9 L558.3,131.5 L565.1,136.3 L576,140.4 L585.5,143 L593.6,153.9 L595,158 L586.8,156.6 L576,148.5 L563.8,147.1 L557,149.9 L548.8,152.6 L544.8,140.4Z M536.6,153.2 L543.4,153.9 L547.5,159.3 L551.6,164.8 L547.5,167.5 L540.7,174.3 L535.3,180 L527.1,180 L528.5,168.8 L532.6,160.7Z M344,153 L352,151 L360,154 L362,170 L346,171Z M476,228 L490,226 L500,232 L498,246 L488,254 L480,246Z M545,284 L570,282 L588,290 L588,308 L566,312 L548,304Z" fill="url(#hatch)" stroke="none"/></g><path d="M150,154 L160,152 L172,163 L184,176 L188,188 L181,190 L170,179 L158,167Z M506,222 L530,222 L546,236 L556,250 L560,270 L540,280 L520,270 L510,250Z M510,250 L560,250 L580,270 L580,288 L548,288 L520,280Z" fill="url(#hatch)" stroke="none"/>
<path d="M144.4,134.1 L144.4,157.3 L147.4,158.0 L149.7,160.3 L152.8,158.5 L155.1,160.7 L158.2,164.7 L161.2,166.9 L160.8,169.5 M172.0,181.4 L214.6,181.4 L215.6,182.0 L219.5,182.7 L223.3,183.3 L224.8,182.7 L230.5,185.5 L231.0,186.2 L232.5,187.2 L234.0,188.5 L234.2,192.8 L233.3,194.3 L234.0,195.2 L239.4,193.2 L239.4,191.9 L243.2,190.6 L245.5,189.1 L250.9,189.1 L252.7,187.4 L253.2,185.8 L254.4,184.5 L256.2,184.7 L256.6,187.6 L257.8,189.1 M181.0,211.5 L184.7,211.2 L190.4,213.5 L194.6,213.5 L194.6,212.7 L197.2,212.7 L200.3,216.4 L202.6,217.4 L204.1,216.1 L206.4,218.2 L208.0,219.9 L208.7,221.7 L211.3,222.4 M219.2,240.7 L219.5,239.6 L220.2,238.4 L221.8,238.2 L221.0,236.5 L221.0,235.5 L223.8,235.5 L225.1,234.6 M223.8,235.5 L223.8,238.4 L224.2,238.5 M225.1,238.8 L223.6,240.9 L222.4,241.8 M223.6,240.9 L225.6,241.7 L225.9,242.4 M226.7,243.1 L227.9,241.8 L230.2,240.4 L233.0,239.9 M229.1,246.0 L231.0,246.2 L232.2,246.3 M233.4,250.7 L233.6,249.3 L233.9,248.3 M250.6,232.5 L250.4,234.3 L250.6,235.5 M251.2,244.9 L249.4,246.2 L248.6,249.0 L249.7,250.0 L250.1,251.9 L252.9,252.4 L253.9,253.7 L257.0,253.6 L256.6,256.2 L257.3,257.9 L257.8,260.0 L257.9,261.3 M257.9,261.3 L260.1,261.9 L262.4,260.8 L262.4,259.3 L263.9,257.3 L261.6,256.7 L264.2,257.4 L267.0,256.2 L267.4,255.1 M267.4,255.1 L266.4,253.9 L268.0,252.4 L268.7,250.4 M267.4,255.1 L268.8,256.2 L268.5,259.3 L270.0,261.1 L271.6,260.8 L273.9,260.2 M273.9,260.2 L272.6,257.9 L271.7,255.4 L273.0,254.0 M273.9,260.2 L276.9,259.6 M276.9,259.6 L277.2,257.0 L277.7,254.4 M276.9,259.6 L279.5,259.6 L281.2,256.8 M257.9,261.3 L257.0,260.0 L253.5,260.5 L253.9,262.0 L253.2,262.3 L253.9,264.6 L253.3,269.5 M253.3,269.5 L252.4,268.9 L250.1,266.8 L247.8,265.1 L245.2,263.3 M245.2,263.3 L243.5,262.5 L241.4,261.9 L239.5,261.1 M245.2,263.3 L244.8,265.4 L242.9,267.1 L240.9,268.2 L240.2,270.0 L238.6,270.8 L237.4,269.8 L237.4,268.3 M253.3,269.5 L248.9,270.9 L247.4,274.3 L249.0,277.5 L252.4,277.7 L252.3,280.0 L253.9,280.0 M253.9,280.0 L255.2,282.4 L254.7,285.5 L253.9,287.5 L254.7,288.6 L253.9,290.2 M253.9,290.2 L252.7,291.5 M253.9,280.0 L255.5,280.0 L258.5,278.3 L260.4,278.5 L260.4,281.1 L263.9,282.7 L265.7,283.9 L267.7,284.4 L268.2,288.3 L271.0,288.3 L271.1,289.9 L272.3,291.0 L271.6,293.8 M253.9,290.2 L255.5,292.6 L255.5,295.8 L256.6,298.6 M256.6,298.6 L259.0,297.0 L261.9,298.6 L264.4,297.7 M264.4,297.7 L265.4,295.0 L269.3,293.0 L271.6,293.8 M271.6,293.8 L271.9,297.4 L275.1,297.8 L275.4,300.6 L277.2,300.6 L276.8,303.2 M264.4,297.7 L267.0,300.3 L270.8,302.2 L272.0,302.7 L270.8,306.0 L274.6,306.0 L276.8,303.2 M276.8,303.2 L278.2,304.2 L278.0,305.8 L274.9,307.6 L272.2,310.8 M272.2,310.8 L274.6,311.8 L276.9,313.0 L278.5,315.2 L278.8,316.8 M272.2,310.8 L271.3,313.9 L271.0,317.3 M256.6,298.6 L257.8,300.6 L255.5,302.2 L255.8,305.5 L253.9,308.0 L253.2,312.2 L252.9,315.6 L253.5,317.8 L252.4,320.7 L251.3,325.2 L250.4,329.7 L250.6,334.3 L250.9,338.1 L250.1,341.9 L248.6,345.8 L249.7,348.8 L250.9,350.9 L255.6,351.5 M255.3,352.3 L255.3,356.9 M347.0,194.9 L347.9,194.7 L350.5,194.9 L349.9,196.5 L349.7,198.9 L349.3,201.0 L349.1,203.3 M357.7,192.1 L361.5,193.4 L363.1,193.8 L365.4,194.0 M364.3,177.2 L366.9,179.4 L369.3,180.4 L370.3,180.4 L373.0,181.4 L372.1,184.1 M365.7,176.5 L368.1,176.5 L369.6,177.8 M369.6,177.8 L369.8,179.2 L370.3,180.4 M369.6,177.8 L369.6,175.7 L371.2,174.7 L371.5,172.6 M373.8,169.3 L375.6,169.5 M382.2,171.4 L382.8,174.3 L383.4,177.4 M383.4,177.4 L379.3,178.8 L381.6,181.8 M381.6,181.8 L380.4,184.1 L376.5,184.5 L375.2,184.3 M375.2,184.3 L373.5,183.9 L372.1,184.1 M372.1,184.1 L370.0,186.4 L371.2,187.4 M371.2,187.4 L371.2,190.6 L371.9,191.4 M371.2,187.4 L373.5,186.8 L374.7,186.4 L376.4,186.0 M376.4,186.0 L375.2,185.1 L375.2,184.3 M376.4,186.0 L379.1,185.3 L381.4,186.2 M381.4,186.2 L381.4,187.8 M381.4,186.2 L385.1,185.7 M385.1,185.7 L386.7,183.3 M381.6,181.8 L383.4,181.4 L386.3,182.0 L386.7,183.3 M383.4,177.4 L385.7,178.8 L389.3,180.4 M389.3,180.4 L386.7,182.3 L386.3,182.0 M389.3,180.4 L391.1,180.8 L394.9,181.2 M386.7,183.3 L389.3,183.7 L391.9,182.3 L394.3,182.5 M394.9,181.2 L397.2,178.4 L396.6,176.3 L396.6,174.3 L397.1,171.2 L396.5,170.8 M390.8,170.3 L395.4,170.3 L396.5,170.8 M395.4,170.3 L395.2,169.1 L392.9,168.4 M396.5,170.8 L399.5,170.8 L401.4,167.6 M392.8,166.7 L398.0,166.3 L401.4,167.6 M397.8,162.8 L400.3,163.0 L402.4,163.6 M401.4,167.6 L403.7,166.7 L402.9,164.1 L402.4,163.6 M402.4,163.6 L402.6,160.7 L403.4,159.2 M403.1,156.9 L406.4,153.8 L408.7,151.2 L406.4,148.6 L406.4,144.3 L404.9,141.0 L406.4,138.4 L404.1,135.8 L407.6,133.6 M397.4,144.1 L396.6,140.5 L396.5,138.4 L392.0,135.6 M392.0,135.6 L394.2,136.6 L398.8,136.8 L400.3,133.9 L403.4,133.0 L404.9,135.2 L404.7,135.6 M392.0,135.6 L388.0,137.1 L385.0,141.0 L382.7,143.6 L381.9,147.3 L378.8,149.8 L379.1,154.5 L379.6,156.9 L378.4,159.2 L377.6,160.3 M396.6,176.3 L401.8,176.1 L407.2,176.5 L409.2,175.1 M403.7,166.7 L407.6,168.0 L408.0,171.2 L410.3,172.6 L409.2,175.1 M409.2,175.1 L412.6,174.7 L414.9,178.4 L418.7,179.6 L421.7,180.2 L421.4,183.5 L419.1,184.9 M394.3,182.5 L395.5,183.3 L398.6,183.9 L401.2,182.7 L403.4,182.5 L406.1,184.3 L406.4,186.4 L403.7,188.1 M401.2,182.7 L403.7,186.2 L403.7,188.1 L405.8,188.5 M394.3,182.5 L392.9,186.8 L391.6,187.0 M391.6,187.0 L389.4,187.4 L386.5,187.2 L385.7,186.4 L385.1,185.7 M391.6,187.0 L393.4,189.3 L394.9,189.7 L395.2,190.6 M395.2,190.6 L398.8,191.5 L402.3,190.8 L404.3,191.5 M395.2,190.6 L394.8,192.8 L395.5,196.0 M395.5,196.0 L398.0,195.6 L400.6,195.2 L403.4,194.7 M400.6,195.2 L400.8,196.7 M391.1,198.9 L392.6,196.9 L395.5,196.0 M390.2,194.9 L391.9,194.3 L391.9,196.0 L392.6,196.9 M389.4,187.4 L389.9,189.3 L390.0,191.9 L388.8,193.8 M389.9,189.3 L386.5,188.7 L384.7,188.7 L385.0,191.0 L387.4,192.8 L388.8,193.8 M381.4,188.1 L383.9,188.1 L385.7,186.4 M391.9,194.3 L393.4,194.1 L394.8,194.1 M390.0,191.9 L391.6,193.2 L391.9,194.3 M347.9,170.1 L349.3,171.0 L350.8,171.0 M424.2,195.6 L427.1,196.3 M427.1,196.3 L427.9,198.3 L429.1,198.9 L428.5,201.2 L429.1,203.3 M421.7,192.1 L425.6,192.5 L428.6,193.4 L431.7,195.1 M431.7,195.1 L434.9,195.1 M427.1,196.3 L429.4,196.0 L431.7,195.1 M429.4,196.0 L431.7,199.2 L431.7,200.3 M429.1,198.9 L431.7,200.3 L434.0,199.2 L435.4,201.2 M415.6,205.5 L416.7,204.0 L418.7,204.0 L421.7,204.0 L425.3,203.3 M425.3,203.3 L429.1,203.3 M425.3,203.3 L423.7,204.6 L423.3,208.2 L419.9,210.0 M419.9,210.0 L416.8,211.8 L415.3,211.2 M415.5,207.9 L416.4,208.4 L415.3,210.1 L414.2,210.5 M415.3,211.2 L414.9,213.2 L414.1,216.6 M412.9,213.5 L413.9,216.6 M414.1,216.7 L416.4,217.1 L417.9,215.7 L417.1,213.2 L420.5,212.2 M420.5,212.2 L419.9,210.0 M420.5,212.2 L424.8,214.0 L428.9,217.1 L431.7,217.2 M431.7,217.2 L433.5,215.7 L434.0,215.7 M431.7,217.2 L433.2,218.2 L434.6,218.2 M429.1,203.3 L430.2,205.5 L430.9,207.2 L430.2,208.9 L430.9,210.6 L433.7,212.7 L434.0,214.9 L434.9,215.9 M426.0,237.7 L426.8,236.2 L429.7,236.2 L432.5,236.8 L435.5,234.3 L440.1,233.6 M440.1,233.6 L441.8,237.4 M440.1,233.6 L444.7,232.0 L445.7,228.8 L445.0,227.7 L441.1,227.4 L439.5,225.3 M445.0,227.7 L446.3,225.3 L446.7,224.2 M438.3,224.5 L439.1,224.6 M443.0,203.2 L446.3,201.7 L448.3,201.9 L451.3,202.8 L454.2,204.4 L454.2,206.2 M454.2,206.2 L453.3,208.9 L453.6,213.2 L455.0,213.4 L453.8,215.9 M453.8,215.9 L456.7,218.7 L457.5,220.4 L454.8,223.7 M453.8,215.9 L458.5,216.7 L462.0,215.9 L462.7,213.7 L466.6,212.5 L467.7,210.1 L469.4,208.6 L470.2,205.5 L474.6,203.7 M454.2,206.2 L457.0,206.5 L459.3,204.8 L462.4,203.2 L464.7,203.7 L467.7,202.6 L470.0,202.1 L470.2,204.2 L474.6,203.2 M462.4,203.2 L458.5,200.1 L455.5,197.4 L453.9,196.0 L452.4,194.3 L450.1,193.4 L447.8,196.0 L446.3,196.0 L446.3,189.1 M446.3,196.0 L444.0,194.7 L440.9,195.1 M446.3,189.1 L450.1,188.0 L453.9,190.4 L459.3,191.7 L461.6,194.0 L462.4,196.2 L464.7,196.5 L466.2,195.8 L469.1,194.1 M469.1,194.1 L473.1,192.8 L475.4,193.2 L481.5,193.2 L483.3,194.5 M469.1,194.1 L470.0,196.0 L472.3,196.9 L469.3,198.0 L468.5,199.1 L473.2,199.2 M464.7,203.7 L464.7,199.2 L468.5,199.1 M483.3,194.5 L480.0,196.5 L476.9,197.6 L473.2,199.2 M473.2,199.2 L475.4,202.8 L474.6,203.2 M436.3,186.8 L434.8,184.3 L432.5,183.3 L432.5,180.4 L434.8,179.4 L437.1,176.3 L441.7,176.7 L444.7,177.8 L448.6,177.4 L452.4,178.0 L454.7,177.0 L453.9,173.3 L455.5,171.2 L460.1,170.3 L466.2,168.4 L469.3,170.5 L473.8,171.8 L478.4,172.6 L480.7,175.3 L483.0,177.8 L488.4,177.4 L491.5,180.0 L494.2,181.0 M494.2,181.0 L491.5,184.9 L487.6,184.9 L486.9,188.1 L483.0,189.1 L484.3,192.5 L483.3,194.5 M494.2,181.0 L496.8,180.2 L501.4,177.8 L506.0,179.4 L510.6,179.4 L511.4,175.3 L516.8,176.5 L518.3,179.0 L524.4,179.4 L530.5,180.6 L535.1,178.8 L539.3,179.8 M495.0,181.2 L499.9,185.3 L499.9,188.7 L506.8,190.6 L508.3,193.4 L516.0,193.8 L521.4,195.4 L529.0,193.4 L532.1,191.4 L532.1,189.1 L536.7,188.3 L539.0,186.2 L544.0,185.8 L541.3,183.3 L537.9,183.3 L539.3,179.8 M539.3,179.8 L543.6,178.8 L545.9,172.6 L550.5,172.6 L553.5,174.3 L555.8,179.0 L560.4,181.6 L561.2,183.9 L566.9,182.5 L565.0,188.1 L561.2,189.1 L561.5,192.5 L560.6,194.0 M560.6,194.0 L558.9,193.8 L556.6,194.7 L557.1,195.6 L554.3,195.2 L550.9,198.3 M553.8,202.3 L555.1,201.4 L557.2,200.9 M525.9,229.6 L524.0,228.8 L521.8,226.7 L519.1,227.9 L517.1,228.2 M517.1,228.2 L516.0,230.1 L515.4,229.6 L513.7,229.6 L512.2,228.8 L511.9,225.6 L509.9,225.6 L511.4,222.4 L511.4,219.4 L509.6,218.7 M509.6,218.7 L506.8,217.4 L503.7,219.1 L501.0,219.4 L496.8,220.2 L496.5,219.2 L495.5,219.2 M501.0,219.4 L501.4,220.9 L498.1,221.2 L496.8,220.2 M495.5,219.2 L492.2,219.1 L489.2,217.7 L486.1,215.4 L484.6,215.4 M484.6,215.4 L483.2,217.7 L486.1,219.4 L489.2,220.0 L492.2,221.4 L495.5,221.7 L495.5,219.2 M484.6,215.4 L481.5,213.7 L481.2,211.5 L482.3,210.6 L481.2,208.4 L479.7,206.3 L476.1,204.0 L474.6,203.7 M465.0,226.1 L465.9,225.1 L469.3,224.8 L467.7,221.5 L468.5,219.1 L471.5,217.4 L473.1,215.7 L474.6,214.0 L474.6,211.5 L473.8,210.6 L473.8,207.7 L478.4,207.2 L479.7,206.3 M495.5,221.7 L495.6,224.0 L496.5,225.1 L496.4,227.2 L496.8,229.2 M495.5,221.7 L496.4,221.9 L498.1,222.4 L498.1,223.5 L501.9,224.0 L501.4,225.1 L500.2,225.6 L500.7,227.2 L501.9,226.1 L502.4,230.0 M509.6,218.7 L507.9,220.2 L506.3,221.5 L505.4,224.0 L504.5,225.8 L503.4,227.2 L503.3,228.5 L502.4,230.0 M502.4,230.0 L501.9,230.9 M515.4,229.6 L513.8,231.4 M513.8,231.4 L510.6,232.5 L509.7,234.4 L511.7,237.9 L510.9,239.6 L512.5,242.3 L512.9,245.2 L511.7,247.4 M513.8,231.4 L514.5,232.8 L515.5,232.8 L515.2,236.0 L516.9,234.9 L519.8,234.7 L521.0,236.2 L521.0,237.9 L522.3,239.2 L521.7,241.0 M517.1,228.2 L518.3,230.8 L520.7,231.2 L519.8,232.8 L521.7,234.4 L524.0,237.1 L525.2,239.9 L525.2,240.7 M521.7,241.0 L525.2,240.7 M525.2,240.7 L525.2,243.8 L522.9,245.1 L522.6,246.2 L520.6,247.1 M521.7,241.0 L518.3,241.0 L517.5,242.3 L518.1,245.1 M513.8,253.1 L515.2,254.2 L516.9,253.6 M528.4,260.0 L529.8,261.7 L532.1,261.0 L535.1,260.8 L536.7,258.8 L537.6,256.7 L540.5,256.7 M535.3,256.0 L536.4,256.7 L537.0,255.6 M576.5,267.1 L576.5,277.1 M550.6,277.5 L552.0,277.2 L552.2,277.9 M357.1,207.0 L357.8,209.8 L358.6,211.8 L355.1,212.9 L352.0,216.1 L347.1,217.9 L347.1,219.6 M347.1,219.6 L340.2,219.6 M347.1,220.2 L347.1,222.4 L342.1,222.4 L342.1,226.4 L340.5,227.2 L340.5,230.0 L334.4,230.0 M347.1,220.2 L353.1,224.0 M353.1,224.0 L350.8,229.6 L351.7,237.6 L352.0,239.2 L346.2,239.2 L344.1,239.3 L342.8,239.0 L341.8,240.3 M341.8,240.3 L339.8,238.2 L337.5,237.3 L335.2,238.4 M341.8,240.3 L343.0,244.0 M343.0,244.0 L339.5,243.7 L337.5,243.7 L334.9,244.2 M339.5,243.7 L339.5,245.1 L337.5,246.2 M334.7,242.1 L339.3,242.3 L334.7,242.9 M343.0,244.0 L346.7,244.0 L348.2,247.4 M340.1,249.3 L343.6,247.7 L344.7,250.0 M344.7,250.0 L342.8,252.5 M344.7,250.0 L346.7,251.9 L347.7,251.4 M347.7,251.4 L349.0,256.4 M347.7,251.4 L348.2,247.4 M348.2,247.4 L351.3,247.0 L352.0,247.1 M352.0,247.1 L356.2,248.2 M356.2,248.2 L355.5,253.1 L356.0,255.3 M352.0,247.1 L353.6,243.8 L357.4,241.2 L360.8,239.9 M356.2,248.2 L356.2,246.2 L360.4,246.0 M360.4,246.0 L361.2,250.0 L362.3,253.7 M361.8,246.2 L362.9,249.3 L363.1,253.6 M360.4,246.0 L361.8,246.2 L364.0,244.3 M364.0,244.3 L361.8,242.3 L360.8,239.9 M364.6,253.3 L364.7,249.3 L366.0,245.1 M364.0,244.3 L366.0,245.1 M366.0,245.1 L366.6,242.3 L371.2,243.1 L374.2,243.4 L378.8,242.8 L381.1,242.0 M360.8,239.9 L365.8,239.3 L366.9,237.1 L366.9,233.3 M366.9,233.3 L365.4,232.5 L362.3,230.3 L353.1,224.0 M366.9,233.3 L369.3,232.8 L378.8,226.4 M378.8,226.4 L376.1,224.6 L374.9,222.0 L375.6,219.4 L375.0,215.4 M375.0,215.4 L374.2,212.3 L372.1,209.8 L373.2,207.7 L373.6,203.9 M375.0,215.4 L376.2,212.9 L378.1,211.7 L378.1,210.3 M378.8,226.4 L383.4,227.2 M383.4,227.2 L397.2,232.8 M397.2,232.8 L397.2,232.0 L398.8,232.0 L398.8,228.8 M398.8,228.8 L398.8,213.0 M398.8,228.8 L417.0,228.8 M383.4,227.2 L384.2,230.4 L384.4,237.1 L381.1,242.0 M397.2,232.8 L397.2,238.8 L394.9,241.5 L394.2,243.5 L395.5,246.2 M381.1,242.0 L382.2,243.8 L383.4,247.7 L381.9,247.7 L384.2,251.6 M382.2,243.8 L380.4,247.7 L378.1,253.0 L374.2,254.7 L373.6,255.9 M384.2,251.6 L388.8,250.8 L392.6,248.5 L395.5,246.2 M384.2,251.6 L382.7,253.9 L383.4,257.0 L385.0,259.7 M375.5,259.6 L380.7,259.7 L385.0,259.7 M375.5,261.6 L377.8,261.6 L377.8,259.6 M380.7,259.7 L382.7,261.0 L382.5,263.9 L382.7,266.6 L379.6,266.6 L377.5,269.1 M385.0,259.7 L385.7,257.7 L389.0,257.7 M389.0,257.7 L387.7,263.1 L385.0,266.9 L384.7,269.2 L382.7,270.6 L380.4,270.2 L379.1,272.0 M389.0,257.7 L389.0,256.4 L394.9,256.8 L399.2,255.3 L402.4,255.3 M395.5,246.2 L396.5,249.6 M396.5,249.6 L398.8,251.4 L402.4,255.3 M396.5,249.6 L398.8,247.3 L403.4,248.7 L406.4,247.7 L409.5,244.6 L411.3,246.5 L412.7,248.5 M412.7,248.5 L413.0,246.5 L414.9,243.8 L416.2,241.0 M416.2,241.0 L417.1,236.8 L419.6,235.2 M416.2,241.0 L420.2,240.6 L423.3,242.3 L425.4,243.8 M425.4,243.8 L424.5,246.2 L426.3,246.2 M426.3,246.2 L426.0,246.5 L427.9,249.3 L432.5,250.8 L434.0,250.8 L429.4,255.4 L424.8,257.0 L424.7,257.1 M424.7,257.1 L421.0,257.7 L418.7,257.6 L415.6,256.4 L415.5,256.0 M415.5,256.0 L414.1,254.7 L412.6,252.4 L411.0,250.8 L412.7,248.5 M424.7,257.1 L423.3,258.5 L423.3,264.3 L424.0,265.7 M415.5,256.0 L412.6,256.7 M412.6,256.7 L413.3,260.8 L412.6,262.6 L412.4,264.6 M412.4,264.6 L418.2,267.9 L420.5,270.3 M407.6,257.7 L408.0,259.6 L406.0,262.0 L405.8,265.2 M402.4,255.3 L405.7,256.2 L407.6,257.7 M407.6,257.7 L409.5,257.6 L412.6,256.7 M407.2,264.6 L412.4,264.6 M405.8,265.2 L404.9,267.2 L405.2,268.5 L405.5,270.0 L405.7,273.1 L407.5,275.8 L404.7,276.2 M405.8,265.2 L407.2,264.6 L407.6,266.8 L407.2,268.2 L406.1,269.8 M404.9,267.2 L407.2,266.8 M407.5,275.8 L410.9,277.5 M410.9,277.5 L412.6,277.7 L413.5,281.0 M413.5,281.0 L417.9,281.1 L422.4,279.2 M404.7,276.2 L404.1,279.2 L405.8,283.8 L402.6,282.0 L399.2,280.5 L397.2,280.0 M397.2,280.0 L394.2,280.0 L394.2,273.8 L391.1,273.8 L390.3,275.4 L387.3,275.4 L385.7,272.2 L380.4,272.2 L379.3,272.5 M397.2,280.0 L397.2,283.1 L394.2,283.1 L394.2,288.1 L396.3,290.3 M378.5,289.7 L381.1,290.0 L388.8,290.0 L392.6,291.0 L396.3,290.3 M392.6,291.0 L392.6,297.4 L391.1,297.4 L391.1,301.9 M396.3,290.3 L399.2,290.7 M391.1,301.9 L391.1,307.8 L386.5,307.3 L385.7,308.1 M391.1,301.9 L393.4,305.2 L395.7,302.7 L399.5,303.4 L401.8,299.9 L405.5,297.7 M405.5,297.7 L402.9,295.0 L399.2,290.7 M399.2,290.7 L401.8,291.0 L404.7,287.8 L407.0,287.2 M407.0,287.2 L406.7,285.9 L411.3,284.7 M411.3,284.7 L411.0,282.4 L411.5,279.7 L410.9,277.5 M411.3,284.7 L413.5,285.5 L415.3,287.8 L414.4,289.6 L413.2,287.0 L413.5,285.5 M407.0,287.2 L411.0,289.4 L410.7,293.4 L410.3,296.2 L408.4,298.0 M405.5,297.7 L408.4,298.0 M408.4,298.0 L409.5,301.4 L409.5,303.7 L410.9,305.2 M401.8,309.8 L404.1,308.1 L405.5,309.5 L404.1,311.3 L402.6,311.2 L401.8,309.8 M408.0,303.8 L409.5,303.8 L409.5,305.8 L408.0,305.8 L408.0,303.8" fill="none" stroke="#111" stroke-width="0.48" stroke-linejoin="round"/>
<path d="M170.4,186.8 L178.1,187.2 L181.2,187.2 M170.1,194.7 L190.4,194.7 M181.2,181.4 L181.2,191.0 L181.2,194.7 M182.7,181.4 L182.7,183.9 L185.0,186.2 L185.8,188.1 L187.3,190.0 L190.4,190.0 M190.4,189.1 L201.1,189.1 M190.4,189.1 L190.4,196.5 M190.4,196.5 L204.1,196.5 M201.1,181.4 L201.1,196.5 M201.1,187.2 L212.6,187.2 M201.1,192.8 L212.6,192.8 M204.1,198.3 L214.4,198.3 M202.6,203.7 L215.5,203.7 M193.4,196.5 L193.4,213.5 M204.1,196.5 L204.1,203.7 M185.8,194.7 L185.8,203.7 M185.8,203.7 L202.6,203.7 M176.6,194.7 L176.6,200.1 L184.8,207.2 M184.8,207.2 L184.7,211.2 M185.8,203.7 L184.8,207.2 M202.6,203.7 L202.6,212.3 M202.6,212.3 L197.2,212.3 M202.6,204.6 L207.2,204.6 L207.2,208.1 L210.3,208.9 L215.6,209.4 M216.4,209.8 L216.4,214.0 L216.7,216.2 M216.4,210.6 L220.7,210.6 M215.5,204.6 L223.0,204.6 M215.5,198.3 L215.5,209.8 M213.6,197.3 L220.2,197.3 M212.6,191.9 L220.7,191.9 M212.6,181.4 L212.6,192.8 L213.6,197.3 L214.4,198.3 M219.5,185.8 L218.2,188.1 L220.7,191.9 L221.0,194.7 L222.2,195.6 L220.4,197.6 L222.2,200.5 L223.8,203.7 L223.0,205.5 L221.8,207.2 L220.7,210.6 L221.0,212.3 L220.2,214.0 L223.0,214.0 L223.0,215.4 M221.6,193.8 L225.9,193.8 M226.4,195.2 L226.4,201.9 M230.5,195.2 L230.5,200.0 M226.4,195.2 L232.6,195.2 M223.8,203.7 L225.6,202.3 L228.7,201.9 L230.5,200.0 L234.0,201.0 L237.1,197.3 M237.1,194.7 L237.1,198.9 M238.2,194.7 L245.1,194.7 M237.1,198.9 L244.4,198.9 M223.3,204.4 L232.2,204.4 L244.1,204.6 M222.1,207.2 L231.3,207.2 M225.1,207.2 L225.0,215.2 M229.7,207.2 L230.2,212.3 L230.2,214.0 M226.2,214.0 L230.2,214.0 L230.2,214.5 L234.8,214.5 L235.6,214.5 M232.8,207.2 L234.8,209.8 L236.3,212.3 M231.3,207.2 L234.3,206.8 L236.3,207.0 L238.3,207.5 L240.2,209.1 M234.0,201.0 L235.6,203.3 L237.4,202.8 L239.4,201.0 L240.9,199.4 L241.4,199.6 M248.1,189.1 L248.1,193.4 L247.8,196.5 M251.6,188.5 L252.0,192.7 M248.1,193.4 L251.6,193.4 M247.8,194.7 L250.4,194.7 M245.1,194.7 L245.5,196.0 L245.2,198.3 L244.8,198.9 M249.4,189.1 L249.4,193.4 M250.4,194.7 L250.4,196.0 M222.5,186.2 L225.6,187.8 L226.1,188.9" fill="none" stroke="#222" stroke-width="0.32" stroke-linejoin="round"/>
<path d="M103.0,144.6 L104.6,144.0 L104.8,142.8 L105.2,141.8 L105.2,141.0 L105.5,139.7 L105.5,138.9 L105.3,137.6 L106.4,137.1 L108.0,137.0 L109.7,137.0 L110.7,135.8 L111.9,134.9 L111.5,133.9 L112.3,133.3 L113.0,132.2 L113.9,131.8 L115.0,132.5 L116.4,132.0 L117.3,131.2 L118.0,130.2 L119.1,130.0 L120.5,129.4 L121.5,129.3 L122.6,129.6 L124.5,129.1 L125.4,129.7 L125.6,131.1 L127.5,130.8 L128.6,131.6 L129.6,130.3 L131.3,130.8 L132.4,131.4 L133.7,131.9 L135.1,131.1 L136.5,130.6 L137.6,131.5 L138.7,132.3 L139.9,131.8 L141.3,132.8 L142.6,132.7 L143.4,132.3 L144.0,133.2 L144.4,134.1 L145.2,134.8 L146.0,135.7 L146.9,135.2 L147.8,134.6 L149.2,135.1 L150.5,135.8 L151.7,135.7 L152.5,135.4 L153.6,135.0 L155.1,134.4 L156.7,133.6 L158.0,134.4 L159.0,134.7 L160.5,133.8 L161.2,132.8 L162.6,131.9 L164.3,131.7 L165.8,132.5 L165.6,133.4 L165.4,134.7 L167.2,135.0 L168.9,134.4 L170.4,134.3 L172.1,134.0 L173.3,132.5 L174.5,132.7 L175.0,133.6 L176.4,132.8 L177.7,133.4 L178.7,133.5 L179.9,133.5 L181.1,133.9 L181.0,135.0 L181.2,136.0 L181.7,136.7 L182.7,137.3 L184.1,137.6 L185.8,137.9 L186.8,137.9 L188.3,138.2 L189.4,138.6 L190.4,138.6 L191.9,138.7 L193.5,138.2 L195.0,136.8 L196.2,138.0 L198.0,137.6 L198.8,138.0 L199.9,138.5 L200.7,139.2 L201.4,140.1 L203.0,140.6 L203.8,140.2 L204.1,138.9 L205.6,139.3 L206.7,138.5 L208.0,138.6 L208.9,138.9 L210.3,138.9 L211.6,138.0 L213.3,137.9 L213.8,136.4 L213.5,135.2 L214.1,134.4 L215.4,133.9 L216.0,133.2 L215.6,131.6 L214.8,130.8 L214.8,129.3 L215.4,128.8 L216.4,128.0 L217.4,129.4 L217.8,130.8 L218.7,131.7 L219.9,132.6 L220.9,132.7 L220.2,134.4 L220.8,135.2 L221.9,135.8 L222.5,137.1 L223.6,138.5 L224.5,139.7 L225.6,139.7 L226.9,139.1 L227.9,139.7 L228.0,138.5 L229.4,137.5 L230.2,135.8 L230.9,134.0 L232.1,133.0 L233.6,133.5 L234.8,133.9 L234.7,135.5 L235.9,137.1 L235.8,138.6 L237.1,139.4 L236.3,140.3 L234.8,141.0 L233.1,141.0 L231.7,141.6 L231.7,142.8 L230.3,142.3 L230.0,143.7 L228.7,143.6 L228.3,145.5 L227.9,146.2 L227.1,147.3 L226.3,148.4 L225.4,148.5 L224.1,148.6 L222.3,148.4 L221.0,149.8 L220.9,150.8 L220.7,152.1 L219.1,152.4 L217.9,153.4 L217.2,155.1 L216.2,156.1 L215.6,156.9 L216.3,158.6 L215.5,159.5 L215.2,160.3 L216.4,161.2 L217.9,161.0 L218.0,162.1 L218.8,162.8 L218.7,164.7 L220.3,164.8 L221.2,164.9 L222.5,164.7 L224.0,164.6 L225.1,165.3 L226.2,166.0 L227.1,166.9 L228.7,167.7 L230.2,168.4 L231.1,168.2 L232.2,168.2 L234.0,168.6 L233.3,169.9 L232.7,171.1 L234.5,171.4 L234.5,173.3 L235.9,173.9 L236.3,175.3 L237.6,175.9 L238.6,176.3 L238.5,175.2 L239.4,174.3 L239.7,172.4 L240.2,171.2 L240.0,169.5 L238.6,169.1 L239.9,167.9 L239.2,166.3 L240.5,165.7 L242.5,165.8 L242.5,164.4 L242.9,163.6 L243.2,162.5 L241.9,162.0 L240.8,161.3 L240.9,160.3 L241.0,158.3 L240.5,157.0 L241.7,155.7 L241.6,154.4 L241.7,153.5 L240.9,152.2 L242.4,151.2 L243.3,150.3 L244.8,150.8 L245.5,152.7 L246.5,153.0 L247.5,154.0 L248.3,155.0 L250.1,154.5 L251.7,155.0 L253.2,155.7 L253.5,157.3 L253.9,159.2 L255.3,160.2 L256.2,161.4 L257.4,161.2 L258.1,160.7 L259.3,160.3 L260.3,158.9 L260.8,158.3 L261.6,157.3 L262.1,158.8 L263.7,159.0 L264.8,160.4 L264.3,161.2 L264.7,162.5 L264.8,163.9 L266.5,164.6 L266.5,165.8 L267.0,166.9 L267.9,168.1 L268.1,169.1 L269.5,169.4 L270.7,169.3 L271.6,169.5 L272.5,170.8 L273.6,170.9 L273.7,172.1 L274.6,173.3 L274.5,174.2 L275.1,175.3 L274.3,175.7 L273.1,176.3 L271.7,177.2 L271.1,178.1 L270.0,178.8 L269.1,177.9 L267.9,177.4 L266.7,177.6 L265.4,179.0 L264.5,178.1 L263.4,177.5 L263.0,179.3 L262.1,179.0 L260.8,179.0 L259.9,179.7 L259.4,180.4 L257.8,180.4 L257.4,181.7 L257.1,182.5 L255.9,182.3 L254.7,182.9 L254.3,184.0 L253.7,185.0 L252.9,185.0 L251.6,185.3 L252.6,184.9 L253.9,184.3 L254.8,183.9 L255.2,182.6 L256.3,181.3 L257.8,181.8 L259.5,181.4 L260.6,181.6 L261.6,181.0 L262.0,182.0 L261.6,183.3 L261.0,184.5 L260.8,185.3 L262.1,186.2 L262.4,187.2 L263.7,187.2 L265.2,187.3 L267.0,187.8 L267.7,186.8 L268.5,185.7 L268.5,187.6 L267.5,188.5 L266.5,189.3 L265.5,189.5 L263.9,189.9 L263.0,189.7 L261.9,190.4 L261.1,190.9 L260.1,191.7 L259.0,190.4 L259.2,189.3 L259.6,188.4 L260.8,188.5 L261.6,188.1 L260.0,189.1 L258.6,188.7 L257.8,189.1 L256.9,188.7 L255.7,189.3 L254.7,191.0 L254.0,192.5 L252.4,192.3 L252.1,193.6 L252.1,194.7 L253.2,195.1 L252.1,195.7 L250.9,195.8 L249.6,196.5 L248.7,195.8 L247.5,196.2 L247.1,197.3 L247.1,198.7 L246.3,199.6 L245.5,200.1 L244.8,201.0 L244.3,202.3 L244.0,203.7 L243.9,204.8 L244.4,206.2 L243.8,207.5 L242.5,207.9 L242.2,208.7 L241.0,209.4 L239.4,210.1 L238.9,211.3 L237.6,211.6 L236.3,212.7 L235.2,213.9 L235.7,215.2 L235.8,217.1 L236.4,217.8 L237.1,219.1 L236.3,220.7 L236.7,221.9 L237.7,222.4 L237.1,223.7 L235.6,222.7 L234.6,221.3 L233.7,219.6 L233.3,218.5 L233.6,217.4 L232.1,217.1 L231.7,215.7 L230.5,215.8 L229.4,216.2 L228.1,215.5 L226.4,215.0 L224.7,215.5 L223.3,215.4 L223.6,217.2 L222.7,216.5 L221.0,216.9 L219.3,216.8 L218.0,215.7 L216.7,216.2 L215.8,216.8 L214.9,217.1 L213.6,216.6 L212.6,217.5 L211.6,218.1 L211.5,219.6 L211.3,221.3 L211.3,222.4 L211.0,224.0 L210.6,225.6 L210.0,227.2 L210.6,228.4 L211.1,229.6 L211.5,231.2 L211.9,232.3 L213.0,233.3 L214.3,234.0 L215.3,234.7 L215.7,234.0 L216.5,233.0 L218.3,232.8 L218.7,234.3 L220.0,233.9 L221.0,233.6 L221.9,232.5 L221.8,230.8 L222.5,230.1 L224.1,229.8 L225.2,229.1 L226.1,229.4 L227.1,229.6 L227.1,231.0 L226.4,232.8 L225.6,233.8 L225.6,234.7 L225.4,235.8 L225.1,237.6 L224.4,238.7 L225.5,237.6 L227.1,238.7 L228.9,238.2 L230.2,238.4 L232.0,238.0 L233.3,238.6 L232.8,239.9 L232.1,241.1 L230.8,241.8 L231.3,242.7 L232.3,243.8 L232.1,244.8 L232.2,246.2 L233.4,247.3 L233.7,248.3 L234.6,248.7 L235.6,249.3 L236.8,249.6 L238.2,248.7 L240.2,248.7 L240.6,249.9 L242.0,249.7 L241.7,251.6 L240.6,250.9 L240.2,250.0 L238.6,249.3 L237.4,250.4 L237.1,251.9 L236.4,250.2 L234.8,250.5 L233.5,250.8 L232.5,250.0 L232.4,249.0 L231.9,248.1 L230.2,247.7 L229.0,246.2 L228.1,245.8 L227.2,244.7 L226.4,243.1 L225.1,242.3 L224.1,242.4 L222.4,241.4 L221.5,241.5 L220.2,241.5 L219.0,241.9 L217.8,241.8 L218.2,240.4 L217.2,239.2 L216.3,238.5 L214.9,238.1 L213.0,238.0 L211.8,238.5 L211.1,237.2 L210.0,237.6 L209.0,237.3 L208.0,237.3 L206.6,236.1 L205.6,235.4 L204.1,235.2 L202.9,234.3 L201.1,233.6 L200.5,231.9 L198.8,231.4 L199.1,229.6 L197.6,228.7 L197.2,226.7 L196.3,226.4 L195.2,225.8 L194.6,225.0 L194.2,223.5 L194.6,221.9 L193.4,222.1 L192.7,221.2 L191.0,220.9 L190.7,220.1 L190.4,219.1 L189.7,217.4 L188.1,216.6 L187.3,215.8 L187.8,214.5 L186.5,213.7 L185.7,213.6 L184.7,212.9 L185.7,214.0 L184.7,215.2 L185.2,216.7 L186.5,217.4 L187.6,218.9 L188.4,219.9 L189.5,221.0 L188.4,222.4 L189.1,223.0 L190.4,223.2 L190.7,224.8 L191.9,225.6 L192.7,227.2 L191.4,226.4 L190.1,226.2 L189.7,225.1 L188.8,224.0 L188.3,222.8 L188.1,221.5 L187.6,220.6 L186.3,220.4 L185.0,219.4 L185.8,217.9 L184.4,217.2 L183.5,215.7 L182.7,214.5 L182.6,213.2 L181.6,212.7 L181.0,211.5 L180.7,210.0 L179.9,209.2 L178.9,208.9 L177.4,208.4 L175.8,208.1 L176.0,206.2 L174.3,206.4 L173.8,204.6 L173.5,203.2 L172.7,202.3 L172.1,201.6 L171.1,200.8 L170.7,199.2 L170.0,197.6 L169.9,195.8 L170.1,194.7 L169.7,192.8 L169.1,191.8 L169.0,190.5 L169.0,188.8 L170.0,188.1 L170.4,187.2 L169.7,185.5 L168.8,184.2 L169.4,182.5 L170.8,182.9 L172.7,182.3 L172.9,183.7 L172.9,184.7 L171.7,183.5 L171.6,182.1 L172.0,181.4 L171.9,180.3 L171.7,179.0 L169.9,179.1 L168.9,178.4 L168.2,177.5 L167.1,177.1 L166.1,176.5 L165.1,176.3 L164.2,174.9 L163.5,173.3 L162.7,171.6 L161.9,171.1 L160.8,170.1 L159.1,169.6 L159.6,168.2 L158.9,167.3 L159.1,165.5 L159.9,164.6 L159.4,163.3 L157.9,163.5 L156.7,163.2 L155.9,162.5 L154.8,161.1 L154.1,160.4 L152.8,160.3 L151.4,160.6 L149.7,161.0 L150.2,159.2 L149.5,158.4 L148.3,158.0 L147.3,159.1 L145.9,158.5 L144.5,158.9 L143.7,159.2 L141.9,159.5 L142.0,158.4 L140.6,157.8 L139.5,157.8 L138.9,156.5 L138.2,155.5 L136.7,156.2 L135.6,156.0 L134.7,156.3 L134.1,157.3 L132.9,158.0 L131.6,159.1 L130.3,159.5 L128.3,159.6 L128.9,158.6 L129.3,157.8 L129.4,156.2 L130.6,155.7 L131.7,157.3 L130.6,158.0 L130.0,158.7 L128.1,158.9 L127.0,158.6 L126.0,159.2 L124.4,159.5 L124.1,160.9 L123.7,162.5 L123.2,163.6 L121.8,163.7 L120.6,164.7 L119.7,166.4 L118.7,166.0 L117.6,166.9 L115.9,167.5 L115.2,168.2 L113.7,168.4 L112.4,169.5 L110.9,169.6 L109.9,169.5 L110.6,169.0 L111.7,168.3 L112.2,166.9 L112.5,165.7 L112.7,164.4 L114.0,163.3 L115.0,163.7 L116.0,163.6 L116.7,162.7 L118.2,162.7 L119.1,161.0 L117.8,161.4 L116.8,161.4 L115.8,160.6 L114.9,160.1 L113.7,160.2 L112.5,161.0 L113.0,159.7 L112.2,158.0 L110.2,158.2 L109.7,157.1 L108.4,156.9 L107.7,155.6 L106.8,153.8 L105.8,153.2 L106.5,151.8 L107.9,151.0 L109.6,150.2 L110.6,151.2 L111.5,150.6 L113.0,149.8 L113.5,148.8 L113.7,147.3 L113.1,148.3 L111.9,148.6 L110.7,147.3 L109.1,147.5 L107.9,147.9 L107.0,147.0 L106.1,147.1 L105.4,146.4 L104.9,145.3Z M242.0,249.7 L242.8,250.8 L243.9,249.3 L243.7,248.1 L244.8,247.0 L245.8,246.2 L246.9,245.4 L248.6,245.4 L249.2,244.6 L250.6,244.0 L251.2,245.4 L250.7,247.0 L252.2,246.9 L253.2,245.4 L253.2,244.3 L254.0,245.4 L255.5,246.2 L255.9,247.1 L257.2,247.8 L258.4,247.5 L259.3,246.8 L260.9,247.2 L262.4,247.0 L264.1,247.0 L265.4,246.6 L265.4,248.0 L266.4,248.9 L267.3,250.0 L268.8,251.2 L270.0,251.1 L271.5,251.8 L272.3,253.4 L274.2,253.4 L275.3,254.0 L276.2,253.9 L277.2,254.1 L278.5,254.5 L280.0,255.5 L281.2,256.2 L281.8,257.6 L282.3,258.5 L282.9,259.6 L283.8,260.5 L284.3,262.0 L283.8,263.1 L284.9,263.5 L286.1,263.9 L287.3,264.1 L288.4,264.2 L289.5,264.8 L290.3,265.5 L291.3,265.6 L292.3,266.2 L293.3,266.5 L294.6,266.9 L296.1,267.5 L297.6,267.5 L299.2,267.9 L300.7,268.5 L301.3,269.0 L302.0,270.0 L303.4,270.5 L305.1,271.5 L306.4,271.1 L306.8,272.1 L307.1,273.8 L307.0,275.1 L308.0,275.8 L306.8,276.9 L305.7,276.9 L305.0,278.0 L304.5,279.6 L303.4,280.2 L303.0,281.6 L302.8,282.7 L301.5,283.1 L301.7,284.6 L300.7,286.3 L300.1,288.1 L300.3,289.0 L300.7,290.2 L300.5,291.3 L299.0,291.7 L299.6,293.4 L299.4,294.8 L298.2,295.5 L297.9,296.6 L296.8,297.3 L296.4,298.6 L295.3,299.0 L294.3,299.0 L292.6,299.0 L291.5,300.1 L290.2,301.2 L288.4,301.7 L287.6,303.0 L286.1,303.5 L286.5,304.7 L285.8,306.3 L286.0,307.3 L285.4,308.5 L284.1,310.0 L283.4,311.3 L283.1,312.6 L281.5,313.5 L280.6,314.4 L280.0,315.6 L279.1,316.3 L278.5,317.3 L277.9,318.4 L276.2,318.8 L275.0,318.3 L273.1,318.1 L272.2,317.1 L271.0,317.3 L271.6,319.0 L272.8,319.9 L273.6,321.6 L272.2,322.6 L272.0,324.3 L270.2,324.7 L268.9,325.0 L268.5,325.9 L267.5,325.3 L266.6,325.1 L265.4,326.1 L265.5,327.8 L265.0,328.8 L263.5,328.6 L263.1,330.0 L262.1,330.2 L260.8,329.7 L260.7,331.0 L260.8,332.1 L261.8,332.2 L262.8,332.4 L261.3,333.0 L260.8,334.3 L259.5,335.3 L260.1,337.1 L258.7,337.1 L258.0,337.7 L257.0,339.0 L258.0,340.0 L259.3,341.5 L259.3,342.9 L257.7,343.5 L257.3,344.2 L257.0,345.4 L256.0,345.9 L255.4,346.6 L254.7,347.8 L255.6,348.5 L255.4,349.9 L255.5,351.5 L254.4,351.9 L253.2,352.1 L252.9,354.0 L251.6,354.6 L251.1,353.8 L249.7,353.9 L248.6,352.9 L247.5,352.0 L246.3,350.9 L246.8,349.3 L245.4,348.6 L245.1,346.8 L245.0,345.0 L244.4,344.1 L244.8,342.9 L245.7,342.6 L246.6,341.8 L246.3,340.0 L244.8,339.0 L245.9,338.2 L247.0,337.6 L247.1,336.5 L247.1,335.2 L247.7,333.7 L247.7,332.3 L248.6,331.5 L248.0,330.3 L247.4,329.7 L247.7,328.6 L247.8,327.0 L248.9,325.4 L248.4,324.6 L247.8,323.0 L248.6,321.7 L249.0,319.9 L248.9,318.0 L249.4,317.1 L250.6,316.4 L250.4,315.0 L250.3,314.1 L250.7,313.3 L250.9,312.2 L251.2,310.4 L251.0,308.8 L250.9,307.8 L251.6,306.9 L251.8,305.5 L251.5,304.1 L251.5,303.1 L252.4,302.2 L252.0,301.0 L251.1,300.4 L251.8,299.8 L252.6,299.0 L252.6,297.3 L252.9,295.8 L252.8,293.8 L252.9,292.7 L252.7,291.8 L251.4,291.9 L251.2,290.2 L249.5,289.9 L248.5,289.5 L247.8,288.3 L246.2,287.8 L245.2,286.7 L244.4,285.4 L243.5,284.7 L243.4,283.1 L242.1,281.6 L242.4,279.9 L241.1,279.5 L240.6,278.5 L240.7,277.2 L239.4,275.7 L238.1,275.0 L238.0,273.5 L236.7,273.1 L236.0,272.3 L236.1,271.4 L235.9,270.0 L236.8,269.5 L237.4,268.3 L238.0,266.9 L236.5,266.5 L236.6,264.6 L237.7,263.1 L237.9,261.9 L239.5,261.1 L240.2,259.3 L241.7,259.0 L241.9,257.9 L242.0,257.0 L242.2,255.7 L241.7,254.7 L241.8,252.8 L241.1,252.0 L241.7,251.6Z M351.4,205.8 L352.3,204.7 L353.6,205.0 L354.5,206.2 L355.9,206.7 L357.0,205.4 L358.1,204.9 L358.9,206.0 L359.8,205.9 L360.9,205.6 L362.0,204.6 L363.9,205.2 L365.0,204.0 L366.5,203.7 L368.1,204.0 L369.8,204.1 L370.8,203.5 L372.7,203.7 L374.3,203.1 L375.8,203.2 L377.3,203.7 L376.5,205.5 L377.3,207.2 L375.8,208.4 L377.1,208.8 L377.3,209.8 L378.3,210.7 L379.6,210.8 L380.8,210.5 L382.1,210.3 L383.4,211.7 L384.6,212.1 L385.0,213.5 L386.4,213.9 L388.0,214.9 L389.4,214.9 L390.3,215.0 L390.8,214.4 L391.1,213.2 L391.9,211.5 L393.3,211.1 L394.2,210.8 L395.2,211.4 L396.5,211.8 L397.3,212.4 L398.8,213.0 L400.5,212.7 L401.8,213.5 L403.6,213.1 L404.9,214.0 L405.7,213.3 L407.2,213.2 L408.8,213.2 L409.9,213.7 L410.0,214.9 L410.3,215.7 L410.6,217.2 L410.6,218.2 L411.1,219.3 L411.8,219.9 L412.6,221.2 L412.1,222.3 L413.3,223.2 L414.0,224.7 L414.9,225.6 L415.2,227.2 L415.9,228.3 L417.0,228.8 L417.8,229.8 L417.5,231.2 L416.8,232.7 L416.9,233.6 L417.9,234.4 L419.4,235.2 L420.1,236.6 L420.7,238.4 L421.4,239.2 L422.5,240.3 L423.6,241.1 L424.8,242.3 L425.9,242.7 L426.6,243.8 L426.8,245.4 L428.5,245.6 L428.6,247.0 L430.3,246.7 L431.7,246.5 L433.0,245.5 L434.4,245.9 L435.5,245.7 L437.0,245.1 L438.9,244.9 L439.3,245.9 L438.6,247.1 L437.4,247.4 L436.5,248.8 L436.5,249.6 L437.1,250.8 L436.7,251.8 L435.1,252.2 L435.5,253.9 L434.6,255.2 L434.0,256.2 L433.6,257.3 L433.3,258.1 L432.1,258.2 L430.9,259.3 L429.7,260.4 L428.8,261.2 L427.9,261.6 L427.1,262.1 L426.2,263.2 L425.9,264.4 L424.8,264.6 L424.2,265.6 L423.3,266.2 L422.2,267.0 L421.7,268.5 L420.3,269.4 L420.7,270.8 L419.9,271.5 L419.9,273.1 L420.5,274.0 L421.0,275.4 L420.2,276.0 L419.7,276.9 L420.5,277.6 L421.0,278.5 L421.7,279.3 L422.5,280.0 L423.6,281.7 L422.5,283.1 L422.8,284.6 L422.7,286.3 L421.7,287.1 L420.9,287.8 L420.2,289.4 L418.9,290.5 L417.1,291.0 L416.4,292.0 L415.6,292.6 L414.8,293.4 L413.8,294.2 L414.2,296.1 L414.5,297.4 L414.3,298.9 L414.9,300.6 L414.0,301.3 L412.6,301.7 L412.1,302.4 L411.0,303.0 L410.4,304.0 L410.7,305.5 L409.8,306.7 L409.9,308.5 L409.1,308.4 L407.9,308.7 L408.0,310.5 L406.9,312.0 L406.0,312.8 L405.7,313.5 L405.5,314.5 L405.0,315.7 L404.0,316.0 L402.6,316.1 L401.0,316.1 L399.8,317.3 L398.5,317.8 L397.5,317.1 L395.7,317.3 L394.9,317.9 L393.4,318.0 L392.2,318.6 L391.1,318.7 L389.4,318.6 L388.6,317.6 L388.8,316.0 L388.3,314.7 L388.0,313.0 L387.3,311.3 L387.0,310.0 L387.4,309.0 L385.7,308.1 L384.5,308.1 L383.7,307.4 L383.7,305.5 L382.8,304.5 L383.4,302.8 L383.4,301.5 L382.7,300.6 L382.7,298.9 L382.7,297.4 L382.4,295.4 L381.3,295.1 L380.8,294.2 L380.0,293.4 L380.0,291.9 L378.5,291.0 L377.6,289.5 L378.5,287.8 L379.2,286.3 L379.6,284.7 L380.4,283.5 L381.1,282.4 L381.6,281.1 L381.4,279.2 L379.9,278.3 L380.7,276.6 L379.7,276.0 L379.2,275.2 L378.6,273.8 L379.3,272.5 L378.8,270.8 L377.6,270.4 L377.3,269.2 L376.5,267.8 L375.0,266.9 L374.3,265.6 L373.9,264.3 L374.5,263.4 L375.0,262.3 L375.0,260.4 L375.5,259.3 L375.6,258.1 L375.0,257.0 L373.5,256.0 L372.5,256.1 L371.5,256.4 L369.6,256.5 L368.6,255.9 L368.1,254.2 L366.6,253.3 L365.3,253.1 L364.3,253.4 L363.2,253.7 L362.0,253.9 L360.1,254.1 L358.9,255.1 L357.6,255.7 L356.6,255.6 L355.3,255.4 L354.3,255.1 L352.9,255.3 L351.3,255.7 L349.9,255.9 L349.0,256.4 L347.5,256.1 L346.7,255.3 L345.9,254.6 L344.7,254.5 L344.0,253.7 L343.6,252.8 L342.4,251.9 L341.3,251.6 L340.3,250.8 L340.1,249.3 L339.7,247.6 L338.2,247.0 L337.9,245.8 L336.7,245.4 L335.6,244.6 L334.9,244.0 L334.7,242.3 L334.6,241.3 L333.6,240.4 L334.4,239.4 L335.2,238.4 L335.4,236.6 L335.5,235.2 L335.5,234.2 L335.5,232.8 L335.3,231.5 L334.4,230.4 L334.3,229.1 L335.2,228.0 L335.1,226.9 L335.9,225.9 L336.9,224.8 L337.5,224.0 L337.8,222.8 L338.2,222.0 L339.5,220.6 L340.2,219.6 L341.2,218.9 L342.1,218.7 L343.6,217.7 L344.8,216.6 L345.6,214.9 L345.4,213.2 L346.2,212.0 L346.7,211.2 L347.9,210.2 L349.0,209.4 L349.7,209.0 L350.5,208.1 L351.0,207.1Z M346.7,203.7 L345.9,202.5 L346.2,200.7 L346.3,199.2 L346.8,198.2 L347.0,196.5 L346.9,194.6 L346.4,192.8 L347.1,191.5 L348.2,191.5 L349.7,191.5 L350.8,192.1 L351.8,192.0 L352.8,191.9 L354.2,191.4 L355.5,191.0 L356.2,191.7 L357.4,192.1 L358.4,191.3 L358.5,190.0 L358.8,188.9 L358.6,187.2 L357.0,186.4 L356.6,184.7 L356.0,184.1 L354.6,183.9 L353.2,183.3 L353.2,182.3 L354.5,181.5 L355.9,181.8 L357.0,182.1 L358.0,182.0 L357.8,180.0 L359.3,179.7 L360.8,180.4 L362.3,180.0 L362.7,179.0 L363.8,178.2 L364.3,177.2 L365.8,176.5 L365.9,175.6 L367.0,174.9 L368.1,173.3 L369.6,172.4 L370.9,171.6 L371.9,171.8 L373.5,171.6 L374.1,170.7 L373.8,169.5 L373.0,168.0 L372.9,166.4 L373.0,164.7 L374.3,165.1 L375.0,164.3 L376.0,163.8 L376.7,163.2 L376.2,164.4 L376.2,165.8 L376.9,166.8 L377.0,168.0 L375.8,169.1 L375.8,170.1 L377.3,171.2 L378.5,170.8 L379.6,170.3 L380.8,170.4 L381.9,171.2 L383.2,169.8 L385.0,170.5 L386.6,169.7 L387.9,169.3 L388.8,169.7 L390.3,170.3 L391.1,169.3 L392.6,168.4 L393.1,167.0 L392.6,165.2 L393.5,163.6 L394.9,163.2 L395.3,164.4 L396.5,164.7 L397.8,164.1 L397.7,162.8 L397.7,161.9 L397.0,161.0 L396.5,159.8 L397.8,159.8 L398.8,159.2 L400.1,159.0 L401.2,159.1 L402.5,158.9 L403.4,158.9 L404.9,158.6 L406.7,158.2 L406.0,157.3 L404.1,156.9 L403.1,155.8 L402.0,155.4 L401.8,157.0 L400.3,157.1 L399.5,158.4 L398.1,158.7 L396.8,158.3 L395.7,158.2 L395.0,156.9 L393.4,156.9 L393.5,155.1 L393.1,153.8 L393.3,152.7 L393.1,151.0 L394.6,150.5 L394.9,149.3 L395.7,148.2 L396.0,147.3 L396.7,146.2 L398.3,146.1 L399.4,144.8 L398.3,144.8 L397.2,144.1 L395.7,144.1 L394.2,144.6 L393.4,146.0 L393.1,147.3 L392.1,148.6 L391.1,149.8 L389.3,149.9 L388.1,150.8 L388.0,152.2 L387.5,153.6 L387.0,154.5 L386.9,155.6 L387.0,156.9 L387.6,158.4 L389.1,158.0 L389.2,159.3 L388.3,160.3 L387.0,160.3 L386.0,161.4 L385.5,162.3 L385.7,163.6 L385.4,164.8 L385.0,166.5 L383.7,166.7 L382.7,166.9 L382.2,168.2 L380.4,168.2 L379.9,166.5 L379.6,165.2 L378.5,163.6 L378.9,162.6 L377.9,161.7 L377.6,160.3 L376.5,159.2 L375.8,159.8 L375.0,160.7 L373.7,161.6 L372.7,162.3 L370.9,162.5 L369.8,161.4 L368.9,160.7 L369.0,159.1 L368.1,158.0 L367.2,156.6 L367.6,155.5 L368.1,154.5 L368.2,153.2 L368.9,152.7 L370.4,152.6 L371.2,151.0 L372.0,150.4 L373.5,149.8 L374.1,148.8 L375.8,148.6 L376.0,146.9 L376.9,146.5 L378.1,146.1 L378.7,144.4 L379.6,143.6 L380.8,142.6 L381.1,141.0 L382.5,139.8 L383.4,138.4 L384.1,137.3 L385.0,136.3 L386.1,135.0 L387.3,134.4 L388.1,133.4 L389.6,133.0 L390.5,132.6 L391.2,131.8 L392.6,131.1 L393.4,132.2 L395.0,131.4 L396.5,130.8 L397.7,130.9 L398.6,130.5 L399.8,130.0 L401.7,129.6 L403.4,130.3 L404.9,130.5 L405.9,132.1 L406.9,132.4 L408.0,132.2 L407.3,133.3 L406.4,133.9 L407.8,134.2 L408.6,135.6 L409.5,135.2 L411.0,134.7 L412.3,135.5 L413.3,135.9 L414.6,135.4 L415.6,135.2 L416.8,135.9 L417.7,136.1 L419.2,137.2 L418.9,138.6 L420.5,139.5 L421.7,139.4 L422.5,138.9 L422.8,140.0 L423.3,141.5 L423.3,142.9 L421.7,143.1 L420.2,143.5 L418.7,143.3 L417.7,143.5 L416.4,143.7 L414.7,143.7 L414.1,142.0 L412.9,141.6 L411.0,141.8 L411.9,142.8 L413.0,142.4 L413.8,143.5 L413.3,144.8 L413.8,146.0 L413.8,147.3 L415.3,147.7 L416.2,148.1 L417.1,148.8 L417.7,147.8 L418.7,147.3 L420.1,146.7 L421.7,146.8 L422.0,145.7 L422.5,144.1 L423.8,142.8 L424.8,142.3 L426.4,142.9 L427.9,143.1 L428.4,141.2 L427.9,139.7 L428.5,138.5 L427.9,137.1 L429.4,137.9 L430.9,138.4 L431.4,140.3 L431.7,141.5 L432.5,139.7 L434.0,139.5 L434.8,138.1 L436.1,138.6 L437.8,138.5 L438.6,137.4 L439.6,137.7 L441.2,138.3 L442.1,138.2 L443.2,137.9 L445.1,137.8 L446.6,137.7 L447.8,136.8 L449.4,136.8 L450.0,135.9 L451.6,136.3 L453.0,135.2 L453.9,133.6 L454.8,134.2 L455.6,134.8 L457.1,135.7 L458.5,134.9 L460.0,135.1 L461.6,135.8 L461.4,137.3 L462.6,137.5 L463.5,137.9 L464.7,137.6 L465.4,136.9 L466.2,136.0 L465.3,135.5 L465.0,133.9 L463.1,134.1 L462.2,132.9 L462.7,132.0 L462.8,130.3 L464.3,130.1 L464.7,129.1 L464.8,127.4 L465.4,126.0 L467.1,125.8 L467.7,124.6 L469.3,124.6 L470.1,125.3 L471.5,125.4 L471.1,126.4 L471.2,127.8 L470.6,129.3 L471.5,130.3 L471.3,131.2 L471.6,132.6 L472.0,134.5 L472.0,135.8 L471.7,136.9 L471.0,138.0 L470.8,139.7 L469.6,140.1 L468.7,139.7 L468.7,141.2 L467.7,142.3 L469.1,143.5 L470.8,142.8 L471.7,142.5 L472.7,141.4 L473.1,140.4 L473.8,139.7 L473.6,138.8 L473.7,137.7 L473.8,136.3 L473.7,134.8 L473.1,133.0 L473.7,131.4 L473.6,129.7 L474.3,128.7 L474.6,127.4 L475.9,127.8 L477.4,126.7 L479.2,126.6 L481.0,126.3 L482.1,126.8 L483.0,127.4 L484.2,128.3 L486.1,128.3 L486.1,127.4 L486.7,126.2 L487.4,124.8 L486.7,123.7 L486.7,122.7 L485.4,121.5 L483.8,123.1 L485.0,123.0 L486.8,122.3 L488.2,121.9 L489.2,122.2 L490.6,121.2 L491.3,120.3 L492.8,120.2 L493.8,118.6 L494.7,117.4 L496.5,117.9 L498.2,118.1 L499.3,117.5 L499.9,116.4 L501.1,116.7 L501.8,117.3 L503.4,116.4 L505.0,115.6 L506.3,114.7 L507.6,115.1 L509.2,115.0 L510.2,115.7 L511.5,116.9 L512.9,115.8 L513.3,114.9 L513.7,113.9 L515.0,113.7 L516.2,113.0 L517.5,111.5 L519.2,111.2 L520.3,110.0 L521.4,110.1 L522.5,110.2 L523.5,111.2 L524.4,112.9 L526.0,111.8 L527.0,110.9 L528.1,110.9 L528.3,112.7 L529.6,112.1 L530.5,113.2 L531.6,113.3 L533.2,113.7 L533.9,115.2 L534.4,116.1 L533.1,116.6 L531.6,117.3 L530.7,118.8 L529.8,119.8 L529.0,120.7 L530.6,121.6 L532.1,122.2 L533.0,121.6 L534.6,120.9 L535.8,121.8 L536.7,122.5 L538.0,122.2 L539.3,122.8 L540.7,123.4 L541.6,124.2 L542.8,124.3 L544.6,123.3 L545.6,123.7 L546.6,124.8 L548.3,124.2 L548.9,123.1 L550.6,122.2 L551.9,122.6 L553.8,122.8 L555.1,123.1 L555.8,123.7 L557.0,124.0 L558.1,125.1 L557.6,127.0 L557.0,128.2 L558.5,129.5 L559.7,130.3 L560.9,129.8 L561.5,129.1 L562.4,128.6 L563.5,128.3 L564.4,128.6 L565.6,128.0 L567.3,128.9 L568.2,128.8 L569.5,128.7 L571.0,129.0 L571.9,128.9 L573.0,127.3 L572.3,126.0 L573.3,125.2 L575.0,126.0 L576.2,126.5 L577.4,125.6 L578.6,126.0 L579.6,125.4 L580.6,124.4 L581.8,125.3 L582.6,126.4 L584.2,126.6 L585.7,126.6 L587.1,127.1 L588.2,127.3 L589.3,127.5 L590.3,128.6 L591.7,129.8 L593.4,130.6 L594.6,130.4 L595.9,130.9 L597.6,131.0 L598.1,130.0 L599.5,130.3 L601.4,130.4 L603.0,131.1 L604.7,131.9 L605.6,133.0 L606.7,133.3 L607.2,134.4 L608.2,134.1 L609.4,133.8 L610.6,134.1 L611.8,133.9 L613.1,133.7 L614.6,133.6 L616.6,133.6 L617.9,133.6 L618.7,134.2 L619.9,134.3 L620.9,133.6 L621.7,133.0 L621.2,134.2 L622.5,135.2 L623.8,134.8 L624.8,135.4 L625.7,135.4 L627.1,134.9 L628.5,134.9 L628.6,133.6 L629.7,134.0 L630.7,133.7 L631.7,134.9 L633.2,134.9 L634.4,134.5 L635.4,134.2 L636.7,134.4 L637.0,135.8 L638.1,137.8 L639.9,137.6 L639.0,139.5 L638.2,141.3 L637.5,142.3 L636.5,143.2 L636.4,144.6 L637.0,145.6 L636.3,146.9 L634.7,147.3 L633.5,147.8 L632.5,146.8 L633.2,147.7 L633.1,148.9 L634.0,149.7 L634.7,151.0 L635.5,152.7 L634.3,152.7 L633.4,151.9 L631.7,152.2 L630.6,152.4 L629.8,153.1 L628.1,152.4 L627.1,153.8 L625.2,154.0 L624.1,154.7 L624.0,155.7 L624.0,157.7 L622.9,157.8 L621.7,158.0 L620.6,158.9 L619.6,157.8 L617.8,157.5 L616.4,157.3 L615.2,157.2 L614.1,157.0 L613.5,158.0 L612.5,158.5 L611.2,159.8 L610.7,161.4 L609.5,163.0 L609.1,164.3 L610.2,165.4 L610.3,166.3 L609.8,167.4 L608.7,169.1 L607.0,169.0 L606.6,170.6 L606.9,172.0 L605.6,172.8 L604.9,174.3 L603.3,173.7 L603.4,175.2 L603.7,176.6 L602.4,177.3 L600.6,177.4 L599.9,176.3 L600.4,174.7 L599.5,173.3 L598.0,172.1 L598.5,170.9 L598.7,169.1 L598.8,167.9 L598.5,166.5 L599.0,164.7 L599.8,163.4 L601.0,162.5 L601.7,161.5 L602.6,161.1 L603.8,159.6 L604.9,159.2 L606.1,158.9 L607.0,158.5 L607.9,156.9 L608.5,156.1 L609.3,155.3 L609.8,153.7 L611.0,153.4 L610.2,154.1 L609.1,154.3 L607.6,154.2 L606.4,153.8 L605.0,153.4 L603.5,152.8 L602.2,153.0 L601.0,154.5 L599.9,154.4 L598.4,155.1 L597.6,155.9 L597.0,156.8 L597.2,158.5 L595.9,159.4 L594.6,160.3 L593.4,160.3 L592.6,159.5 L591.6,158.5 L589.8,158.6 L588.8,159.2 L587.3,159.1 L586.0,160.1 L585.1,159.4 L583.4,159.6 L582.2,160.4 L580.6,160.5 L578.8,159.8 L577.9,160.7 L577.6,161.5 L576.3,162.7 L575.0,163.0 L573.9,163.3 L573.2,164.1 L573.1,165.6 L572.3,166.3 L571.2,166.9 L569.7,167.3 L569.1,168.2 L567.6,169.5 L569.3,170.5 L571.2,171.2 L572.3,171.3 L573.5,172.2 L574.8,173.4 L575.8,174.2 L576.8,173.3 L576.1,174.8 L576.5,176.3 L575.7,177.6 L575.8,179.4 L575.1,181.0 L575.0,182.9 L574.3,183.8 L573.5,184.7 L572.7,186.2 L571.3,187.2 L570.4,187.8 L570.4,189.1 L568.8,190.2 L568.2,191.0 L567.3,191.9 L566.1,192.8 L564.3,193.2 L562.4,192.7 L561.2,193.3 L560.7,194.1 L559.5,195.3 L559.2,196.5 L557.5,197.3 L556.6,198.3 L555.8,199.2 L556.4,200.5 L557.4,201.0 L557.7,202.5 L558.7,203.7 L558.8,205.3 L558.7,206.3 L558.1,207.2 L557.0,207.4 L555.8,207.7 L554.1,208.1 L554.8,207.0 L554.3,205.5 L554.8,203.7 L553.5,202.3 L552.0,201.9 L552.2,200.4 L552.5,199.2 L550.9,198.3 L549.7,198.1 L548.3,197.8 L547.3,198.5 L547.4,200.1 L546.3,200.1 L547.4,198.7 L547.4,197.4 L545.9,196.7 L544.4,197.3 L543.6,198.7 L542.5,199.2 L541.3,200.0 L540.8,201.4 L542.2,201.8 L542.8,202.8 L544.0,202.4 L545.1,202.3 L546.2,203.2 L547.0,203.4 L548.2,203.2 L547.1,204.3 L545.9,204.6 L545.3,205.8 L543.6,206.7 L544.1,207.7 L544.3,208.9 L544.6,210.3 L545.9,211.5 L546.3,212.5 L547.1,213.5 L546.6,215.4 L547.4,216.6 L547.2,217.4 L546.6,218.6 L546.2,219.8 L545.1,220.7 L544.0,222.1 L543.6,223.2 L543.3,224.8 L542.0,224.8 L541.1,225.5 L539.7,226.4 L538.4,227.0 L537.4,227.7 L536.3,228.3 L535.1,228.4 L533.8,228.4 L532.8,229.2 L531.4,229.6 L530.2,230.0 L529.0,231.4 L528.7,229.6 L527.9,228.7 L526.7,229.3 L525.4,229.8 L524.4,230.4 L523.3,231.7 L522.9,232.8 L522.9,234.4 L523.8,235.7 L524.4,236.8 L525.4,237.4 L526.7,238.7 L527.0,240.3 L527.1,241.4 L527.9,242.3 L528.2,243.4 L527.8,245.1 L526.2,245.2 L526.1,246.5 L525.2,247.0 L523.7,248.0 L522.9,249.1 L521.4,249.7 L521.1,248.8 L521.0,247.7 L520.1,247.7 L519.1,246.6 L518.2,245.4 L517.5,244.6 L516.4,244.6 L515.2,243.5 L514.5,242.3 L513.7,243.8 L513.4,245.2 L512.9,246.2 L512.9,247.3 L512.6,248.8 L513.2,249.7 L514.1,250.8 L515.0,251.8 L515.2,252.7 L516.0,253.7 L517.1,253.6 L517.4,255.1 L518.7,256.2 L518.7,257.7 L519.1,258.8 L519.8,259.5 L520.1,261.0 L518.9,261.0 L517.5,260.4 L516.3,260.9 L516.4,259.8 L516.0,259.0 L514.6,258.0 L514.5,256.2 L514.2,255.3 L514.1,253.9 L512.7,253.1 L512.2,251.6 L511.1,250.0 L511.8,248.7 L511.4,247.7 L512.3,246.6 L512.1,245.5 L511.7,244.6 L510.7,243.2 L510.6,241.5 L509.7,240.7 L509.5,239.2 L509.9,237.6 L509.0,237.9 L507.6,237.6 L506.4,237.6 L505.3,238.4 L505.8,236.9 L505.0,235.2 L505.0,233.4 L503.7,232.4 L502.8,231.1 L502.5,230.1 L501.4,229.6 L500.3,228.8 L499.9,228.0 L498.4,228.8 L496.9,228.8 L496.1,229.3 L495.2,230.0 L493.8,230.0 L493.5,231.2 L493.0,232.0 L491.8,232.4 L490.7,232.8 L489.8,234.4 L488.4,235.2 L488.0,236.3 L488.0,237.2 L486.1,237.6 L485.1,238.4 L483.3,239.2 L482.8,240.5 L483.3,242.3 L483.2,243.5 L482.7,245.4 L482.3,247.3 L481.2,248.2 L480.7,249.3 L479.8,249.7 L479.2,250.7 L478.6,249.8 L477.7,249.3 L477.1,247.4 L476.9,246.6 L476.1,245.4 L475.6,244.4 L475.4,243.5 L474.9,242.3 L474.1,241.2 L473.4,240.0 L473.1,238.4 L473.6,237.5 L473.1,236.0 L472.1,234.7 L472.2,233.6 L471.7,232.6 L471.3,231.8 L471.9,230.4 L471.2,229.2 L470.2,229.5 L469.3,230.8 L468.2,229.7 L466.8,229.9 L466.2,228.5 L466.5,227.6 L467.7,227.2 L465.7,227.4 L465.0,226.1 L464.3,225.2 L463.1,224.3 L461.9,224.4 L460.7,225.3 L460.7,224.0 L459.3,223.5 L458.1,224.2 L457.2,224.4 L456.3,223.5 L454.7,223.7 L453.5,223.7 L452.7,223.2 L450.9,223.3 L449.0,224.0 L448.3,222.7 L447.6,221.8 L447.5,220.7 L445.9,221.0 L444.0,221.4 L442.8,219.8 L440.9,219.9 L440.2,218.8 L438.6,218.2 L438.1,216.9 L437.1,215.7 L436.3,215.6 L435.1,215.2 L434.0,216.6 L434.2,217.9 L435.1,219.1 L435.2,220.5 L436.1,221.3 L437.1,221.2 L437.8,222.0 L437.5,223.2 L438.6,222.4 L439.4,224.0 L439.8,225.3 L441.3,224.9 L443.2,225.3 L444.2,223.6 L445.0,222.9 L446.3,223.2 L446.7,221.9 L446.6,223.3 L447.0,224.3 L447.6,225.2 L448.7,225.7 L450.1,226.3 L451.3,227.0 L452.1,228.0 L451.1,229.1 L451.7,230.4 L450.4,231.2 L449.2,232.5 L448.9,233.6 L447.1,233.7 L447.0,235.2 L445.9,236.2 L444.7,236.8 L443.5,236.3 L442.2,236.4 L442.3,237.6 L440.9,237.9 L440.2,239.0 L439.4,239.7 L438.0,239.4 L437.1,239.9 L435.7,240.2 L434.5,240.4 L434.0,241.5 L432.6,242.5 L431.4,243.2 L430.2,243.1 L428.8,244.1 L427.1,243.5 L426.5,242.3 L426.0,240.7 L426.4,239.4 L425.6,237.6 L425.8,236.6 L425.6,235.1 L424.6,235.1 L423.3,234.4 L422.1,232.8 L421.0,231.2 L421.3,229.4 L420.2,228.0 L418.9,226.8 L418.3,225.9 L417.9,224.8 L417.9,223.9 L417.3,222.7 L416.7,221.8 L415.6,221.5 L414.3,220.5 L414.1,219.1 L415.0,217.6 L413.8,216.7 L412.3,217.9 L413.0,219.4 L411.5,218.2 L411.3,217.2 L410.4,215.9 L409.9,215.0 L410.1,213.7 L411.7,212.7 L412.9,213.5 L413.0,212.3 L414.1,211.0 L415.1,209.5 L415.2,208.1 L415.5,207.0 L415.6,205.8 L415.6,204.0 L414.8,204.4 L413.3,204.2 L412.4,204.9 L411.0,205.3 L409.6,205.2 L408.6,205.9 L407.2,205.3 L407.5,204.0 L406.1,205.0 L404.9,204.9 L403.9,204.4 L402.6,203.7 L401.7,202.3 L401.8,201.0 L401.1,199.6 L400.8,198.3 L402.6,197.6 L403.8,197.6 L404.9,197.4 L405.0,196.3 L406.7,195.8 L408.7,196.0 L409.6,195.8 L410.8,196.2 L411.8,194.7 L413.0,195.2 L414.1,194.7 L415.2,195.8 L416.4,196.0 L417.5,197.0 L418.3,196.5 L419.4,196.5 L420.8,195.4 L421.5,196.2 L422.5,196.5 L423.3,196.2 L424.2,195.4 L424.0,194.3 L423.7,193.4 L422.3,193.1 L421.0,191.7 L420.4,190.8 L419.2,190.8 L417.9,189.7 L417.1,188.5 L418.7,187.9 L418.7,186.2 L419.9,185.9 L420.5,185.1 L419.6,186.3 L417.9,185.3 L416.4,185.3 L414.9,186.2 L414.1,188.0 L415.3,188.7 L416.4,188.5 L414.9,189.1 L413.4,189.5 L412.6,190.2 L411.6,189.9 L410.9,188.9 L410.3,188.3 L411.0,187.4 L411.9,187.2 L411.0,186.5 L409.5,186.4 L407.6,186.2 L407.4,188.1 L406.0,188.5 L404.5,189.4 L404.4,191.0 L404.2,191.9 L403.4,193.2 L403.1,194.4 L403.4,195.2 L404.9,196.2 L403.4,196.5 L401.8,197.3 L400.6,197.8 L400.3,196.9 L399.1,196.5 L398.0,196.7 L396.5,197.8 L395.4,197.4 L395.2,199.2 L396.2,200.3 L397.2,201.9 L396.0,202.1 L395.8,203.2 L395.7,204.6 L394.5,204.4 L393.5,203.9 L393.1,202.8 L392.9,201.2 L392.1,200.4 L391.6,199.2 L390.7,198.6 L390.2,196.9 L390.3,195.1 L389.6,194.7 L388.8,193.8 L387.8,193.0 L386.5,192.5 L385.5,191.9 L384.2,191.0 L383.4,189.8 L382.8,188.7 L381.4,188.9 L381.4,187.8 L380.4,187.7 L379.5,188.3 L379.8,189.3 L379.3,190.4 L380.7,191.1 L381.3,191.9 L381.4,193.6 L382.4,194.1 L383.8,194.7 L385.0,194.9 L386.0,195.9 L386.8,196.5 L388.3,196.7 L388.8,198.0 L388.5,198.7 L387.5,198.3 L386.5,197.4 L385.7,198.9 L386.7,200.1 L385.0,200.6 L385.0,201.9 L384.5,201.9 L385.0,200.1 L384.2,198.3 L382.7,197.1 L381.2,196.6 L380.4,196.0 L378.8,194.7 L377.3,193.8 L376.4,192.9 L376.2,191.9 L375.5,190.8 L373.8,190.2 L373.1,191.4 L371.9,191.4 L370.4,192.5 L369.3,192.4 L368.1,192.3 L367.1,192.3 L366.1,192.1 L365.0,193.8 L365.4,195.1 L364.5,195.4 L363.5,196.0 L362.1,196.1 L361.2,197.4 L360.7,198.3 L360.0,199.2 L360.4,200.7 L359.4,202.3 L358.5,203.0 L357.4,204.0 L355.8,203.4 L354.8,203.4 L353.6,204.2 L352.0,205.3 L350.8,204.4 L349.7,203.3 L348.3,204.0Z M83.9,135.8 L84.9,136.4 L86.7,136.5 L88.0,136.7 L89.2,137.6 L89.4,139.0 L90.8,139.2 L90.5,140.7 L91.8,141.2 L93.1,141.6 L93.8,141.0 L95.6,141.4 L96.8,141.0 L97.6,141.5 L99.5,141.1 L99.8,142.1 L100.4,143.3 L98.7,143.6 L97.8,144.1 L96.9,144.8 L95.9,146.4 L95.3,147.8 L94.7,146.7 L93.6,146.4 L92.4,147.1 L90.7,146.6 L90.0,145.9 L89.1,144.6 L87.8,144.5 L86.9,144.8 L85.7,145.5 L83.9,145.6 L82.4,144.4 L81.4,143.7 L81.0,142.2 L79.9,141.4 L80.9,139.7 L80.6,137.4 L81.8,136.6Z M534.4,297.4 L535.1,297.0 L536.8,296.3 L538.2,295.4 L538.9,294.8 L539.8,294.0 L540.6,295.4 L542.0,294.6 L543.4,294.8 L544.1,294.1 L545.9,293.4 L547.2,292.2 L547.9,291.0 L547.7,289.4 L548.6,289.7 L549.7,289.7 L550.5,288.1 L551.6,287.2 L552.8,286.6 L552.8,285.5 L554.0,285.5 L555.1,284.7 L556.6,285.9 L557.8,285.5 L558.9,286.1 L558.8,284.9 L559.4,283.9 L560.4,282.4 L561.5,281.6 L562.7,281.6 L563.5,280.5 L564.2,281.4 L564.8,282.1 L565.8,281.1 L567.3,281.7 L568.9,282.2 L570.1,281.6 L569.9,282.5 L569.6,283.6 L568.8,284.7 L568.5,285.9 L569.3,286.4 L570.4,287.4 L572.2,287.6 L573.5,289.1 L575.1,288.8 L576.2,290.2 L577.2,289.7 L577.0,288.3 L577.3,287.0 L577.5,285.8 L577.6,283.9 L578.0,282.0 L578.1,280.0 L578.8,279.6 L579.0,280.8 L579.9,281.6 L579.1,282.2 L578.7,283.6 L579.4,285.1 L580.7,285.2 L581.2,286.4 L583.0,286.3 L583.2,287.7 L583.9,289.4 L584.5,290.2 L585.2,291.0 L584.6,292.4 L586.4,293.0 L587.2,294.2 L588.3,295.7 L589.2,296.6 L590.2,297.5 L591.5,299.0 L592.2,299.7 L593.1,300.3 L594.1,301.9 L594.8,302.8 L595.2,303.8 L595.0,305.2 L593.9,305.8 L594.7,306.5 L595.7,307.5 L594.7,309.2 L594.6,310.2 L594.9,311.3 L594.0,311.8 L593.4,312.9 L594.1,314.7 L593.2,315.9 L592.3,316.9 L591.0,317.8 L591.7,318.7 L591.1,319.9 L590.4,321.5 L590.3,322.9 L589.1,323.9 L587.2,324.1 L585.9,324.9 L584.9,326.1 L583.3,325.5 L582.2,324.6 L581.5,325.7 L580.3,325.7 L578.6,324.9 L577.3,324.8 L576.5,323.9 L575.0,323.4 L574.2,322.0 L574.2,320.7 L573.3,319.9 L572.4,319.9 L573.1,318.6 L572.4,317.8 L572.2,316.7 L571.5,315.6 L571.2,317.1 L571.2,318.1 L570.2,318.1 L568.9,318.7 L568.1,318.1 L567.1,316.8 L566.6,315.6 L565.3,314.3 L564.4,313.5 L562.7,313.9 L561.3,313.2 L560.8,312.3 L559.0,312.4 L558.1,313.2 L556.6,312.9 L555.5,313.7 L554.6,313.9 L553.5,314.4 L552.0,314.8 L550.5,315.6 L549.7,317.1 L548.2,316.8 L546.4,317.0 L545.4,317.2 L544.3,317.1 L543.3,318.2 L542.1,318.5 L541.3,319.0 L540.0,319.1 L538.2,319.0 L536.7,317.8 L536.2,315.9 L536.0,314.3 L537.7,313.9 L537.3,312.3 L536.7,310.5 L537.1,309.4 L537.7,308.7 L537.0,307.9 L535.9,307.1 L535.8,305.6 L534.9,305.2 L534.4,303.8 L534.4,302.2 L534.5,300.6 L535.4,299.0Z M248.6,108.0 L248.6,106.8 L248.8,105.9 L249.6,104.9 L250.6,104.9 L251.2,104.1 L252.0,104.5 L252.9,105.1 L253.2,106.0 L253.9,106.5 L254.8,105.7 L255.8,105.3 L256.0,103.8 L256.4,103.2 L256.2,102.2 L257.1,101.3 L256.6,100.1 L257.2,99.6 L257.9,98.9 L259.6,98.6 L260.3,99.9 L261.5,100.3 L262.2,100.7 L261.6,99.4 L262.7,98.3 L263.6,98.0 L264.0,97.2 L265.4,97.6 L267.1,96.7 L268.4,96.8 L270.2,97.3 L271.9,98.2 L273.2,96.4 L271.5,94.5 L274.1,95.0 L274.8,92.5 L275.9,92.0 L276.8,90.6 L278.1,89.0 L280.0,89.2 L281.5,90.8 L280.2,93.5 L281.8,94.6 L283.8,93.9 L284.2,92.7 L285.2,92.5 L285.3,91.7 L285.7,90.5 L287.3,89.9 L289.0,89.3 L289.2,87.5 L288.5,85.7 L290.4,85.1 L291.3,82.8 L293.0,82.3 L294.8,82.9 L295.2,84.5 L294.9,86.6 L296.8,87.9 L299.2,90.1 L299.7,91.7 L300.9,92.3 L301.6,91.1 L303.1,91.7 L304.6,92.3 L306.0,91.3 L306.9,90.4 L307.6,89.1 L309.0,89.2 L309.7,89.9 L310.9,89.6 L311.4,88.7 L311.8,90.1 L313.1,89.9 L314.5,89.3 L315.3,88.9 L315.6,88.1 L317.0,88.1 L318.2,88.5 L319.2,89.0 L320.2,88.6 L320.7,89.6 L321.4,90.4 L321.4,91.4 L322.2,92.0 L323.2,92.0 L324.6,92.7 L325.6,91.4 L326.0,92.4 L326.7,93.1 L327.4,93.4 L328.5,93.6 L329.4,94.1 L330.1,95.3 L331.1,95.6 L331.8,96.0 L332.9,96.9 L332.9,95.5 L334.1,95.5 L334.8,96.3 L335.7,96.6 L336.9,96.8 L338.0,96.2 L338.6,96.8 L339.3,97.5 L340.6,97.3 L341.4,97.9 L342.1,97.2 L340.6,97.6 L340.0,98.5 L339.4,99.3 L339.9,100.3 L338.9,100.2 L337.8,100.4 L336.9,101.6 L336.1,102.3 L336.0,103.1 L335.3,102.5 L334.8,101.2 L333.6,101.1 L332.9,102.2 L333.0,103.2 L332.6,104.3 L333.7,104.6 L333.5,105.7 L333.0,106.7 L332.3,107.2 L333.2,107.7 L332.9,109.0 L331.5,109.5 L331.5,110.7 L330.9,112.0 L332.0,113.0 L331.3,113.9 L331.9,114.5 L331.9,115.7 L331.2,116.5 L331.7,117.3 L330.7,116.6 L329.8,116.9 L329.6,117.6 L330.0,118.8 L329.8,120.1 L329.3,121.2 L329.2,122.3 L328.9,123.0 L329.0,124.2 L328.4,125.4 L327.6,126.0 L326.7,126.0 L325.7,126.5 L326.2,127.8 L325.0,128.4 L325.1,129.3 L325.1,130.7 L326.0,131.0 L326.7,131.7 L326.3,132.5 L326.2,133.6 L326.1,132.7 L325.0,132.5 L323.8,133.3 L322.9,132.5 L322.0,131.7 L321.7,132.7 L320.6,133.0 L320.1,133.9 L320.3,134.7 L321.1,135.5 L322.5,135.4 L323.7,135.8 L322.5,135.4 L321.8,136.7 L320.8,137.1 L320.9,138.0 L319.8,137.6 L319.1,137.6 L318.1,137.8 L317.2,137.2 L316.9,136.6 L316.2,135.9 L315.2,135.1 L314.2,136.0 L314.4,137.3 L313.4,137.4 L312.5,137.3 L311.9,137.9 L311.4,138.4 L310.9,139.6 L309.9,140.4 L309.0,140.9 L309.0,142.1 L308.0,141.7 L306.8,142.3 L306.3,142.8 L305.6,143.6 L304.3,143.9 L303.0,143.7 L302.2,144.3 L301.5,144.7 L300.3,144.6 L299.7,145.3 L299.2,146.1 L298.7,147.0 L298.8,148.1 L298.1,148.7 L297.6,149.8 L297.0,150.5 L296.5,150.9 L295.9,151.5 L295.6,152.3 L296.2,153.6 L295.3,154.5 L295.3,155.3 L294.7,156.1 L294.8,157.0 L293.8,158.0 L293.3,157.1 L292.6,157.1 L291.7,156.9 L290.7,157.3 L289.5,157.6 L288.5,157.3 L288.9,156.1 L287.9,156.9 L287.2,156.4 L286.9,155.7 L286.0,155.9 L285.1,156.9 L284.0,156.3 L283.9,155.5 L284.3,154.1 L284.0,153.3 L283.8,152.2 L282.8,151.6 L281.4,151.6 L281.9,150.3 L282.5,149.3 L281.5,148.6 L280.2,148.5 L279.2,148.5 L278.9,147.2 L279.1,146.1 L278.4,144.9 L278.5,143.6 L279.0,142.7 L278.2,141.9 L278.6,140.6 L279.5,140.2 L279.5,139.3 L278.5,138.4 L278.4,137.2 L279.5,137.0 L280.7,137.8 L281.7,137.9 L282.3,137.4 L282.8,136.2 L281.7,135.7 L282.3,134.4 L282.6,133.3 L282.4,131.8 L281.4,132.0 L280.1,131.5 L278.9,132.2 L277.7,133.0 L277.3,132.1 L277.7,131.4 L278.1,130.1 L276.7,129.9 L276.2,128.9 L275.5,128.1 L276.2,127.3 L275.4,126.4 L274.8,126.8 L273.8,127.1 L272.7,126.2 L272.7,125.2 L273.5,124.9 L274.4,124.2 L274.6,123.1 L274.6,122.0 L274.7,121.1 L274.3,120.5 L273.6,120.1 L272.4,119.3 L271.3,119.2 L271.4,118.3 L271.6,117.0 L270.8,116.3 L269.9,117.0 L269.3,116.1 L267.9,116.2 L266.9,116.9 L266.1,116.0 L265.4,114.8 L265.2,113.9 L264.5,113.2 L263.3,113.8 L262.5,114.1 L261.6,114.5 L260.8,115.1 L260.5,116.5 L259.5,116.6 L258.8,116.2 L257.9,115.6 L257.9,114.7 L257.4,115.3 L256.2,115.5 L255.5,116.2 L254.4,115.7 L253.3,115.5 L252.8,114.5 L252.1,114.1 L251.2,113.9 L251.5,112.9 L251.6,112.3 L250.6,112.1 L249.9,111.7 L248.8,110.8 L248.6,109.8 L247.5,109.8 L247.9,109.1 L248.9,109.2Z M323.2,144.8 L323.7,144.2 L324.3,143.5 L325.2,142.5 L326.7,142.6 L327.9,142.7 L328.4,143.3 L329.2,142.4 L330.2,142.5 L331.3,143.5 L332.9,143.1 L334.0,143.2 L335.4,142.8 L336.5,143.3 L337.5,143.1 L338.0,144.0 L338.8,144.7 L339.5,146.1 L338.7,146.1 L338.0,146.8 L337.5,147.8 L336.2,147.8 L334.7,148.1 L333.9,148.5 L332.9,149.0 L332.1,150.0 L331.1,149.3 L329.8,149.2 L328.3,149.0 L327.2,148.9 L325.7,148.6 L326.5,147.8 L326.7,146.6 L325.6,146.3 L324.9,146.5 L323.7,146.3Z M171.2,182.5 L170.2,181.9 L168.9,181.8 L168.4,180.9 L167.4,180.6 L166.3,180.9 L165.3,180.7 L164.0,179.8 L164.2,178.9 L163.8,178.0 L164.7,177.7 L165.8,177.8 L166.2,178.6 L167.5,178.6 L168.4,178.8 L168.9,179.4 L169.6,180.2 L170.5,181.1Z M156.6,171.2 L157.6,171.3 L158.5,171.2 L159.2,172.1 L159.3,173.1 L159.5,173.7 L159.4,174.7 L158.7,173.4 L157.7,173.3 L156.9,172.3Z M123.7,163.6 L124.4,162.8 L124.8,162.3 L125.8,162.1 L126.8,162.5 L127.1,164.1 L126.2,164.4 L125.6,164.9 L124.5,165.2 L123.7,164.6Z M269.6,184.1 L270.1,183.1 L270.7,182.5 L271.1,181.8 L271.9,181.3 L272.3,180.4 L272.0,179.4 L272.2,178.3 L272.8,177.3 L273.4,176.7 L274.6,176.5 L275.4,176.1 L276.1,177.1 L275.4,177.9 L274.9,179.4 L275.9,180.6 L277.0,181.1 L278.2,181.5 L278.5,182.3 L279.1,183.1 L279.7,184.3 L279.5,185.5 L278.5,186.0 L277.2,185.1 L276.1,185.2 L275.4,185.5 L274.6,184.1 L273.7,183.8 L272.4,184.0 L271.6,183.7 L270.8,183.2Z M261.6,179.6 L262.2,180.6 L263.4,181.2 L264.1,180.9 L265.4,180.6 L265.7,181.2 L264.6,181.2 L263.1,180.8 L262.3,180.6Z M261.9,185.7 L262.7,186.0 L263.9,186.4 L265.4,186.4 L264.7,187.2 L263.6,187.1 L262.4,186.6Z M230.3,229.0 L231.2,228.6 L231.8,227.8 L232.4,227.6 L233.3,227.2 L234.3,226.9 L235.0,226.8 L236.3,227.1 L237.1,227.0 L238.1,227.6 L239.4,228.0 L240.6,228.7 L241.6,229.1 L242.5,229.6 L243.8,229.7 L244.8,230.9 L245.8,231.1 L246.7,231.7 L245.5,232.2 L244.0,232.1 L243.1,232.6 L242.2,233.2 L241.4,232.4 L240.9,230.9 L240.6,230.3 L239.8,229.6 L238.6,229.5 L237.8,229.8 L237.0,229.4 L236.4,228.9 L235.6,228.5 L235.0,228.1 L234.0,228.0 L233.1,228.5 L231.7,229.0Z M246.4,234.4 L246.9,233.0 L248.3,232.2 L249.4,232.1 L250.9,232.2 L252.0,232.2 L253.3,232.7 L254.7,233.3 L255.5,234.4 L254.5,234.9 L254.3,235.6 L253.2,234.7 L252.0,235.6 L250.9,235.7 L250.1,235.4 L248.9,234.9 L247.5,234.6Z M240.5,234.7 L241.3,234.6 L242.2,234.7 L243.5,235.2 L242.5,235.5 L241.3,235.9Z M257.5,234.6 L258.6,233.8 L259.8,234.7 L259.3,235.2 L258.6,235.1 L257.5,235.2Z M265.7,246.6 L267.0,246.6 L267.0,247.6 L265.7,247.6Z M260.8,153.6 L260.2,153.2 L259.2,152.8 L259.0,152.2 L258.5,151.6 L257.7,152.1 L257.3,152.7 L256.2,152.2 L255.6,151.1 L254.3,151.0 L253.2,151.6 L252.3,152.1 L251.8,152.5 L250.9,151.9 L251.3,151.1 L252.3,150.8 L252.3,150.0 L251.6,149.3 L250.8,149.2 L250.1,149.3 L250.6,148.1 L249.5,147.5 L249.4,146.8 L248.8,146.3 L247.8,146.5 L247.7,147.3 L246.6,147.6 L245.5,147.3 L244.4,148.0 L243.5,148.0 L243.0,147.7 L242.2,147.4 L241.6,147.0 L240.9,147.3 L240.8,146.3 L240.9,145.3 L241.9,145.3 L242.9,144.9 L243.0,144.0 L243.2,143.2 L244.0,143.0 L244.5,142.9 L245.6,143.3 L246.0,144.4 L247.1,144.8 L247.1,143.9 L246.5,143.5 L247.2,143.0 L247.9,142.5 L247.7,141.9 L247.8,141.0 L248.1,140.5 L248.8,139.8 L249.4,138.9 L248.3,139.1 L248.1,138.3 L247.3,137.3 L246.0,137.4 L245.9,138.0 L245.9,138.9 L245.1,138.8 L244.7,138.2 L244.0,137.6 L242.8,137.2 L241.9,136.8 L241.3,136.0 L240.9,135.4 L240.2,134.4 L240.1,133.2 L239.4,132.2 L238.6,133.1 L237.8,133.6 L236.9,133.8 L236.1,133.3 L235.6,133.9 L235.0,134.8 L234.8,135.6 L235.6,134.9 L235.0,134.0 L234.6,132.7 L233.3,132.9 L232.8,131.8 L231.8,131.7 L230.6,132.1 L230.2,133.0 L230.3,132.3 L230.1,131.7 L229.2,131.5 L228.6,131.4 L227.7,131.4 L227.0,132.4 L225.8,132.6 L224.7,132.7 L224.1,131.7 L223.1,130.9 L223.6,130.1 L223.3,129.1 L222.4,129.3 L223.1,128.3 L223.3,127.4 L223.4,126.8 L223.6,126.1 L224.3,125.4 L223.7,124.4 L223.8,123.8 L224.1,123.1 L225.1,122.6 L224.8,121.6 L225.4,121.8 L226.1,122.1 L226.6,122.7 L227.1,123.5 L228.0,123.6 L228.5,123.2 L229.4,122.6 L230.2,122.5 L231.2,122.8 L232.0,122.3 L232.8,122.6 L233.6,122.6 L234.3,123.3 L234.3,124.3 L233.7,125.0 L234.3,124.2 L235.0,124.2 L234.9,123.6 L234.5,122.7 L235.6,123.0 L236.3,122.5 L237.2,122.8 L237.1,123.9 L238.2,123.4 L238.8,124.2 L239.4,124.8 L240.1,124.6 L240.9,125.1 L241.7,124.7 L242.2,125.0 L243.2,125.1 L243.5,125.9 L244.6,125.8 L244.7,126.5 L245.6,126.9 L246.2,127.5 L247.1,128.3 L247.8,128.1 L248.6,127.7 L249.0,127.2 L249.8,127.0 L250.6,127.9 L251.9,127.8 L250.8,127.9 L250.6,129.1 L250.7,130.2 L251.6,130.3 L252.2,131.4 L253.0,131.9 L253.7,132.1 L254.6,131.4 L254.2,132.5 L255.1,132.3 L255.5,133.0 L255.9,134.0 L257.1,133.7 L257.0,134.5 L256.5,135.0 L257.1,135.2 L257.8,135.8 L258.3,136.2 L258.9,136.8 L259.2,137.7 L260.3,137.5 L260.5,138.1 L261.3,138.3 L261.7,139.0 L262.4,139.7 L262.9,140.1 L263.7,140.0 L264.8,140.0 L265.2,140.8 L266.1,140.7 L265.5,141.7 L266.2,142.3 L265.6,142.2 L264.6,142.3 L264.3,143.2 L263.9,144.1 L263.9,145.0 L263.4,145.5 L263.1,146.1 L262.1,146.4 L261.7,147.0 L261.6,147.8 L261.8,148.4 L261.9,149.3 L261.6,150.3 L261.8,151.4 L262.8,151.4 L262.7,152.5 L262.1,151.9 L261.2,152.2 L260.4,152.6Z M178.1,128.9 L177.6,130.0 L178.2,130.9 L179.2,131.3 L180.3,131.0 L181.3,131.2 L181.9,131.8 L181.9,132.3 L182.2,133.4 L182.6,134.2 L182.7,134.9 L183.4,134.9 L184.2,135.0 L185.0,135.8 L185.8,135.8 L186.3,136.1 L187.3,136.8 L188.2,136.5 L188.7,135.6 L189.3,134.5 L189.6,135.3 L190.5,136.1 L191.2,136.4 L191.9,136.4 L192.6,137.1 L193.6,136.9 L194.3,136.6 L195.0,136.6 L195.5,137.2 L196.2,137.0 L197.0,137.3 L197.4,137.7 L198.2,138.0 L198.4,138.6 L199.1,137.9 L199.5,137.4 L200.0,136.5 L201.1,136.3 L201.9,135.7 L202.9,135.8 L203.5,135.6 L203.7,134.7 L204.2,134.1 L204.9,133.9 L204.1,133.3 L203.6,132.1 L203.5,131.2 L202.6,130.3 L201.9,130.6 L201.0,130.0 L201.4,129.3 L201.1,128.4 L201.9,127.5 L201.4,126.4 L200.6,126.5 L200.0,126.4 L199.5,125.4 L199.1,124.7 L198.7,123.5 L198.1,122.6 L197.3,123.1 L196.1,122.8 L196.3,121.6 L195.9,122.2 L195.4,123.1 L195.0,124.0 L194.1,123.7 L193.4,124.4 L193.0,124.8 L191.9,124.6 L191.4,123.4 L190.9,123.9 L190.0,123.7 L188.8,123.6 L188.1,124.4 L187.2,124.9 L186.7,125.7 L185.8,125.4 L184.9,125.7 L184.1,125.5 L183.3,126.1 L182.4,125.3 L181.6,125.7 L180.7,125.3 L179.6,125.4 L178.8,125.9 L178.3,126.3 L178.4,127.4 L177.6,127.9Z M168.9,127.4 L169.8,127.7 L170.5,128.7 L171.1,129.1 L172.0,129.7 L172.9,129.5 L173.9,129.7 L174.7,129.2 L175.3,129.4 L175.9,129.0 L176.6,128.9 L177.7,128.6 L178.1,127.8 L178.0,127.0 L178.7,126.3 L178.6,125.5 L178.1,124.6 L178.3,123.6 L178.5,122.9 L178.2,122.4 L177.9,121.6 L178.7,122.5 L179.6,122.3 L179.5,121.4 L180.4,120.7 L179.8,121.0 L179.6,121.9 L178.7,122.4 L178.1,122.9 L177.7,122.0 L177.0,121.7 L176.4,120.9 L176.0,120.4 L175.0,120.1 L174.0,120.4 L173.1,119.5 L172.2,119.7 L171.4,120.5 L170.5,120.9 L170.0,121.3 L169.7,122.2 L170.3,123.0 L170.3,123.8 L169.7,124.1 L169.7,125.0 L169.6,125.7 L169.4,126.6Z M222.5,113.9 L223.4,113.9 L224.0,114.2 L225.2,114.2 L224.8,113.3 L225.6,112.8 L226.7,112.7 L226.9,111.5 L227.0,112.6 L226.9,113.4 L227.9,113.8 L229.1,114.2 L230.2,114.5 L231.3,114.9 L232.1,115.5 L232.9,115.7 L233.8,116.4 L234.5,116.7 L235.2,117.3 L236.0,117.3 L236.7,117.2 L237.6,116.4 L238.1,115.6 L237.9,114.8 L238.4,113.9 L238.0,113.1 L238.2,112.6 L238.7,112.0 L239.6,111.9 L240.1,112.6 L240.9,112.3 L242.2,112.5 L243.4,112.1 L244.3,111.9 L244.4,111.0 L245.2,111.4 L245.9,111.4 L245.9,110.5 L246.0,109.5 L245.8,108.6 L246.7,108.4 L246.1,107.7 L245.5,107.4 L246.8,107.1 L247.5,106.2 L248.5,105.3 L247.6,104.1 L246.9,103.4 L247.6,102.4 L246.8,101.5 L247.9,101.9 L249.0,101.3 L249.6,102.4 L250.5,102.2 L251.0,101.9 L251.9,101.8 L253.2,102.2 L253.7,102.9 L254.2,103.3 L254.7,103.9 L255.4,104.0 L256.3,104.1 L257.3,103.7 L258.5,104.3 L259.4,104.1 L260.8,102.8 L262.1,102.8 L261.9,101.6 L262.2,100.5 L263.2,99.6 L263.5,98.6 L263.1,97.4 L262.4,96.9 L262.8,95.9 L264.0,95.7 L264.1,94.9 L263.5,93.9 L264.6,93.3 L265.4,93.1 L264.8,92.0 L264.6,91.1 L263.6,91.0 L262.8,90.9 L261.1,90.6 L261.2,88.7 L259.7,89.3 L258.9,90.0 L258.3,90.4 L258.1,91.3 L257.3,91.1 L256.5,91.8 L255.4,92.0 L254.6,92.1 L253.6,91.9 L253.2,91.2 L252.7,89.0 L250.2,89.2 L249.4,87.8 L248.1,87.6 L246.8,86.4 L247.3,85.1 L245.9,83.4 L244.4,84.4 L241.9,83.2 L240.0,81.8 L238.8,84.2 L237.4,85.5 L238.2,87.2 L239.2,88.3 L238.0,89.8 L237.9,91.2 L236.6,91.0 L235.6,91.4 L234.8,91.7 L234.1,92.2 L233.7,92.7 L232.6,93.5 L232.8,94.9 L231.1,95.5 L230.4,94.3 L229.6,93.4 L228.6,93.2 L227.9,93.7 L226.7,93.2 L225.8,93.9 L225.6,95.0 L225.0,96.2 L224.3,96.9 L223.5,96.2 L223.0,96.8 L222.5,97.7 L223.2,98.2 L223.7,98.8 L223.0,99.5 L222.4,99.0 L221.7,99.0 L221.2,99.4 L220.5,99.8 L219.5,99.8 L219.5,98.7 L219.7,99.2 L219.8,99.9 L220.7,100.5 L221.3,101.5 L221.9,102.0 L222.0,102.7 L223.0,102.1 L223.7,102.2 L224.1,101.6 L224.9,101.4 L225.6,102.2 L226.1,102.1 L226.9,102.4 L227.9,102.5 L228.1,101.5 L228.9,101.9 L229.5,101.3 L229.9,102.2 L230.1,103.0 L230.6,103.6 L231.0,104.8 L230.2,105.7 L229.1,106.1 L229.0,107.3 L228.0,108.1 L227.1,109.0 L226.9,109.8 L225.9,110.2 L225.2,110.5 L224.9,111.2 L224.8,112.1 L224.2,112.5 L223.2,112.3 L222.5,111.9 L223.0,113.1Z M213.3,117.0 L212.4,117.4 L212.2,118.2 L213.4,118.3 L213.5,119.7 L214.0,120.4 L214.7,121.0 L215.8,121.4 L215.8,120.4 L216.4,120.4 L217.0,119.9 L218.0,119.9 L218.7,120.0 L219.5,119.8 L220.4,119.9 L221.0,120.1 L221.6,119.6 L221.9,118.8 L222.3,119.6 L223.3,119.4 L224.3,118.7 L224.4,117.9 L225.3,118.1 L225.9,118.6 L227.0,118.3 L227.6,117.8 L227.7,119.1 L227.9,120.2 L228.9,119.1 L230.2,120.1 L231.1,119.9 L231.6,119.3 L231.5,118.7 L231.4,117.9 L231.9,117.0 L232.8,117.2 L233.6,116.3 L233.3,117.3 L234.4,117.7 L233.7,118.6 L234.4,119.3 L235.2,119.5 L235.8,118.9 L236.6,119.6 L237.9,119.5 L237.2,118.7 L237.3,117.9 L237.2,117.1 L237.9,116.4 L237.7,117.8 L238.3,118.5 L237.7,119.6 L237.0,120.5 L235.7,120.3 L233.9,119.7 L233.2,120.6 L232.1,121.4 L231.5,121.2 L230.7,120.7 L231.0,119.4 L229.8,119.1 L228.5,117.4 L228.2,116.0 L227.1,115.4 L225.6,116.4 L224.8,116.4 L224.0,115.6 L223.1,115.8 L222.5,115.9 L221.4,115.3 L220.7,115.3 L219.6,115.5 L219.3,114.3 L219.5,113.2 L219.4,114.2 L218.7,114.5 L218.0,113.8 L217.0,114.2 L216.2,114.0 L215.2,114.2 L214.8,113.5 L214.2,113.1 L213.3,113.9 L213.1,114.5 L212.8,115.2 L213.3,116.1Z M214.9,109.0 L215.7,109.1 L216.4,108.7 L217.2,109.1 L216.9,110.1 L217.7,111.0 L218.5,110.4 L218.9,109.6 L219.6,108.6 L220.3,108.3 L221.0,108.0 L221.2,107.3 L221.9,106.8 L222.5,106.0 L222.8,104.7 L223.9,104.6 L224.6,104.2 L225.3,104.1 L226.1,104.5 L226.9,103.6 L226.8,102.7 L226.4,102.2 L225.9,103.1 L224.8,103.7 L223.7,103.7 L223.0,103.4 L221.9,103.6 L220.8,103.3 L221.1,102.3 L221.7,101.8 L222.3,100.8 L221.5,100.0 L221.6,98.8 L220.3,97.8 L219.5,98.7 L219.4,97.9 L219.4,97.3 L218.8,96.5 L218.0,97.0 L217.9,97.7 L217.9,98.5 L216.9,98.6 L216.0,98.4 L214.9,98.5 L213.9,98.5 L213.6,99.3 L213.3,99.9 L213.3,100.8 L214.1,101.3 L213.3,102.2 L212.7,102.9 L213.4,104.1 L214.5,103.9 L214.7,104.8 L215.3,105.6 L215.3,106.5 L215.2,107.1 L214.7,107.9Z M181.2,117.9 L181.7,118.7 L182.0,119.3 L183.1,119.6 L183.3,120.3 L183.6,121.1 L184.6,120.8 L184.6,120.0 L185.6,119.5 L186.6,119.1 L186.9,119.9 L187.7,120.3 L188.8,120.4 L190.4,120.6 L190.5,122.2 L191.3,122.5 L191.7,123.0 L192.5,121.9 L193.5,121.7 L193.4,120.7 L194.5,120.6 L195.0,120.0 L196.1,119.7 L196.8,120.0 L196.8,120.9 L197.8,120.3 L198.3,119.7 L198.0,118.9 L197.9,117.8 L197.1,117.4 L198.2,116.7 L198.0,115.5 L197.4,114.8 L197.6,114.2 L197.3,113.0 L196.9,112.2 L195.9,112.0 L195.0,112.0 L194.2,112.5 L194.4,113.7 L193.6,114.3 L193.0,113.4 L191.9,113.9 L191.2,114.3 L191.0,115.3 L190.0,115.4 L189.4,115.4 L188.6,114.6 L188.0,114.9 L187.3,115.4 L188.1,114.3 L187.2,113.4 L186.0,114.0 L185.4,113.0 L184.6,113.3 L183.7,113.6 L183.2,114.3 L182.7,114.5 L181.6,114.3 L180.9,115.3 L181.1,115.9 L181.7,116.8Z M204.1,127.4 L205.0,128.4 L205.4,129.2 L206.5,129.6 L207.0,128.4 L207.2,129.7 L208.3,129.6 L209.3,129.8 L209.9,129.5 L210.7,130.0 L210.8,129.0 L211.8,128.9 L210.9,129.3 L210.2,128.9 L209.5,127.9 L209.3,127.1 L209.7,126.2 L209.7,124.9 L210.5,124.8 L211.1,124.6 L211.6,123.6 L212.6,123.1 L211.8,122.9 L211.0,123.8 L210.3,123.7 L209.4,123.9 L209.5,122.8 L208.2,122.5 L207.5,122.4 L207.2,121.6 L206.0,121.9 L206.1,122.9 L206.4,123.8 L205.6,124.2 L205.1,124.8 L204.9,125.9 L204.4,126.6Z M213.3,126.0 L214.0,125.5 L214.1,124.8 L214.7,124.6 L215.7,124.6 L216.4,124.9 L217.1,125.1 L217.4,124.6 L217.6,123.9 L218.4,124.1 L218.9,124.6 L219.5,125.4 L219.6,124.6 L219.8,123.3 L220.1,122.5 L221.2,122.5 L221.8,121.8 L222.5,122.2 L221.9,121.4 L221.2,120.5 L220.5,119.9 L219.6,120.5 L219.0,119.7 L218.1,120.3 L217.3,120.3 L216.5,119.8 L216.2,120.9 L215.9,121.7 L214.9,121.3 L215.4,121.8 L216.1,122.5 L216.2,123.2 L216.4,124.0 L215.6,124.1 L215.1,124.5 L214.8,125.7 L214.0,125.4Z M227.1,149.8 L227.9,150.7 L228.4,151.4 L229.2,152.3 L230.1,152.4 L230.9,152.4 L231.6,152.4 L231.8,151.8 L232.1,151.2 L233.3,151.0 L233.9,150.5 L234.4,150.1 L234.6,149.1 L235.0,148.6 L236.2,148.3 L237.1,148.6 L237.6,148.1 L237.3,147.1 L236.6,146.0 L235.6,145.2 L234.8,144.8 L234.1,145.7 L233.1,145.2 L232.6,144.5 L232.7,143.9 L232.4,144.9 L231.7,145.6 L230.7,145.1 L230.2,144.1 L229.5,144.0 L228.9,144.4 L227.9,145.0 L227.8,145.7 L228.4,146.4 L227.8,147.0 L227.1,147.3 L226.8,148.3 L226.0,148.7 L226.7,149.3Z M172.0,115.5 L172.8,115.8 L173.6,115.7 L174.2,114.6 L175.2,114.7 L175.9,114.7 L176.8,114.5 L177.4,115.3 L178.1,116.1 L177.5,115.0 L178.4,114.3 L178.0,113.1 L177.9,112.0 L178.6,112.3 L179.3,112.1 L180.2,111.5 L179.7,110.6 L180.3,111.2 L181.1,110.6 L181.7,111.5 L182.7,111.3 L181.9,110.4 L181.0,111.1 L180.5,112.1 L179.5,112.0 L178.5,111.8 L177.8,112.0 L177.5,111.3 L176.6,110.7 L175.5,110.6 L174.6,111.2 L174.0,112.2 L174.9,112.9 L174.1,112.2 L173.6,112.6 L172.8,112.6 L172.5,113.3 L172.4,114.1 L171.8,114.6Z M201.1,117.9 L201.2,117.3 L201.9,116.7 L202.8,116.4 L203.5,117.3 L204.6,117.7 L204.2,118.9 L205.2,118.2 L206.2,118.5 L206.9,117.9 L207.8,118.0 L208.4,117.9 L209.2,117.5 L209.5,118.3 L210.3,118.6 L210.5,118.0 L210.4,117.2 L210.8,116.4 L211.0,115.5 L210.1,115.2 L210.4,114.5 L210.3,113.9 L209.5,114.6 L208.7,114.5 L208.0,114.8 L207.6,113.8 L206.9,113.5 L206.0,113.6 L205.5,114.0 L205.0,115.0 L204.5,114.6 L204.0,114.1 L203.4,113.8 L202.6,113.9 L202.9,114.8 L202.0,115.5 L201.2,116.5 L201.8,117.3Z M199.5,109.0 L200.5,108.4 L201.1,107.9 L201.7,108.6 L202.8,108.6 L203.9,107.9 L205.0,108.3 L206.0,108.6 L206.9,109.1 L207.2,109.7 L207.6,108.5 L208.5,107.7 L209.1,106.6 L208.7,105.7 L208.3,104.7 L207.3,104.9 L206.7,105.5 L205.8,105.6 L205.1,106.2 L204.8,107.2 L205.1,108.0 L204.7,108.6 L204.5,107.7 L205.2,107.1 L204.7,106.9 L203.9,106.6 L203.1,107.2 L202.2,106.5 L202.1,105.2 L201.1,104.6 L200.3,105.6 L199.1,106.0 L198.8,106.8 L198.2,107.4 L199.0,108.0Z M208.0,135.8 L208.9,135.2 L209.7,134.5 L210.7,134.8 L211.3,134.2 L212.2,134.6 L212.3,135.6 L212.7,136.5 L213.3,136.8 L213.3,135.7 L212.2,135.6 L212.7,135.1 L213.1,134.7 L213.3,133.9 L212.8,133.2 L212.5,132.7 L212.1,131.8 L211.3,132.4 L210.6,131.8 L209.7,132.3 L209.5,133.0 L208.8,133.4 L207.6,133.6 L207.5,134.5 L207.6,135.2Z M213.3,117.3 L213.8,118.2 L215.0,118.2 L216.3,118.0 L217.2,118.6 L216.6,117.4 L217.2,116.7 L216.2,116.3 L214.9,116.4 L213.9,116.8Z M185.8,110.7 L187.1,110.7 L187.8,109.9 L188.6,109.4 L189.0,110.5 L190.2,111.0 L191.2,111.0 L191.9,111.3 L192.0,109.9 L191.9,109.0 L190.9,109.6 L189.8,108.8 L188.4,108.8 L187.3,108.4 L186.5,109.2Z M237.1,124.0 L237.8,124.2 L239.1,124.5 L240.0,123.6 L241.0,123.8 L242.0,124.5 L243.2,125.1 L242.7,124.4 L242.7,123.6 L241.7,122.8 L240.6,122.7 L240.2,122.1 L238.8,122.1 L237.9,122.2 L237.6,123.0Z M241.7,139.7 L242.4,139.6 L243.5,139.5 L244.8,140.2 L245.2,139.0 L244.4,137.9 L243.5,138.0 L242.5,137.6 L242.2,138.7Z M197.2,124.0 L198.2,124.3 L199.2,124.2 L199.9,124.6 L199.3,123.6 L199.5,122.5 L198.8,123.4 L198.0,123.9Z M187.3,108.0 L188.2,108.3 L188.6,109.0 L189.9,109.5 L191.2,108.7 L191.9,108.0 L191.6,107.2 L191.1,106.3 L189.9,106.5 L189.1,106.9 L188.2,107.3Z M177.3,116.4 L178.7,116.8 L179.9,116.7 L179.6,115.1 L178.9,116.2Z M211.0,108.4 L212.1,108.9 L213.3,109.3 L213.1,108.2 L212.9,107.0 L211.8,107.9Z M233.3,151.5 L234.0,152.5 L234.9,153.3 L236.4,153.1 L237.9,152.7 L237.6,151.5 L236.3,151.0 L235.1,150.9 L234.0,151.0Z M255.3,352.1 L254.4,352.4 L253.4,352.5 L252.8,353.3 L252.4,354.0 L251.8,354.7 L251.6,355.4 L251.9,356.3 L253.1,356.9 L253.8,356.5 L254.7,357.1 L255.3,357.5 L256.4,357.8 L257.4,357.7 L258.5,357.6 L259.7,357.3 L260.5,356.5 L259.3,355.6 L258.5,355.8 L257.8,355.0 L257.4,353.9 L256.2,352.9Z M267.0,349.9 L267.9,349.7 L269.3,349.5 L270.6,350.1 L271.9,350.1 L271.7,351.5 L271.1,351.5 L270.0,351.5 L269.1,351.6 L268.1,351.7 L267.0,350.9Z M436.0,281.6 L436.4,282.5 L436.9,283.2 L436.9,284.3 L436.6,285.0 L437.0,286.0 L437.5,287.0 L437.2,288.1 L437.5,289.2 L436.3,290.2 L436.3,291.5 L436.1,292.7 L435.0,293.8 L434.8,295.0 L433.9,295.8 L433.2,296.6 L433.4,298.2 L433.5,299.6 L433.2,300.6 L432.5,301.4 L431.7,302.5 L430.4,302.8 L429.4,303.0 L428.6,302.2 L428.0,301.5 L427.7,300.7 L427.4,299.8 L426.9,298.3 L426.8,297.6 L427.1,296.6 L427.9,295.9 L427.7,294.7 L428.2,294.1 L428.6,293.4 L428.4,292.5 L427.9,291.2 L427.9,290.2 L427.9,289.4 L429.1,288.7 L430.2,287.5 L431.1,287.5 L432.0,287.0 L432.8,286.5 L433.2,285.5 L433.7,284.8 L433.9,283.8 L434.8,283.1 L435.4,282.0Z M351.7,179.4 L352.7,179.6 L353.8,179.8 L354.2,179.2 L355.1,178.8 L355.6,178.3 L356.0,177.4 L357.0,177.7 L358.2,178.0 L358.7,176.9 L359.8,177.0 L360.6,177.0 L361.4,177.6 L362.4,177.2 L362.4,175.9 L362.9,175.0 L362.9,173.9 L361.7,173.7 L360.8,173.3 L361.2,171.9 L360.1,171.2 L359.6,170.0 L359.0,169.6 L358.2,169.1 L357.7,168.1 L357.4,166.9 L355.9,166.9 L356.4,165.5 L356.8,164.7 L357.4,163.6 L356.4,163.3 L355.1,163.2 L355.5,162.4 L355.9,161.2 L355.3,160.5 L354.3,160.6 L353.6,160.8 L352.8,161.2 L351.5,161.7 L350.9,162.8 L351.6,163.6 L351.1,165.0 L351.9,166.3 L352.3,167.2 L352.8,168.0 L353.1,169.5 L354.0,169.3 L355.4,169.5 L356.1,170.5 L355.9,171.6 L355.5,172.6 L354.7,173.0 L353.6,172.8 L353.7,173.8 L354.0,174.7 L353.2,174.9 L352.5,175.7 L353.4,176.1 L354.3,175.9 L354.9,176.2 L355.9,176.3 L355.1,177.1 L353.9,177.2 L353.4,178.5 L352.5,179.0Z M345.1,176.1 L345.9,175.9 L346.5,175.1 L347.2,176.3 L348.2,175.9 L348.9,175.4 L349.4,174.5 L350.8,174.9 L350.5,173.8 L351.3,172.6 L350.8,171.8 L351.3,170.9 L352.0,170.1 L351.7,169.4 L350.9,168.6 L350.1,168.7 L349.0,168.4 L348.0,169.2 L347.4,170.1 L346.0,170.1 L345.1,170.8 L345.5,171.6 L345.9,172.8 L345.6,173.8 L345.1,174.7Z M379.6,201.9 L380.6,201.7 L382.1,201.6 L383.4,201.3 L384.2,201.6 L383.7,202.8 L383.7,204.2 L382.5,204.4 L381.5,203.4 L380.4,203.2 L379.6,202.6Z M373.0,196.5 L374.4,196.5 L375.3,196.5 L376.0,197.7 L374.9,198.5 L375.2,199.8 L374.2,200.0 L373.5,200.1 L374.3,199.0 L374.2,198.0 L373.2,197.7Z M373.6,193.8 L374.3,193.0 L375.0,192.8 L374.9,194.1 L375.0,195.6 L373.9,195.6 L374.1,194.5Z M396.5,206.3 L397.6,206.3 L398.9,205.4 L399.5,206.4 L400.8,206.8 L399.5,206.8 L398.0,207.2 L397.2,206.6Z M409.9,207.2 L411.5,207.0 L412.5,206.3 L413.3,206.2 L412.7,206.9 L411.8,207.7 L411.2,207.2Z M377.3,167.6 L378.4,167.2 L379.6,166.9 L379.4,168.2 L379.3,169.1 L378.7,168.1 L377.6,168.6Z M388.3,162.8 L389.6,163.2 L389.1,163.9 L388.5,164.7 L388.6,163.8Z M377.3,105.7 L378.0,105.0 L378.8,104.2 L379.9,104.2 L380.0,103.4 L380.7,104.3 L381.9,103.8 L382.7,103.2 L383.4,102.9 L383.4,102.1 L383.6,101.2 L384.3,100.4 L385.6,99.9 L386.4,98.6 L387.6,99.3 L388.7,99.7 L388.5,100.7 L389.2,100.6 L390.0,101.2 L391.1,100.6 L390.8,99.6 L391.7,99.0 L392.3,99.8 L393.1,100.3 L392.6,101.2 L393.1,100.5 L393.3,99.9 L394.0,99.8 L394.9,100.2 L395.8,101.4 L396.8,100.8 L396.5,101.7 L396.7,102.8 L397.5,102.2 L398.0,101.4 L398.6,100.4 L399.7,100.3 L400.4,100.1 L400.5,101.6 L401.8,102.2 L401.3,103.1 L401.9,104.0 L401.9,104.7 L401.9,105.3 L400.9,106.0 L400.2,105.2 L399.5,104.9 L398.6,105.5 L397.8,105.4 L397.2,105.7 L396.3,105.0 L395.4,105.5 L394.8,105.0 L394.0,104.5 L393.0,104.8 L392.3,105.6 L392.7,106.4 L392.6,107.4 L392.0,108.4 L391.2,109.1 L390.0,108.8 L389.7,109.7 L389.1,110.8 L388.7,111.8 L388.0,112.3 L387.2,112.7 L386.3,112.6 L386.0,113.2 L385.4,113.6 L384.5,113.4 L384.7,112.4 L384.1,112.9 L383.4,112.9 L382.9,113.8 L382.0,113.3 L381.2,112.5 L381.1,111.7 L380.9,110.9 L380.7,110.3 L381.4,110.0 L381.9,109.7 L382.1,108.8 L381.8,108.1 L381.4,107.7 L380.7,108.1 L379.7,107.9 L378.8,108.0 L378.4,107.2 L377.2,107.0 L376.8,106.2Z M439.4,128.9 L439.5,129.5 L439.7,130.2 L440.5,130.0 L441.2,130.2 L441.9,130.8 L442.4,131.1 L443.3,131.2 L443.8,131.5 L444.2,130.6 L445.2,131.0 L445.8,130.8 L446.5,130.3 L447.3,131.0 L448.6,131.1 L448.3,130.3 L447.4,130.3 L446.8,129.4 L447.7,129.1 L447.4,128.0 L446.3,127.4 L446.6,126.5 L445.8,126.7 L445.5,125.8 L446.1,124.6 L446.3,123.7 L446.4,122.6 L447.3,121.8 L446.1,121.9 L445.9,120.9 L446.6,120.2 L447.4,119.7 L447.7,120.7 L448.3,120.1 L449.1,120.7 L450.0,120.2 L450.9,120.1 L451.5,119.6 L452.0,118.7 L452.2,117.6 L453.1,117.7 L454.1,117.7 L454.4,117.0 L455.5,117.0 L456.3,117.2 L456.9,117.8 L457.7,118.2 L458.2,119.2 L459.0,118.9 L459.5,117.9 L460.0,116.8 L460.9,116.1 L460.7,115.1 L461.6,114.8 L462.4,114.0 L462.9,113.7 L463.7,113.7 L464.3,113.8 L465.0,114.3 L466.1,114.0 L465.9,112.9 L465.0,113.2 L464.7,112.3 L463.6,112.5 L463.3,113.7 L462.0,113.1 L460.9,113.5 L460.1,112.2 L458.6,112.7 L459.9,111.6 L459.3,109.8 L460.4,109.9 L460.6,110.8 L460.5,111.9 L460.0,112.8 L459.0,113.3 L458.3,112.2 L457.3,113.0 L457.0,113.9 L457.6,115.0 L456.6,115.7 L455.7,115.1 L455.1,115.7 L454.4,116.5 L454.0,117.6 L454.2,118.6 L453.8,119.2 L453.2,118.3 L452.4,118.8 L451.2,118.9 L450.7,118.1 L451.2,117.2 L450.1,116.7 L449.3,117.0 L450.1,117.8 L449.8,118.4 L449.3,118.9 L448.7,119.5 L448.6,120.5 L447.4,120.7 L446.6,120.6 L445.9,120.1 L445.4,120.8 L444.7,121.6 L444.1,121.4 L443.4,121.0 L442.8,121.4 L442.4,122.3 L441.8,122.9 L441.5,123.4 L441.7,124.6 L441.1,124.9 L440.2,125.4 L439.4,125.7 L438.6,125.6 L439.4,126.6 L440.0,127.4 L439.5,128.1Z M434.0,100.5 L435.2,100.4 L436.0,99.7 L437.0,100.6 L437.6,100.7 L438.4,100.2 L438.9,99.2 L439.8,99.7 L440.3,98.9 L441.3,98.9 L441.5,99.7 L442.2,99.9 L443.2,100.0 L444.1,100.4 L444.2,99.5 L444.7,98.7 L445.4,98.2 L446.1,98.9 L447.0,98.6 L448.1,98.6 L448.9,98.5 L449.4,99.0 L449.9,97.6 L451.0,97.9 L451.0,98.8 L452.2,99.0 L453.1,99.6 L454.2,100.0 L454.8,99.1 L455.5,98.7 L454.3,99.2 L453.2,99.7 L453.5,100.7 L452.8,101.1 L452.4,101.5 L451.5,102.2 L450.5,102.7 L449.3,102.6 L449.2,101.1 L448.0,101.3 L447.0,100.1 L447.1,99.0 L447.5,97.7 L446.5,98.6 L445.5,99.1 L444.7,99.0 L443.6,99.0 L443.7,100.0 L442.7,100.9 L441.2,101.7 L440.1,102.2 L439.9,101.2 L439.1,101.2 L438.6,101.0 L438.2,100.2 L437.0,100.4 L436.6,101.1 L436.2,101.8 L435.9,100.9 L434.9,101.1Z M507.6,105.7 L508.2,106.0 L509.1,105.8 L509.7,105.2 L510.5,104.5 L511.1,103.8 L511.7,103.4 L511.7,104.6 L512.9,104.6 L512.7,103.9 L512.7,103.2 L513.4,102.8 L513.7,102.2 L514.2,102.9 L514.0,103.7 L514.4,105.1 L513.9,106.1 L514.8,106.2 L515.4,107.2 L516.2,106.5 L516.9,106.6 L517.6,105.9 L518.8,105.4 L519.3,105.8 L520.1,105.4 L521.3,105.0 L521.4,104.0 L520.4,104.6 L519.3,104.9 L519.5,106.0 L520.0,107.2 L519.8,108.0 L519.4,107.4 L518.7,107.0 L518.3,106.0 L518.2,105.2 L517.8,106.3 L516.3,106.0 L515.2,105.8 L514.9,106.7 L513.9,107.1 L512.6,107.1 L512.9,108.3 L512.2,109.0 L511.9,108.3 L511.3,107.7 L511.3,106.5 L510.5,106.9 L509.7,106.9 L509.2,106.9 L508.3,106.4 L507.7,107.0 L508.2,106.1Z M570.4,117.0 L570.7,117.8 L571.2,118.4 L571.9,118.6 L572.4,119.6 L573.1,119.3 L573.9,118.6 L575.0,117.9 L575.4,116.9 L576.2,116.3 L576.9,116.4 L577.0,115.6 L578.1,115.5 L578.5,115.8 L579.5,115.9 L580.4,116.2 L581.0,116.3 L582.0,116.4 L582.8,116.7 L583.6,116.6 L584.2,117.0 L584.2,117.7 L584.2,118.5 L585.0,119.0 L585.7,118.6 L586.8,118.5 L587.3,117.5 L588.3,117.3 L588.9,117.0 L589.5,117.5 L590.3,117.9 L589.7,117.5 L588.6,117.8 L588.4,118.6 L588.4,119.3 L587.2,119.2 L587.0,120.2 L586.5,120.8 L585.5,121.3 L584.4,120.4 L584.2,119.2 L583.7,118.6 L583.0,118.6 L582.1,119.0 L582.0,120.1 L580.9,120.1 L580.1,119.9 L579.9,119.2 L578.9,119.7 L578.1,119.2 L577.1,118.6 L576.0,119.0 L575.7,120.0 L574.6,120.3 L573.8,120.8 L573.2,120.1 L573.1,119.1 L571.9,119.2 L571.2,118.4 L570.4,118.0Z M434.8,134.9 L436.0,134.9 L437.1,135.2 L436.3,136.6 L435.9,135.8Z M578.1,170.5 L578.4,171.4 L578.6,172.3 L579.6,173.3 L578.6,174.3 L578.4,175.3 L579.1,176.2 L580.0,177.4 L579.9,178.3 L579.4,179.2 L580.3,180.4 L579.8,181.6 L579.6,182.6 L579.7,183.5 L579.6,184.3 L580.1,184.8 L580.2,185.8 L580.3,186.8 L579.4,187.0 L578.1,187.2 L577.1,186.1 L577.8,185.0 L578.1,184.0 L578.1,183.3 L578.8,182.2 L579.0,180.7 L579.1,179.5 L578.1,178.4 L577.5,177.2 L577.3,176.4 L577.6,175.3 L578.2,174.3 L578.7,173.2 L578.1,171.8Z M575.0,195.6 L575.7,195.1 L576.8,194.9 L576.9,193.8 L576.5,192.8 L577.0,191.6 L577.6,190.6 L577.7,189.7 L577.6,188.3 L578.5,189.5 L579.6,190.4 L580.8,191.1 L581.4,191.9 L582.4,192.1 L583.4,192.3 L582.4,192.6 L581.1,193.0 L580.7,193.9 L579.9,194.7 L579.2,194.5 L578.3,194.1 L577.6,194.1 L576.5,194.1 L575.6,194.6Z M577.0,196.0 L577.3,196.9 L578.1,197.6 L578.1,199.2 L577.4,200.2 L576.8,200.5 L576.5,201.9 L576.1,202.8 L575.7,203.4 L575.9,204.4 L576.2,205.5 L575.3,206.4 L575.0,207.2 L574.2,207.5 L573.1,207.7 L571.8,208.3 L570.4,207.9 L569.6,208.6 L568.9,209.8 L568.2,208.8 L567.3,208.4 L566.6,208.0 L565.8,207.6 L565.2,207.9 L564.3,208.4 L563.3,208.5 L562.4,208.3 L561.2,208.9 L561.2,208.1 L562.4,207.5 L562.7,206.8 L563.5,206.3 L564.6,207.2 L565.8,207.1 L566.2,206.4 L567.3,206.0 L568.5,205.4 L569.4,204.9 L569.9,204.0 L570.8,202.8 L571.9,202.6 L572.7,203.0 L573.2,202.0 L574.2,201.0 L574.2,200.3 L574.7,199.4 L575.0,198.3 L575.2,197.0 L575.4,196.2Z M559.7,209.8 L560.8,210.5 L561.4,209.6 L562.3,209.4 L561.6,210.0 L561.1,211.0 L561.0,212.6 L562.0,213.2 L560.9,213.6 L560.0,213.7 L559.3,212.7 L559.2,211.2Z M563.5,208.9 L564.7,208.9 L565.7,208.7 L566.6,208.6 L566.2,209.3 L566.1,210.1 L564.8,210.3 L564.3,211.0 L564.2,210.0Z M546.6,223.7 L547.2,224.8 L546.1,225.5 L545.5,226.6 L544.8,227.5 L545.6,228.8 L545.1,228.2 L544.5,227.2 L545.1,226.5 L545.8,225.9 L545.2,225.0 L545.9,224.0Z M527.0,233.2 L528.1,232.8 L528.9,232.4 L529.8,232.0 L530.5,232.8 L530.1,234.2 L529.4,234.8 L528.2,234.9 L527.0,234.4Z M483.0,248.0 L483.6,249.2 L484.4,249.3 L485.0,250.0 L485.3,251.3 L485.8,252.4 L485.5,253.1 L484.6,253.6 L483.0,253.9 L483.0,253.2 L482.7,252.3 L482.6,250.8 L483.1,249.5Z M545.1,234.4 L546.4,234.8 L547.7,234.6 L547.7,235.5 L548.5,236.6 L547.4,237.1 L547.4,238.4 L547.3,239.9 L546.6,240.7 L547.7,240.4 L548.7,240.4 L549.1,241.0 L549.7,241.8 L550.0,242.9 L550.5,243.5 L549.2,243.4 L548.2,242.3 L547.3,241.9 L545.9,242.0 L545.4,240.9 L544.8,240.3 L544.0,239.3 L544.3,238.4 L545.3,237.7 L545.4,236.7 L545.1,235.7Z M547.4,252.4 L548.2,251.9 L548.9,251.2 L549.7,250.0 L550.3,249.4 L550.8,248.8 L551.5,247.8 L552.8,248.2 L553.5,249.1 L554.3,249.2 L554.5,250.0 L554.3,250.8 L553.9,251.7 L553.6,252.3 L553.5,253.4 L552.5,253.9 L551.7,253.1 L550.5,252.4 L549.6,251.7 L548.6,251.4Z M550.9,243.8 L551.9,243.8 L552.8,244.3 L552.9,245.9 L552.8,247.4 L551.5,247.0 L551.5,245.7 L551.2,244.9Z M547.4,244.9 L548.3,244.9 L548.9,245.4 L549.5,246.5 L550.0,247.2 L549.7,247.9 L549.4,248.8 L548.2,248.2 L547.4,247.0 L547.6,245.8Z M540.2,250.0 L540.8,248.7 L541.8,248.7 L542.6,248.9 L542.8,247.8 L543.6,247.0 L543.6,245.7 L542.6,246.9 L542.0,247.7 L541.7,248.6 L541.1,249.2Z M545.1,242.4 L546.5,242.8 L546.2,244.2 L545.6,243.7Z M506.5,254.5 L507.5,254.5 L508.1,255.0 L509.1,254.7 L509.9,255.1 L510.8,256.3 L511.8,257.3 L512.9,258.0 L513.7,258.5 L514.7,258.7 L516.1,258.8 L516.6,259.7 L516.8,260.8 L518.0,260.9 L518.8,261.0 L519.2,261.8 L519.5,263.1 L520.3,263.9 L520.6,265.4 L521.7,266.3 L521.8,267.3 L522.9,267.7 L522.7,269.1 L522.0,270.1 L522.2,271.1 L522.6,272.0 L521.7,271.2 L520.6,272.0 L519.5,271.1 L518.5,270.7 L518.0,270.0 L517.2,269.2 L515.8,268.6 L514.7,269.2 L514.9,268.5 L514.6,267.3 L514.5,266.2 L514.4,265.3 L514.0,264.4 L512.8,264.1 L512.2,263.1 L511.3,262.6 L510.9,261.9 L509.9,261.2 L509.9,260.0 L509.1,258.6 L508.8,257.8 L508.1,257.4 L508.3,256.1 L508.0,255.2 L507.3,255.2Z M521.7,273.5 L522.5,272.9 L523.7,272.3 L524.2,271.7 L525.2,271.2 L525.8,272.4 L526.7,273.1 L527.9,273.4 L529.0,273.1 L529.8,273.2 L531.2,273.3 L532.2,273.7 L532.8,273.7 L533.7,274.0 L534.4,274.5 L535.0,275.4 L535.9,275.1 L535.6,276.5 L534.6,276.0 L533.5,276.4 L532.9,275.5 L531.7,276.1 L530.5,275.8 L529.4,275.8 L528.6,275.2 L527.7,274.7 L527.0,274.7 L525.9,275.1 L524.6,274.9 L523.7,274.5 L522.6,274.8Z M527.5,260.8 L529.0,260.5 L530.3,260.3 L530.7,259.6 L531.3,259.0 L532.5,258.4 L533.6,258.2 L534.5,258.4 L535.6,257.6 L535.7,256.6 L535.9,255.7 L537.0,254.9 L537.9,253.9 L538.2,253.1 L538.9,252.4 L539.7,252.4 L540.3,253.1 L540.7,254.2 L542.0,254.7 L541.1,255.4 L541.3,256.5 L541.2,258.0 L541.0,259.3 L541.6,260.0 L542.3,260.3 L542.5,261.6 L541.6,262.5 L541.1,263.2 L540.5,263.9 L539.2,264.7 L539.0,266.2 L538.7,266.9 L537.8,267.3 L537.8,268.1 L538.2,268.9 L537.2,268.6 L535.9,269.4 L535.2,268.5 L534.5,268.1 L533.6,268.0 L532.2,268.6 L531.3,267.7 L531.2,266.8 L531.0,266.1 L530.2,265.4 L529.0,265.4 L528.4,264.4 L527.5,263.1 L527.7,261.9Z M544.0,261.9 L544.8,261.6 L545.9,261.3 L546.6,261.6 L547.5,261.8 L548.9,261.7 L550.0,261.6 L551.0,260.9 L552.3,260.8 L552.2,261.7 L551.2,262.3 L550.0,261.9 L549.1,261.7 L547.7,261.9 L546.6,262.5 L545.6,263.3 L544.8,264.3 L545.8,264.4 L546.6,264.6 L548.1,264.3 L549.4,264.3 L548.2,265.0 L547.4,265.9 L547.3,267.0 L546.6,267.7 L547.3,268.3 L547.6,269.0 L548.6,270.0 L548.0,270.5 L547.4,271.2 L546.9,269.9 L548.0,269.0 L547.0,268.5 L545.9,268.2 L545.1,267.4 L545.2,268.6 L544.0,269.7 L545.3,270.1 L545.0,271.5 L543.6,271.5 L543.2,270.4 L542.7,269.7 L543.3,268.5 L542.5,267.2 L542.5,266.4 L543.3,265.8 L542.5,265.1 L541.7,264.5 L542.2,263.9 L543.1,262.9Z M561.2,264.3 L562.1,264.0 L563.5,263.7 L564.6,264.1 L565.8,264.3 L565.3,265.5 L566.2,266.5 L567.1,267.4 L567.3,268.2 L568.4,267.9 L569.8,267.5 L570.3,266.6 L571.2,265.6 L572.4,266.5 L573.1,266.3 L574.2,266.6 L575.4,266.3 L576.5,267.1 L577.5,266.7 L578.3,266.9 L579.1,267.9 L580.3,268.5 L580.9,269.9 L581.2,270.9 L582.7,270.8 L583.9,270.8 L585.0,271.1 L586.0,271.6 L586.5,272.3 L585.7,273.5 L586.3,274.1 L587.3,274.2 L587.8,274.9 L588.0,276.2 L589.0,277.0 L589.7,277.3 L590.7,278.3 L591.4,278.9 L590.6,279.0 L589.4,278.8 L588.1,279.3 L587.2,278.5 L586.6,277.9 L585.5,277.1 L584.8,276.4 L584.2,276.2 L583.0,276.0 L581.9,274.9 L581.2,275.1 L580.3,275.8 L579.6,276.9 L578.4,277.1 L577.7,277.7 L576.5,276.9 L575.8,275.9 L575.4,275.2 L574.2,274.9 L573.5,275.4 L573.0,274.5 L571.9,273.8 L571.6,272.6 L572.7,271.5 L573.2,270.1 L571.8,269.3 L570.6,269.3 L570.0,268.4 L569.6,269.2 L568.9,270.0 L567.4,269.5 L566.3,269.6 L565.8,268.9 L565.0,267.9 L563.5,267.4 L564.1,266.6 L565.0,266.6 L563.9,266.5 L562.7,266.2 L562.1,265.5Z M549.7,278.9 L550.8,278.1 L551.5,277.5 L552.0,276.9 L552.8,276.4 L553.6,276.1 L555.1,276.0 L554.6,276.7 L553.9,277.2 L552.8,277.7 L551.7,278.2 L550.5,278.8Z M544.3,276.2 L545.8,276.6 L547.1,276.4 L547.9,276.1 L548.9,275.8 L548.6,276.6 L547.6,276.2 L546.5,276.0 L545.3,275.9 L544.3,276.6Z M539.4,276.2 L540.4,275.9 L541.2,275.6 L541.8,275.4 L542.8,275.8 L542.5,276.8 L541.8,276.9 L540.8,276.8 L539.7,276.9Z M536.1,275.7 L536.8,275.7 L537.7,275.8 L539.1,276.0 L538.7,276.8 L537.9,276.8 L536.7,276.5Z M542.8,277.7 L544.0,278.3 L545.4,278.2 L544.3,278.9 L543.6,278.6 L542.8,278.2Z M555.8,260.3 L557.4,260.8 L556.7,261.7 L556.6,263.1 L557.4,264.3 L556.8,263.4 L556.1,262.3 L555.7,261.5Z M556.6,267.7 L557.2,268.1 L558.4,268.0 L559.3,267.4 L560.4,267.7 L560.9,268.8 L559.4,268.5 L558.3,267.6 L557.1,268.5Z M553.5,268.0 L554.3,268.4 L555.4,268.2 L554.8,268.9 L553.5,268.6Z M588.0,271.5 L589.0,270.8 L590.3,271.5 L590.9,270.9 L591.7,270.3 L592.5,269.7 L593.4,269.5 L593.8,270.8 L593.3,271.5 L592.8,272.4 L591.8,272.6 L591.1,272.8 L590.1,272.5 L589.3,272.2 L588.0,272.2Z M591.5,267.2 L592.7,267.8 L593.5,268.6 L594.1,268.9 L594.9,270.3 L594.1,269.5 L593.3,269.0 L593.0,268.3 L591.8,267.7Z M597.4,271.5 L598.5,271.8 L599.2,273.1 L598.7,273.7 L598.0,273.2 L597.5,272.3Z M604.9,277.4 L605.6,278.2 L606.9,278.2 L605.6,278.3Z M606.6,276.0 L606.7,276.9 L607.6,277.7 L607.0,277.2Z M582.2,329.1 L583.4,329.3 L584.1,330.0 L584.9,329.9 L586.4,330.1 L587.7,329.5 L587.9,330.4 L588.4,331.3 L587.7,332.0 L587.2,333.4 L586.6,334.3 L585.6,333.9 L584.9,334.5 L584.4,333.8 L583.4,333.0 L583.9,332.2 L583.7,330.8 L583.1,329.7Z M625.1,318.0 L625.9,318.8 L626.6,319.2 L627.1,319.9 L628.6,320.3 L629.4,321.6 L629.1,322.8 L630.2,323.6 L631.0,322.8 L631.6,322.6 L632.8,322.7 L633.2,323.6 L633.6,324.4 L633.8,325.2 L633.1,325.5 L632.0,325.7 L631.7,327.0 L631.6,328.4 L630.9,329.7 L629.6,330.1 L628.6,330.6 L628.4,329.4 L628.3,327.9 L627.3,327.5 L626.8,326.6 L627.4,325.2 L628.2,324.3 L627.3,323.4 L626.8,322.8 L627.9,321.6 L627.2,320.2 L627.4,319.1 L626.6,318.5Z M625.1,328.8 L626.5,329.3 L627.4,330.6 L626.7,331.8 L626.0,332.4 L625.6,333.4 L625.1,334.1 L624.2,334.3 L623.6,334.9 L622.9,335.6 L621.9,336.6 L621.9,337.9 L622.0,338.6 L621.3,339.5 L620.2,340.2 L619.4,339.8 L618.6,339.4 L617.1,339.4 L616.5,339.0 L615.6,338.4 L616.3,337.7 L616.5,336.7 L617.3,336.0 L617.5,335.4 L618.7,335.2 L618.8,334.1 L619.7,333.2 L620.5,333.5 L621.7,333.0 L622.1,332.2 L622.7,330.9 L623.1,329.9 L624.0,329.3Z M611.8,294.5 L612.5,295.2 L613.1,296.3 L613.7,296.8 L614.5,297.0 L615.6,297.4 L616.4,298.2 L615.6,298.0 L615.3,297.0 L614.2,296.3 L613.4,295.8 L612.5,295.8Z M632.1,290.2 L633.2,290.8 L634.1,290.3 L633.5,291.3 L632.1,291.0Z M634.3,288.9 L635.4,289.0 L636.3,288.1 L635.5,289.1Z M121.4,232.5 L122.9,232.8 L122.0,233.6 L121.4,233.3Z M120.3,230.6 L121.4,230.8 L120.9,231.1Z M118.0,229.6 L118.8,229.8 L118.3,230.0Z M115.7,228.7 L116.3,228.7 L116.0,229.0Z M442.1,243.7 L443.2,243.1 L444.0,243.8 L442.9,244.2Z M465.9,344.8 L467.1,345.2 L468.5,345.2 L467.7,346.2 L466.2,346.0Z M302.2,355.0 L303.5,355.9 L304.1,356.2 L305.3,356.1 L304.5,356.7 L303.8,355.7 L302.8,355.5Z M220.2,263.6 L221.3,264.3 L220.5,264.6Z M634.3,129.7 L635.3,128.8 L636.0,128.9 L637.0,128.9 L636.6,129.6 L637.0,130.6 L635.9,131.0 L634.7,130.8Z M83.9,128.9 L84.5,129.1 L85.5,129.0 L86.0,130.6 L87.0,130.0 L88.4,129.7 L87.7,130.6 L86.9,131.0 L86.1,131.4 L85.1,130.6 L83.9,130.6 L84.2,129.7Z M97.3,149.8 L98.8,149.8 L99.1,150.8 L100.7,150.8 L101.5,150.3 L100.7,150.5 L99.9,151.0 L98.8,150.5 L97.9,150.7Z M104.1,157.6 L105.3,158.2 L106.4,157.3 L106.1,158.5 L105.0,158.2Z M107.6,169.9 L108.5,169.0 L109.5,169.1 L110.2,169.1 L109.9,169.9 L108.9,170.1Z M234.9,173.3 L235.9,174.4 L237.1,174.2 L237.6,173.3 L236.3,173.7Z M237.9,165.8 L239.4,166.3 L238.6,167.1Z M237.6,152.7 L238.6,153.4 L238.2,154.1Z M276.5,134.4 L277.4,134.9 L278.1,135.1 L279.1,135.6 L280.0,134.7 L279.8,133.8 L279.2,132.5 L278.1,132.4 L276.9,132.5 L277.0,133.7Z M445.0,295.8 L446.0,295.9 L445.5,296.4Z M448.4,294.3 L449.0,294.5 L448.6,295.0Z M240.5,221.4 L241.1,221.8 L242.1,221.5 L241.2,221.9Z M240.6,224.0 L241.4,224.8 L240.9,225.3Z M556.1,221.0 L556.9,221.4 L556.3,222.0Z M553.8,209.8 L554.9,209.8 L554.3,210.3Z M373.5,257.3 L374.1,257.6 L373.6,258.0Z M522.1,265.7 L522.9,266.0 L523.7,266.5 L523.7,267.7 L522.6,266.9Z M509.4,261.0 L510.5,261.9 L510.2,262.2Z M511.9,264.9 L512.8,265.9 L512.3,266.0Z" fill="none" stroke="#000" stroke-width="0.66" stroke-linejoin="round"/>
<path d="M435.5,186.2 L437.1,185.7 L438.6,185.3 L440.1,185.1 L441.7,185.7 L440.9,187.2 L441.7,188.5 L440.7,189.1 L439.4,190.0 L438.6,191.2 L437.8,192.8 L438.7,194.2 L440.1,193.8 L440.7,194.5 L441.7,195.2 L442.4,196.5 L442.7,198.1 L441.7,199.2 L442.3,200.1 L442.8,201.4 L443.2,202.8 L442.6,203.7 L441.9,204.0 L440.8,203.1 L440.1,203.6 L439.4,204.2 L438.1,203.4 L437.0,203.2 L436.3,202.8 L435.3,201.4 L435.5,200.1 L435.6,199.1 L436.3,197.4 L435.3,197.2 L434.6,196.4 L434.4,195.7 L434.0,194.7 L434.3,193.4 L433.9,192.8 L433.2,191.9 L433.6,190.3 L432.5,189.1 L433.3,188.7 L434.5,188.4 L435.2,187.4Z M219.5,185.7 L220.6,185.2 L221.1,184.1 L222.0,183.7 L223.3,183.3 L224.5,183.1 L225.2,182.3 L225.9,181.9 L227.1,182.0 L228.3,182.1 L228.7,182.9 L230.2,183.7 L230.3,184.8 L230.7,186.0 L229.1,186.8 L228.3,186.6 L227.1,186.2 L226.3,186.3 L225.3,186.3 L224.1,185.7 L223.1,185.6 L222.3,184.8 L221.0,185.7Z M225.9,194.7 L226.8,194.4 L228.2,194.1 L228.0,193.1 L228.1,192.3 L228.2,191.0 L228.6,190.1 L229.8,189.4 L230.4,188.5 L230.2,187.6 L228.7,187.4 L228.0,187.8 L227.2,188.6 L226.4,190.0 L226.9,191.1 L226.8,191.9 L225.9,193.2Z M231.0,187.4 L231.7,186.5 L232.9,187.0 L233.8,187.2 L234.8,187.2 L236.1,187.7 L236.9,188.6 L237.9,189.1 L237.0,190.4 L235.6,190.0 L235.3,191.4 L235.3,192.5 L234.0,192.5 L233.8,191.5 L232.5,191.0 L232.6,189.8 L232.5,188.7 L231.6,188.1Z M232.8,195.1 L234.1,195.2 L235.6,195.4 L236.4,194.8 L237.7,194.1 L238.7,193.5 L239.4,193.4 L238.1,193.5 L237.1,193.4 L236.0,193.8 L235.1,193.5 L234.0,194.3Z M238.3,192.3 L239.2,191.9 L240.0,191.2 L240.8,192.0 L242.5,192.3 L243.5,191.0 L242.5,191.4 L240.9,191.0 L240.1,191.9 L238.6,191.4Z M209.0,172.2 L209.2,173.2 L209.9,174.3 L211.3,175.1 L211.2,176.7 L211.2,177.4 L211.8,178.4 L212.9,178.2 L212.2,177.4 L210.8,177.0 L210.4,175.8 L210.6,175.0 L211.2,174.4 L211.5,173.4 L210.7,172.4 L211.0,171.6 L210.1,172.1Z M181.2,155.7 L182.1,155.0 L183.3,155.1 L184.5,154.9 L185.8,155.7 L186.5,154.8 L188.2,154.7 L189.1,153.7 L189.8,153.2 L190.4,152.2 L191.6,151.7 L192.7,151.5 L191.4,151.5 L190.6,151.8 L189.2,152.3 L188.8,153.4 L187.4,153.6 L186.0,153.2 L185.0,153.9 L183.5,153.8 L182.0,154.7Z M168.9,144.8 L170.5,144.8 L171.5,146.0 L172.5,146.0 L173.5,146.1 L174.8,145.4 L176.3,144.7 L178.0,145.4 L178.8,144.4 L179.6,143.6 L178.5,142.3 L177.3,141.7 L176.6,141.0 L175.8,142.1 L174.3,142.6 L172.9,143.0 L172.0,142.3 L171.5,143.2 L170.4,144.0Z M409.0,262.6 L410.3,262.9 L411.4,262.6 L412.2,262.6 L412.7,263.6 L412.6,264.6 L411.4,265.8 L411.0,266.9 L410.1,266.4 L409.2,266.2 L409.0,265.4 L408.7,264.4Z M519.8,176.3 L521.1,175.7 L521.1,174.6 L522.2,174.4 L522.9,174.3 L523.8,174.3 L524.6,173.7 L525.6,172.5 L525.9,171.6 L526.9,170.2 L527.1,169.1 L527.9,168.7 L528.6,167.6 L527.5,167.6 L527.7,169.1 L527.4,170.2 L527.2,171.2 L526.2,171.5 L525.2,172.0 L524.4,172.2 L523.2,172.5 L522.2,172.8 L521.6,174.1 L521.4,175.3 L520.4,175.9Z M450.1,186.2 L451.0,185.7 L451.9,184.7 L452.7,185.9 L453.9,186.2 L453.8,187.0 L453.7,188.0 L453.9,189.5 L452.8,190.6 L452.9,191.8 L451.8,191.7 L450.9,191.4 L450.4,190.0 L449.8,189.1 L449.4,187.5Z M473.1,188.5 L473.9,187.2 L474.9,186.6 L475.4,185.8 L476.1,186.3 L477.0,187.2 L478.3,186.2 L478.9,185.3 L480.3,185.2 L481.5,186.2 L480.7,187.2 L479.2,187.1 L478.2,186.2 L476.6,186.7 L475.7,187.2 L474.7,188.2Z M407.6,158.0 L408.9,157.5 L409.5,156.7 L410.7,156.9 L410.1,155.8 L409.5,154.5 L408.2,154.8 L407.2,155.4 L406.4,155.7 L407.0,156.6Z M413.3,155.7 L414.5,155.2 L416.1,155.0 L415.4,153.4 L414.7,152.7 L414.5,151.7 L414.2,152.6 L413.3,153.4 L413.4,154.8Z M405.2,268.5 L406.1,270.0 L405.6,271.3 L405.9,272.8 L405.9,273.8 L406.1,275.0 L407.0,275.6 L407.5,276.2 L406.9,276.2 L406.7,275.2 L406.8,274.2 L406.5,273.0 L405.3,272.3 L405.6,271.2 L405.1,270.2Z M412.6,278.0 L413.4,279.5 L413.6,280.8 L413.8,281.5 L414.4,282.5 L414.0,283.6 L414.1,285.2 L413.3,284.7 L413.5,283.6 L412.4,282.7 L412.7,281.9 L412.9,280.8 L412.9,279.3Z" fill="#fff" stroke="#000" stroke-width="0.45" stroke-linejoin="round"/>
<path d="M105.3,171.6 L102.2,172.8 L99.2,173.9 L95.3,174.9 L91.5,175.7 L88.4,175.9 L85.4,176.5 M634.7,176.3 L632.5,175.3 L625.6,173.7 M584.2,190.4 L587.2,188.5 L590.3,186.8 L593.4,184.7 L596.4,181.4 L598.7,178.8 M558.9,218.6 L557.4,220.4 M266.2,238.1 L266.7,239.5 L267.0,240.6 L267.0,241.8 L266.7,242.8 L265.9,244.5" fill="none" stroke="#000" stroke-width="0.7" stroke-dasharray="0.9 1.6"/>
<path d="M151.3,161.9 L151.7,162.4 L151.4,163.1 L152.5,163.1 L153.3,163.4 L153.6,164.3 L154.2,165.1 L155.2,164.5 L154.4,164.8 L154.3,165.5 L154.9,165.8 L155.1,166.5 L154.8,167.1 L155.3,167.7 L155.7,168.5 L156.6,168.4 L156.6,169.2 L156.9,169.6 L156.6,170.4 L157.6,170.5 L158.2,170.5 L159.3,170.2 L159.5,170.8 L160.2,171.1 L159.8,171.8 L160.5,172.6 L160.7,173.7 L161.6,173.7 L162.0,174.3 L162.8,174.5 L163.3,174.9 L163.9,175.5 L163.8,176.5 M246.7,334.3 L247.5,334.7 L247.3,335.8 L246.6,336.5 L246.1,337.1 L245.5,337.8 L245.5,338.5 L245.6,339.4 L245.5,340.5 L245.8,341.3 L245.6,341.9 L245.4,342.9 L245.2,343.9 L245.3,344.9 L246.3,345.6 L245.3,345.9 L245.5,346.8 L245.5,347.6 L245.3,348.5 L245.6,349.5 L246.1,349.9 L245.9,350.6 L246.7,350.9 L247.9,350.9 L247.7,351.6 L247.8,352.5 L248.3,353.0 L248.9,353.7 L249.9,353.6 L250.1,354.6 L250.8,355.2 L251.5,355.7 L252.2,355.7 L252.8,355.4 L252.7,354.4 L253.1,355.3 L253.1,356.1 L253.2,356.7 M368.4,159.6 L368.2,158.4 L368.0,157.6 L368.3,156.9 L367.5,156.4 L367.9,155.5 L367.6,154.6 L368.4,154.3 L369.3,153.5 L370.3,153.6 L370.0,152.6 L370.1,151.9 L370.9,152.0 L371.3,151.5 L372.2,151.4 L371.8,150.5 L372.7,150.0 L373.2,149.3 L373.4,148.8 L374.0,149.1 L374.7,149.3 L375.4,148.7 L375.8,148.0 L376.2,147.6 L377.0,147.4 L377.5,148.1 L377.8,147.4 L378.4,147.1 L378.0,146.5 L377.8,145.7 L378.7,145.5 L378.8,144.6 L379.0,144.0 L379.5,143.3 L380.7,143.2 L379.8,142.7 L380.0,141.9 L380.4,141.5 L380.3,140.5 L381.3,140.3 L382.0,140.1 L382.3,139.5 L382.7,138.7 L383.2,137.6 L383.4,136.8 L384.0,136.3 L385.0,136.3 L385.7,136.0 L385.7,135.3 L386.7,135.4 L387.6,135.1 L387.8,134.5 L388.0,133.9 L389.1,133.8 L389.8,133.8 L390.4,133.1 L390.8,132.5 L391.9,132.5 L392.5,131.8 L393.3,131.0 L394.0,130.8 L394.7,130.4 L395.7,130.8 M280.0,147.3 L279.3,147.2 L278.9,146.8 L278.6,146.1 L278.7,145.5 L277.5,145.6 L277.8,144.7 L277.9,144.0 L278.3,143.1 L279.2,142.3 L278.9,141.4 L278.5,140.7 L277.6,140.4 L277.2,139.6 L277.5,139.2 L277.6,138.5 L277.6,137.4 L278.6,136.9 L279.4,137.4 L280.0,137.1 L279.9,136.5 L280.0,135.5 L280.4,134.8 L279.6,134.2 L278.5,133.8 L278.0,133.0 L278.0,132.3 L277.7,131.7 L278.0,130.8 L277.3,130.5 L276.3,130.4 L276.3,129.6 L276.8,129.1 L276.9,128.4 L276.4,127.7 L277.0,126.8 L276.2,126.0 M326.7,132.2 L326.1,132.8 L325.5,132.3 L325.0,131.8 L324.4,131.0 L324.6,130.1 L324.0,129.5 L324.4,129.0 L325.2,128.9 L325.6,128.0 L326.4,127.3 L326.9,127.3 L327.7,127.0 L327.9,127.6 L328.0,128.2 L328.7,127.5 L329.5,127.3 L329.3,126.4 L328.5,126.1 L328.2,125.3 L327.5,124.6 L328.3,123.7 L328.9,122.9 L329.8,123.4 L329.5,122.6 L329.5,121.9 L329.1,120.9 L329.0,120.1 M350.9,166.9 L351.7,166.3 L351.2,165.6 L350.2,165.3 L350.6,164.8 L350.5,164.1 L349.9,163.5 L349.7,163.0" fill="none" stroke="#111" stroke-width="1.1" stroke-linejoin="round" stroke-dasharray="1.6 0.7"/>
<g fill="#111"><circle cx="96.9" cy="284.4" r="0.55"/><circle cx="97.6" cy="284.7" r="0.55"/><circle cx="92.0" cy="296.1" r="0.55"/><circle cx="131.4" cy="290.3" r="0.55"/><circle cx="128.3" cy="288.9" r="0.55"/><circle cx="145.9" cy="277.7" r="0.55"/><circle cx="119.3" cy="260.2" r="0.55"/><circle cx="90.0" cy="262.8" r="0.55"/><circle cx="623.3" cy="252.2" r="0.55"/><circle cx="617.1" cy="249.3" r="0.55"/><circle cx="602.9" cy="252.5" r="0.55"/><circle cx="593.1" cy="251.7" r="0.55"/><circle cx="582.3" cy="242.3" r="0.55"/><circle cx="583.7" cy="239.6" r="0.55"/><circle cx="566.6" cy="251.6" r="0.55"/><circle cx="616.2" cy="263.9" r="0.55"/><circle cx="625.6" cy="261.0" r="0.55"/><circle cx="635.1" cy="276.2" r="0.55"/><circle cx="618.4" cy="290.5" r="0.55"/><circle cx="616.7" cy="287.0" r="0.55"/><circle cx="615.7" cy="285.2" r="0.55"/><circle cx="620.2" cy="293.4" r="0.55"/><circle cx="192.8" cy="305.7" r="0.55"/><circle cx="321.1" cy="202.3" r="0.55"/><circle cx="317.5" cy="201.0" r="0.55"/><circle cx="335.2" cy="218.6" r="0.55"/><circle cx="336.7" cy="219.1" r="0.55"/><circle cx="334.4" cy="211.2" r="0.55"/><circle cx="324.3" cy="239.8" r="0.55"/><circle cx="323.2" cy="237.4" r="0.55"/><circle cx="445.5" cy="270.2" r="0.55"/><circle cx="473.1" cy="256.7" r="0.55"/><circle cx="472.3" cy="263.1" r="0.55"/><circle cx="471.4" cy="274.3" r="0.55"/><circle cx="502.7" cy="243.8" r="0.55"/><circle cx="503.0" cy="246.2" r="0.55"/><circle cx="504.2" cy="252.0" r="0.55"/><circle cx="261.3" cy="211.8" r="0.55"/><circle cx="351.7" cy="287.7" r="0.55"/><circle cx="338.4" cy="275.2" r="0.55"/><circle cx="370.6" cy="262.6" r="0.55"/><circle cx="371.8" cy="260.6" r="0.55"/><circle cx="426.8" cy="281.1" r="0.55"/><circle cx="428.5" cy="281.9" r="0.55"/><circle cx="429.7" cy="282.8" r="0.55"/><circle cx="418.4" cy="340.7" r="0.55"/><circle cx="439.8" cy="339.8" r="0.55"/><circle cx="479.2" cy="323.9" r="0.55"/><circle cx="345.1" cy="328.4" r="0.55"/><circle cx="341.6" cy="322.7" r="0.55"/><circle cx="603.9" cy="356.3" r="0.55"/><circle cx="614.8" cy="348.2" r="0.55"/><circle cx="619.7" cy="351.9" r="0.55"/><circle cx="90.0" cy="335.0" r="0.55"/><circle cx="634.4" cy="346.2" r="0.55"/><circle cx="269.3" cy="242.8" r="0.55"/><circle cx="267.1" cy="241.5" r="0.55"/><circle cx="266.4" cy="239.3" r="0.55"/><circle cx="265.9" cy="238.1" r="0.55"/><circle cx="264.2" cy="236.3" r="0.55"/><circle cx="261.2" cy="234.7" r="0.55"/><circle cx="249.7" cy="229.3" r="0.55"/><circle cx="247.8" cy="228.0" r="0.55"/><circle cx="244.8" cy="225.6" r="0.55"/><circle cx="243.7" cy="223.7" r="0.55"/><circle cx="242.0" cy="224.0" r="0.55"/><circle cx="331.3" cy="150.0" r="0.55"/><circle cx="349.9" cy="153.4" r="0.55"/><circle cx="358.6" cy="157.3" r="0.55"/><circle cx="355.9" cy="160.3" r="0.55"/><circle cx="390.3" cy="120.4" r="0.55"/><circle cx="347.4" cy="130.3" r="0.55"/></g>
</g>
<line x1="84.6" y1="102.22" x2="636.3" y2="102.22" stroke="#b4b4b4" stroke-width="0.65" stroke-dasharray="1.3 0.5"/>
<text transform="translate(80.60,106.42) scale(1.03,1)" font-size="8.3" text-anchor="end" fill="#222" >80° N</text>
<text transform="translate(640.00,106.42) scale(1.03,1)" font-size="8.3" text-anchor="start" fill="#222" >80° N</text>
<line x1="84.6" y1="158.02" x2="636.3" y2="158.02" stroke="#b4b4b4" stroke-width="0.65" stroke-dasharray="1.3 0.5"/>
<text transform="translate(80.60,162.22) scale(1.03,1)" font-size="8.3" text-anchor="end" fill="#222" >60° N</text>
<text transform="translate(640.00,162.22) scale(1.03,1)" font-size="8.3" text-anchor="start" fill="#222" >60° N</text>
<line x1="84.6" y1="198.34" x2="636.3" y2="198.34" stroke="#b4b4b4" stroke-width="0.65" stroke-dasharray="1.3 0.5"/>
<text transform="translate(80.60,202.54) scale(1.03,1)" font-size="8.3" text-anchor="end" fill="#222" >40° N</text>
<text transform="translate(640.00,202.54) scale(1.03,1)" font-size="8.3" text-anchor="start" fill="#222" >40° N</text>
<line x1="84.6" y1="232.05" x2="636.3" y2="232.05" stroke="#b4b4b4" stroke-width="0.65" stroke-dasharray="1.3 0.5"/>
<text transform="translate(80.60,236.25) scale(1.03,1)" font-size="8.3" text-anchor="end" fill="#222" >20° N</text>
<text transform="translate(640.00,236.25) scale(1.03,1)" font-size="8.3" text-anchor="start" fill="#222" >20° N</text>
<line x1="84.6" y1="263.10" x2="636.3" y2="263.10" stroke="#b4b4b4" stroke-width="0.65" stroke-dasharray="1.3 0.5"/>
<text transform="translate(80.60,267.30) scale(1.03,1)" font-size="8.3" text-anchor="end" fill="#222" >0°</text>
<text transform="translate(640.00,267.30) scale(1.03,1)" font-size="8.3" text-anchor="start" fill="#222" >0°</text>
<line x1="84.6" y1="294.15" x2="636.3" y2="294.15" stroke="#b4b4b4" stroke-width="0.65" stroke-dasharray="1.3 0.5"/>
<text transform="translate(80.60,298.35) scale(1.03,1)" font-size="8.3" text-anchor="end" fill="#222" >20° S</text>
<text transform="translate(640.00,298.35) scale(1.03,1)" font-size="8.3" text-anchor="start" fill="#222" >20° S</text>
<line x1="84.6" y1="327.86" x2="636.3" y2="327.86" stroke="#b4b4b4" stroke-width="0.65" stroke-dasharray="1.3 0.5"/>
<text transform="translate(80.60,332.06) scale(1.03,1)" font-size="8.3" text-anchor="end" fill="#222" >40° S</text>
<text transform="translate(640.00,332.06) scale(1.03,1)" font-size="8.3" text-anchor="start" fill="#222" >40° S</text>
<text transform="translate(85.62,83.90) scale(1.03,1)" font-size="8.3" text-anchor="middle" fill="#222" >180°</text>
<text transform="translate(85.62,372.70) scale(1.03,1)" font-size="8.3" text-anchor="middle" fill="#222" >180°</text>
<line x1="176.56" y1="87.4" x2="176.56" y2="362.2" stroke="#b4b4b4" stroke-width="0.65" stroke-dasharray="1.3 0.5"/>
<text transform="translate(177.56,83.90) scale(1.03,1)" font-size="8.3" text-anchor="middle" fill="#222" >120° W</text>
<text transform="translate(177.56,372.70) scale(1.03,1)" font-size="8.3" text-anchor="middle" fill="#222" >120° W</text>
<line x1="268.51" y1="87.4" x2="268.51" y2="362.2" stroke="#b4b4b4" stroke-width="0.65" stroke-dasharray="1.3 0.5"/>
<text transform="translate(269.51,83.90) scale(1.03,1)" font-size="8.3" text-anchor="middle" fill="#222" >60° W</text>
<text transform="translate(269.51,372.70) scale(1.03,1)" font-size="8.3" text-anchor="middle" fill="#222" >60° W</text>
<line x1="360.45" y1="87.4" x2="360.45" y2="362.2" stroke="#b4b4b4" stroke-width="0.65" stroke-dasharray="1.3 0.5"/>
<text transform="translate(361.45,83.90) scale(1.03,1)" font-size="8.3" text-anchor="middle" fill="#222" >0°</text>
<text transform="translate(361.45,372.70) scale(1.03,1)" font-size="8.3" text-anchor="middle" fill="#222" >0°</text>
<line x1="452.39" y1="87.4" x2="452.39" y2="362.2" stroke="#b4b4b4" stroke-width="0.65" stroke-dasharray="1.3 0.5"/>
<text transform="translate(453.39,83.90) scale(1.03,1)" font-size="8.3" text-anchor="middle" fill="#222" >60° E</text>
<text transform="translate(453.39,372.70) scale(1.03,1)" font-size="8.3" text-anchor="middle" fill="#222" >60° E</text>
<line x1="544.34" y1="87.4" x2="544.34" y2="362.2" stroke="#b4b4b4" stroke-width="0.65" stroke-dasharray="1.3 0.5"/>
<text transform="translate(545.34,83.90) scale(1.03,1)" font-size="8.3" text-anchor="middle" fill="#222" >120° E</text>
<text transform="translate(545.34,372.70) scale(1.03,1)" font-size="8.3" text-anchor="middle" fill="#222" >120° E</text>
<rect x="84.6" y="87.4" width="551.70" height="274.80" fill="none" stroke="#555a62" stroke-width="0.7"/>
<line x1="211.90" y1="212.30" x2="138.38" y2="83.89" stroke="#2f4460" stroke-width="1.25"/>
<path d="M135.70,79.20 L140.92,83.59 L136.84,85.92 Z" fill="#2f4460"/>
<line x1="374.90" y1="188.50" x2="377.28" y2="85.50" stroke="#2f4460" stroke-width="1.25"/>
<path d="M377.40,80.10 L379.60,86.55 L374.90,86.44 Z" fill="#2f4460"/>
<line x1="540.30" y1="200.00" x2="618.39" y2="77.75" stroke="#2f4460" stroke-width="1.25"/>
<path d="M621.30,73.20 L619.84,79.86 L615.87,77.33 Z" fill="#2f4460"/>
<line x1="256.00" y1="314.30" x2="127.22" y2="372.38" stroke="#2f4460" stroke-width="1.25"/>
<path d="M122.30,374.60 L127.17,369.83 L129.10,374.11 Z" fill="#2f4460"/>
<line x1="402.80" y1="304.00" x2="415.28" y2="369.20" stroke="#2f4460" stroke-width="1.25"/>
<path d="M416.30,374.50 L412.79,368.66 L417.40,367.77 Z" fill="#2f4460"/>
<line x1="595.00" y1="308.50" x2="620.51" y2="369.22" stroke="#2f4460" stroke-width="1.25"/>
<path d="M622.60,374.20 L617.95,369.21 L622.29,367.39 Z" fill="#2f4460"/>
</svg>
</body></html>
